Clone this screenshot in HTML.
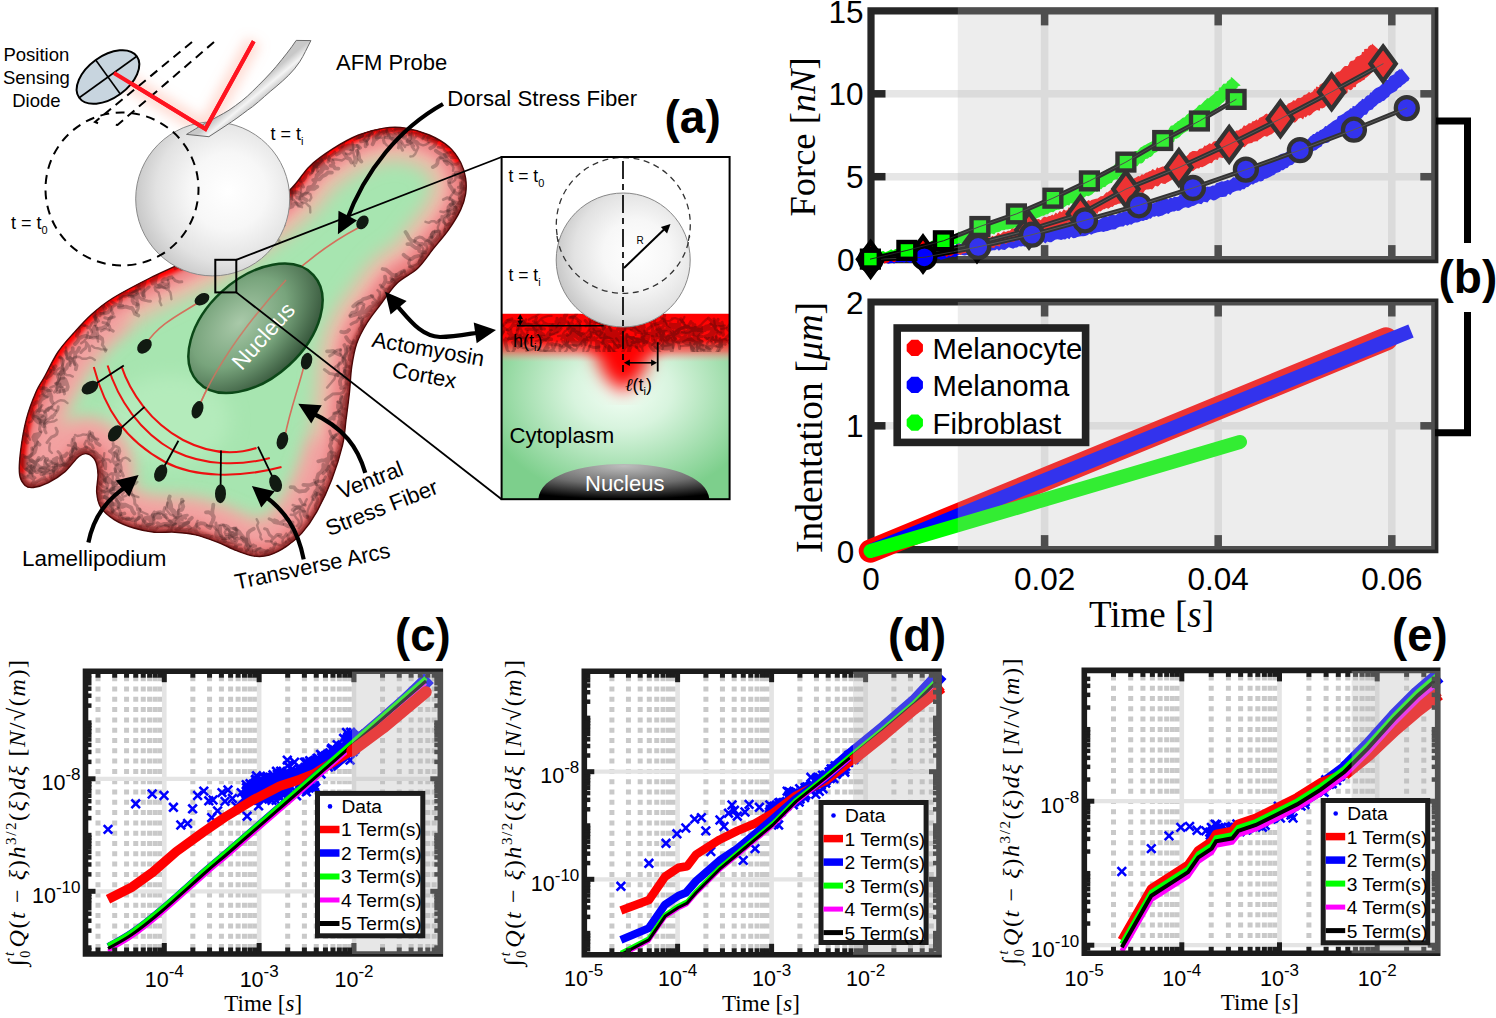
<!DOCTYPE html>
<html><head><meta charset="utf-8"><style>
html,body{margin:0;padding:0;background:#fff;overflow:hidden;}
svg{display:block;}
</style></head><body>
<svg width="1496" height="1018" viewBox="0 0 1496 1018" font-family='"Liberation Sans", sans-serif'>
<defs>
<radialGradient id="sph" cx="0.6" cy="0.45" r="0.62">
 <stop offset="0" stop-color="#ffffff"/><stop offset="0.4" stop-color="#f7f7f7"/><stop offset="0.75" stop-color="#e2e2e2"/><stop offset="1" stop-color="#c6c6c6"/>
</radialGradient>
<radialGradient id="nuc" cx="0.45" cy="0.35" r="0.7">
 <stop offset="0" stop-color="#a9c9a9"/><stop offset="0.5" stop-color="#78a47c"/><stop offset="1" stop-color="#2e4c33"/>
</radialGradient>
<linearGradient id="cant" gradientUnits="userSpaceOnUse" x1="262" y1="80" x2="272" y2="92">
 <stop offset="0" stop-color="#c8c8c8"/><stop offset="0.5" stop-color="#f4f4f4"/><stop offset="1" stop-color="#c4c4c4"/>
</linearGradient>
<radialGradient id="cyto" cx="0.53" cy="0.38" r="0.62">
 <stop offset="0" stop-color="#f4fff6"/><stop offset="0.35" stop-color="#d8f4de"/><stop offset="1" stop-color="#7dcf8c"/>
</radialGradient>
<radialGradient id="inuc" cx="0.5" cy="0.05" r="0.95">
 <stop offset="0" stop-color="#bdbdbd"/><stop offset="0.55" stop-color="#6e6e6e"/><stop offset="1" stop-color="#000"/>
</radialGradient>
<radialGradient id="redv" cx="0.5" cy="0" r="1">
 <stop offset="0" stop-color="#ff0000" stop-opacity="1"/><stop offset="0.6" stop-color="#ff2020" stop-opacity="0.7"/><stop offset="1" stop-color="#ff4040" stop-opacity="0"/>
</radialGradient>
<linearGradient id="redband" x1="0" y1="0" x2="0" y2="1">
 <stop offset="0" stop-color="#ff0000"/><stop offset="0.55" stop-color="#ff0a0a"/><stop offset="0.78" stop-color="#ff5050" stop-opacity="0.7"/><stop offset="1" stop-color="#ffa0a0" stop-opacity="0"/>
</linearGradient>
<filter id="b8" x="-20%" y="-20%" width="140%" height="140%"><feGaussianBlur stdDeviation="9"/></filter>
<filter id="b4" x="-20%" y="-20%" width="140%" height="140%"><feGaussianBlur stdDeviation="4"/></filter>
<filter id="b2" x="-20%" y="-20%" width="140%" height="140%"><feGaussianBlur stdDeviation="2"/></filter>
<filter id="b1"><feGaussianBlur stdDeviation="0.8"/></filter>
<filter id="glow" x="-30%" y="-30%" width="160%" height="160%"><feGaussianBlur stdDeviation="6"/></filter>
<marker id="ah" viewBox="0 0 10 10" refX="8" refY="5" markerWidth="4.2" markerHeight="4.2" orient="auto-start-reverse"><path d="M0,0 L10,5 L0,10 Z" fill="#000"/></marker>
<marker id="ahs" viewBox="0 0 10 10" refX="9" refY="5" markerWidth="5" markerHeight="5" orient="auto-start-reverse"><path d="M0,0.5 L10,5 L0,9.5 Z" fill="#000"/></marker>
</defs>
<rect width="1496" height="1018" fill="#fff"/>
<clipPath id="cellclip"><path d="M113,298 C122.67,292 135.5,285.33 150,278 C164.5,270.67 183.33,263.33 200,254 C216.67,244.67 235.03,232.67 250,222 C264.97,211.33 279.88,199.27 289.8,190 C299.72,180.73 302.3,173.28 309.5,166.4 C316.7,159.52 324.82,153.93 333,148.7 C341.18,143.47 350.08,138.43 358.6,135 C367.12,131.57 376.25,129.25 384.1,128.1 C391.95,126.95 398.17,126.95 405.7,128.1 C413.23,129.25 422.1,131.88 429.3,135 C436.5,138.12 443.67,142.22 448.9,146.8 C454.13,151.38 457.92,157.27 460.7,162.5 C463.48,167.73 464.78,172.97 465.6,178.2 C466.42,183.43 466.42,188.67 465.6,193.9 C464.78,199.13 463.48,203.7 460.7,209.6 C457.92,215.5 453.48,222.75 448.9,229.3 C444.32,235.85 438.43,242.37 433.2,248.9 C427.97,255.43 423.57,262.75 417.5,268.5 C411.43,274.25 403.03,277.3 396.8,283.4 C390.57,289.5 385.12,298.42 380.1,305.1 C375.08,311.78 370.6,317.1 366.7,323.5 C362.8,329.9 359.2,336.27 356.7,343.5 C354.2,350.73 352.9,358.82 351.7,366.9 C350.5,374.98 350.45,383.15 349.5,392 C348.55,400.85 347.15,411.2 346,420 C344.85,428.8 344.97,434.9 342.6,444.8 C340.23,454.7 336.12,468.23 331.8,479.4 C327.48,490.57 321.73,502.8 316.7,511.8 C311.67,520.8 306.65,527.63 301.6,533.4 C296.55,539.17 291.8,542.78 286.4,546.4 C281,550.02 274.6,553.48 269.2,555.1 C263.8,556.72 259.42,556.83 254,556.1 C248.58,555.37 242.82,553.03 236.7,550.7 C230.58,548.37 224.13,544.73 217.3,542.1 C210.47,539.47 202.75,536.55 195.7,534.9 C188.65,533.25 181.88,532.65 175,532.2 C168.12,531.75 161.27,532.9 154.4,532.2 C147.53,531.5 140.45,530.07 133.8,528 C127.15,525.93 120,523.23 114.5,519.8 C109,516.37 103.77,511.98 100.8,507.4 C97.83,502.82 97.17,497.8 96.7,492.3 C96.23,486.8 98.23,479.68 98,474.4 C97.77,469.12 97.13,464.03 95.3,460.6 C93.47,457.17 89.75,454.48 87,453.8 C84.25,453.12 82.47,453.53 78.8,456.5 C75.13,459.47 70.05,467.25 65,471.6 C59.95,475.95 53.77,479.95 48.5,482.6 C43.23,485.25 37.3,487.03 33.4,487.5 C29.5,487.97 27.4,487.58 25.1,485.4 C22.8,483.22 20.35,480.13 19.6,474.4 C18.85,468.67 19.45,460.3 20.6,451 C21.75,441.7 23.93,428.43 26.5,418.6 C29.07,408.77 33.05,398.88 36,392 C38.95,385.12 40.53,383.97 44.2,377.3 C47.87,370.63 53.08,359.38 58,352 C62.92,344.62 68.03,339.33 73.7,333 C79.37,326.67 85.45,319.83 92,314 C98.55,308.17 103.33,304 113,298Z"/></clipPath>
<path d="M114,73 L205.4,129 L253.7,41.2" fill="none" stroke="#ff9a80" stroke-opacity="0.35" stroke-width="16" filter="url(#glow)"/>
<path d="M192,42 L95,122 L101,124.5" fill="none" stroke="#000" stroke-width="2" stroke-dasharray="9 6"/>
<path d="M214,42 L117.5,125 L112,124" fill="none" stroke="#000" stroke-width="2" stroke-dasharray="9 6"/>
<g clip-path="url(#cellclip)">
<path d="M113,298 C122.67,292 135.5,285.33 150,278 C164.5,270.67 183.33,263.33 200,254 C216.67,244.67 235.03,232.67 250,222 C264.97,211.33 279.88,199.27 289.8,190 C299.72,180.73 302.3,173.28 309.5,166.4 C316.7,159.52 324.82,153.93 333,148.7 C341.18,143.47 350.08,138.43 358.6,135 C367.12,131.57 376.25,129.25 384.1,128.1 C391.95,126.95 398.17,126.95 405.7,128.1 C413.23,129.25 422.1,131.88 429.3,135 C436.5,138.12 443.67,142.22 448.9,146.8 C454.13,151.38 457.92,157.27 460.7,162.5 C463.48,167.73 464.78,172.97 465.6,178.2 C466.42,183.43 466.42,188.67 465.6,193.9 C464.78,199.13 463.48,203.7 460.7,209.6 C457.92,215.5 453.48,222.75 448.9,229.3 C444.32,235.85 438.43,242.37 433.2,248.9 C427.97,255.43 423.57,262.75 417.5,268.5 C411.43,274.25 403.03,277.3 396.8,283.4 C390.57,289.5 385.12,298.42 380.1,305.1 C375.08,311.78 370.6,317.1 366.7,323.5 C362.8,329.9 359.2,336.27 356.7,343.5 C354.2,350.73 352.9,358.82 351.7,366.9 C350.5,374.98 350.45,383.15 349.5,392 C348.55,400.85 347.15,411.2 346,420 C344.85,428.8 344.97,434.9 342.6,444.8 C340.23,454.7 336.12,468.23 331.8,479.4 C327.48,490.57 321.73,502.8 316.7,511.8 C311.67,520.8 306.65,527.63 301.6,533.4 C296.55,539.17 291.8,542.78 286.4,546.4 C281,550.02 274.6,553.48 269.2,555.1 C263.8,556.72 259.42,556.83 254,556.1 C248.58,555.37 242.82,553.03 236.7,550.7 C230.58,548.37 224.13,544.73 217.3,542.1 C210.47,539.47 202.75,536.55 195.7,534.9 C188.65,533.25 181.88,532.65 175,532.2 C168.12,531.75 161.27,532.9 154.4,532.2 C147.53,531.5 140.45,530.07 133.8,528 C127.15,525.93 120,523.23 114.5,519.8 C109,516.37 103.77,511.98 100.8,507.4 C97.83,502.82 97.17,497.8 96.7,492.3 C96.23,486.8 98.23,479.68 98,474.4 C97.77,469.12 97.13,464.03 95.3,460.6 C93.47,457.17 89.75,454.48 87,453.8 C84.25,453.12 82.47,453.53 78.8,456.5 C75.13,459.47 70.05,467.25 65,471.6 C59.95,475.95 53.77,479.95 48.5,482.6 C43.23,485.25 37.3,487.03 33.4,487.5 C29.5,487.97 27.4,487.58 25.1,485.4 C22.8,483.22 20.35,480.13 19.6,474.4 C18.85,468.67 19.45,460.3 20.6,451 C21.75,441.7 23.93,428.43 26.5,418.6 C29.07,408.77 33.05,398.88 36,392 C38.95,385.12 40.53,383.97 44.2,377.3 C47.87,370.63 53.08,359.38 58,352 C62.92,344.62 68.03,339.33 73.7,333 C79.37,326.67 85.45,319.83 92,314 C98.55,308.17 103.33,304 113,298Z" fill="#a7e5b0"/>
<ellipse cx="170" cy="420" rx="60" ry="45" fill="#b4ebbb" filter="url(#b8)"/>
<path d="M113,298 C122.67,292 135.5,285.33 150,278 C164.5,270.67 183.33,263.33 200,254 C216.67,244.67 235.03,232.67 250,222 C264.97,211.33 279.88,199.27 289.8,190 C299.72,180.73 302.3,173.28 309.5,166.4 C316.7,159.52 324.82,153.93 333,148.7 C341.18,143.47 350.08,138.43 358.6,135 C367.12,131.57 376.25,129.25 384.1,128.1 C391.95,126.95 398.17,126.95 405.7,128.1 C413.23,129.25 422.1,131.88 429.3,135 C436.5,138.12 443.67,142.22 448.9,146.8 C454.13,151.38 457.92,157.27 460.7,162.5 C463.48,167.73 464.78,172.97 465.6,178.2 C466.42,183.43 466.42,188.67 465.6,193.9 C464.78,199.13 463.48,203.7 460.7,209.6 C457.92,215.5 453.48,222.75 448.9,229.3 C444.32,235.85 438.43,242.37 433.2,248.9 C427.97,255.43 423.57,262.75 417.5,268.5 C411.43,274.25 403.03,277.3 396.8,283.4 C390.57,289.5 385.12,298.42 380.1,305.1 C375.08,311.78 370.6,317.1 366.7,323.5 C362.8,329.9 359.2,336.27 356.7,343.5 C354.2,350.73 352.9,358.82 351.7,366.9 C350.5,374.98 350.45,383.15 349.5,392 C348.55,400.85 347.15,411.2 346,420 C344.85,428.8 344.97,434.9 342.6,444.8 C340.23,454.7 336.12,468.23 331.8,479.4 C327.48,490.57 321.73,502.8 316.7,511.8 C311.67,520.8 306.65,527.63 301.6,533.4 C296.55,539.17 291.8,542.78 286.4,546.4 C281,550.02 274.6,553.48 269.2,555.1 C263.8,556.72 259.42,556.83 254,556.1 C248.58,555.37 242.82,553.03 236.7,550.7 C230.58,548.37 224.13,544.73 217.3,542.1 C210.47,539.47 202.75,536.55 195.7,534.9 C188.65,533.25 181.88,532.65 175,532.2 C168.12,531.75 161.27,532.9 154.4,532.2 C147.53,531.5 140.45,530.07 133.8,528 C127.15,525.93 120,523.23 114.5,519.8 C109,516.37 103.77,511.98 100.8,507.4 C97.83,502.82 97.17,497.8 96.7,492.3 C96.23,486.8 98.23,479.68 98,474.4 C97.77,469.12 97.13,464.03 95.3,460.6 C93.47,457.17 89.75,454.48 87,453.8 C84.25,453.12 82.47,453.53 78.8,456.5 C75.13,459.47 70.05,467.25 65,471.6 C59.95,475.95 53.77,479.95 48.5,482.6 C43.23,485.25 37.3,487.03 33.4,487.5 C29.5,487.97 27.4,487.58 25.1,485.4 C22.8,483.22 20.35,480.13 19.6,474.4 C18.85,468.67 19.45,460.3 20.6,451 C21.75,441.7 23.93,428.43 26.5,418.6 C29.07,408.77 33.05,398.88 36,392 C38.95,385.12 40.53,383.97 44.2,377.3 C47.87,370.63 53.08,359.38 58,352 C62.92,344.62 68.03,339.33 73.7,333 C79.37,326.67 85.45,319.83 92,314 C98.55,308.17 103.33,304 113,298Z" fill="none" stroke="#f0b8a8" stroke-width="66" filter="url(#b8)"/>
<path d="M113,298 C122.67,292 135.5,285.33 150,278 C164.5,270.67 183.33,263.33 200,254 C216.67,244.67 235.03,232.67 250,222 C264.97,211.33 279.88,199.27 289.8,190 C299.72,180.73 302.3,173.28 309.5,166.4 C316.7,159.52 324.82,153.93 333,148.7 C341.18,143.47 350.08,138.43 358.6,135 C367.12,131.57 376.25,129.25 384.1,128.1 C391.95,126.95 398.17,126.95 405.7,128.1 C413.23,129.25 422.1,131.88 429.3,135 C436.5,138.12 443.67,142.22 448.9,146.8 C454.13,151.38 457.92,157.27 460.7,162.5 C463.48,167.73 464.78,172.97 465.6,178.2 C466.42,183.43 466.42,188.67 465.6,193.9 C464.78,199.13 463.48,203.7 460.7,209.6 C457.92,215.5 453.48,222.75 448.9,229.3 C444.32,235.85 438.43,242.37 433.2,248.9 C427.97,255.43 423.57,262.75 417.5,268.5 C411.43,274.25 403.03,277.3 396.8,283.4 C390.57,289.5 385.12,298.42 380.1,305.1 C375.08,311.78 370.6,317.1 366.7,323.5 C362.8,329.9 359.2,336.27 356.7,343.5 C354.2,350.73 352.9,358.82 351.7,366.9 C350.5,374.98 350.45,383.15 349.5,392 C348.55,400.85 347.15,411.2 346,420 C344.85,428.8 344.97,434.9 342.6,444.8 C340.23,454.7 336.12,468.23 331.8,479.4 C327.48,490.57 321.73,502.8 316.7,511.8 C311.67,520.8 306.65,527.63 301.6,533.4 C296.55,539.17 291.8,542.78 286.4,546.4 C281,550.02 274.6,553.48 269.2,555.1 C263.8,556.72 259.42,556.83 254,556.1 C248.58,555.37 242.82,553.03 236.7,550.7 C230.58,548.37 224.13,544.73 217.3,542.1 C210.47,539.47 202.75,536.55 195.7,534.9 C188.65,533.25 181.88,532.65 175,532.2 C168.12,531.75 161.27,532.9 154.4,532.2 C147.53,531.5 140.45,530.07 133.8,528 C127.15,525.93 120,523.23 114.5,519.8 C109,516.37 103.77,511.98 100.8,507.4 C97.83,502.82 97.17,497.8 96.7,492.3 C96.23,486.8 98.23,479.68 98,474.4 C97.77,469.12 97.13,464.03 95.3,460.6 C93.47,457.17 89.75,454.48 87,453.8 C84.25,453.12 82.47,453.53 78.8,456.5 C75.13,459.47 70.05,467.25 65,471.6 C59.95,475.95 53.77,479.95 48.5,482.6 C43.23,485.25 37.3,487.03 33.4,487.5 C29.5,487.97 27.4,487.58 25.1,485.4 C22.8,483.22 20.35,480.13 19.6,474.4 C18.85,468.67 19.45,460.3 20.6,451 C21.75,441.7 23.93,428.43 26.5,418.6 C29.07,408.77 33.05,398.88 36,392 C38.95,385.12 40.53,383.97 44.2,377.3 C47.87,370.63 53.08,359.38 58,352 C62.92,344.62 68.03,339.33 73.7,333 C79.37,326.67 85.45,319.83 92,314 C98.55,308.17 103.33,304 113,298Z" fill="none" stroke="#f29c9c" stroke-width="40" filter="url(#b4)"/>
<path d="M342.6,444.8 L341.8,447.9 L341.0,451.1 L340.0,454.5 L339.0,458.0 L337.9,461.6 L336.8,465.2 L335.6,468.9 L334.4,472.5 L333.1,476.0 L331.8,479.4 L330.5,482.8 L329.1,486.2 L327.6,489.6 L326.1,493.0 L324.5,496.4 L322.9,499.7 L321.4,502.9 L319.8,506.0 L318.2,509.0 L316.7,511.8 L315.2,514.4 L313.7,516.9 L312.2,519.3 L310.7,521.6 L309.2,523.8 L307.6,525.9 L306.1,527.9 L304.6,529.8 L303.1,531.6 L301.6,533.4 L300.1,535.1 L298.6,536.6 L297.1,538.1 L295.6,539.4 L294.1,540.7 L292.6,541.9 L291.1,543.1 L289.6,544.2 L288.0,545.3 L286.4,546.4 L284.8,547.5 L283.1,548.5 L281.3,549.6 L279.6,550.6 L277.8,551.5 L276.0,552.4 L274.3,553.2 L272.5,553.9 L270.8,554.6 L269.2,555.1 L267.6,555.5 L266.1,555.9 L264.6,556.2 L263.1,556.4 L261.6,556.5 L260.1,556.5 L258.7,556.5 L257.1,556.4 L255.6,556.3 L254.0,556.1 L252.4,555.8 L250.7,555.5 L249.0,555.1 L247.3,554.6 L245.6,554.0 L243.9,553.4 L242.1,552.8 L240.3,552.1 L238.5,551.4 L236.7,550.7 L234.9,550.0 L233.0,549.2 L231.1,548.3 L229.2,547.4 L227.3,546.5 L225.3,545.6 L223.3,544.7 L221.4,543.8 L219.3,542.9 L217.3,542.1 L215.2,541.3 L213.1,540.5 L211.0,539.7 L208.8,538.9 L206.6,538.1 L204.4,537.4 L202.2,536.7 L200.0,536.0 L197.8,535.4 L195.7,534.9 L193.6,534.4 L191.5,534.0 L189.4,533.7 L187.4,533.4 L185.3,533.1 L183.2,532.9 L181.2,532.7 L179.1,532.5 L177.1,532.3 L175.0,532.2 L172.9,532.1 L170.9,532.1 L168.8,532.1 L166.8,532.2 L164.7,532.3 L162.6,532.4 L160.6,532.4 L158.5,532.4 L156.5,532.4 L154.4,532.2 L152.3,532.0 L150.3,531.7 L148.2,531.4 L146.1,531.0 L144.0,530.6 L141.9,530.2 L139.9,529.7 L137.8,529.2 L135.8,528.6 L133.8,528.0 L131.8,527.4 L129.8,526.7 L127.7,526.0 L125.7,525.2 L123.7,524.4 L121.8,523.6 L119.8,522.7 L118.0,521.8 L116.2,520.8 L114.5,519.8 L112.9,518.7 L111.2,517.6 L109.7,516.5 L108.2,515.3 L106.7,514.0 L105.3,512.8 L104.0,511.5 L102.8,510.1 L101.8,508.8 L100.8,507.4 L100.0,506.0 L99.3,504.6 L98.7,503.2 L98.2,501.7 L97.8,500.2 L97.5,498.7 L97.2,497.1 L97.0,495.5 L96.8,493.9 L96.7,492.3 L96.6,490.6 L96.7,488.8 L96.8,487.0 L97.0,485.1 L97.3,483.3 L97.5,481.4 L97.7,479.6 L97.9,477.8 L98.0,476.0 L98.0,474.4 L97.9,472.8 L97.8,471.3 L97.7,469.7 L97.5,468.2 L97.2,466.8 L97.0,465.4 L96.6,464.1 L96.3,462.8 L95.8,461.7 L95.3,460.6 L94.7,459.6 L94.0,458.6 L93.2,457.7 L92.4,456.9 L91.5,456.2 L90.6,455.5 L89.7,454.9 L88.7,454.4 L87.9,454.1 L87.0,453.8 L86.2,453.6 L85.4,453.5 L84.7,453.5 L84.0,453.6 L83.2,453.8 L82.5,454.1 L81.7,454.5 L80.8,455.0 L79.8,455.7 L78.8,456.5 L77.7,457.5 L76.4,458.8 L75.2,460.2 L73.8,461.8 L72.4,463.5 L71.0,465.3 L69.5,467.0 L68.0,468.6 L66.5,470.2 L65.0,471.6 L63.5,472.9 L61.9,474.2 L60.2,475.4 L58.5,476.6 L56.8,477.7 L55.1,478.8 L53.4,479.9 L51.8,480.9 L50.1,481.8 L48.5,482.6 L46.9,483.4 L45.3,484.1 L43.7,484.7 L42.0,485.3 L40.4,485.9 L38.9,486.3 L37.4,486.7 L36.0,487.1 L34.6,487.3 L33.4,487.5 L32.3,487.6 L31.3,487.7 L30.3,487.7 L29.5,487.6 L28.7,487.4 L27.9,487.2 L27.2,486.9 L26.5,486.5 L25.8,486.0 L25.1,485.4 L24.4,484.7 L23.7,484.0 L23.0,483.1 L22.4,482.2 L21.8,481.2 L21.2,480.1 L20.7,478.9 L20.2,477.5 L19.9,476.0 L19.6,474.4 L19.4,472.6 L19.3,470.7 L19.3,468.6 L19.3,466.4 L19.4,464.0 L19.5,461.6 L19.7,459.1 L20.0,456.5 L20.3,453.8 L20.6,451.0 L21.0,448.1 L21.4,445.0 L21.9,441.8 L22.4,438.4 L23.0,435.0 L23.6,431.6 L24.3,428.2 L25.0,424.9 L25.7,421.6 L26.5,418.6 L27.3,415.7 L28.2,412.7 L29.1,409.8 L30.1,407.0 L31.1,404.2 L32.1,401.5 L33.1,398.9 L34.1,396.5 L35.1,394.2 L36.0,392.0 L36.8,390.1 L37.6,388.5 L38.4,387.0 L39.1,385.8 L39.8,384.6 L40.6,383.4 L41.4,382.1 L42.2,380.7 L43.2,379.1 L44.2,377.3 L45.3,375.2 L46.6,372.8 L47.9,370.3 L49.2,367.6 L50.6,364.9 L52.1,362.2 L53.5,359.5 L55.0,356.8 L56.5,354.3 L58.0,352.0 L59.5,349.8 L61.0,347.8 L62.5,345.8 L64.0,343.9 L65.6,342.1 L67.1,340.3 L68.7,338.5 L70.4,336.7 L72.0,334.9 L73.7,333.0 L75.4,331.1 L77.2,329.2 L78.9,327.2 L80.7,325.3 L82.5,323.3 L84.4,321.4 L86.2,319.5 L88.1,317.6 L90.0,315.8 L92.0,314.0 L93.9,312.3 L95.8,310.7 L97.6,309.1 L99.4,307.6 L101.3,306.1 L103.3,304.5 L105.4,303.0 L107.7,301.4 L110.2,299.7 L113.0,298.0" fill="none" stroke="#f2a0a0" stroke-width="64" filter="url(#b8)"/>
<path d="M113,298 C122.67,292 135.5,285.33 150,278 C164.5,270.67 183.33,263.33 200,254 C216.67,244.67 235.03,232.67 250,222 C264.97,211.33 279.88,199.27 289.8,190 C299.72,180.73 302.3,173.28 309.5,166.4 C316.7,159.52 324.82,153.93 333,148.7 C341.18,143.47 350.08,138.43 358.6,135 C367.12,131.57 376.25,129.25 384.1,128.1 C391.95,126.95 398.17,126.95 405.7,128.1 C413.23,129.25 422.1,131.88 429.3,135 C436.5,138.12 443.67,142.22 448.9,146.8 C454.13,151.38 457.92,157.27 460.7,162.5 C463.48,167.73 464.78,172.97 465.6,178.2 C466.42,183.43 466.42,188.67 465.6,193.9 C464.78,199.13 463.48,203.7 460.7,209.6 C457.92,215.5 453.48,222.75 448.9,229.3 C444.32,235.85 438.43,242.37 433.2,248.9 C427.97,255.43 423.57,262.75 417.5,268.5 C411.43,274.25 403.03,277.3 396.8,283.4 C390.57,289.5 385.12,298.42 380.1,305.1 C375.08,311.78 370.6,317.1 366.7,323.5 C362.8,329.9 359.2,336.27 356.7,343.5 C354.2,350.73 352.9,358.82 351.7,366.9 C350.5,374.98 350.45,383.15 349.5,392 C348.55,400.85 347.15,411.2 346,420 C344.85,428.8 344.97,434.9 342.6,444.8 C340.23,454.7 336.12,468.23 331.8,479.4 C327.48,490.57 321.73,502.8 316.7,511.8 C311.67,520.8 306.65,527.63 301.6,533.4 C296.55,539.17 291.8,542.78 286.4,546.4 C281,550.02 274.6,553.48 269.2,555.1 C263.8,556.72 259.42,556.83 254,556.1 C248.58,555.37 242.82,553.03 236.7,550.7 C230.58,548.37 224.13,544.73 217.3,542.1 C210.47,539.47 202.75,536.55 195.7,534.9 C188.65,533.25 181.88,532.65 175,532.2 C168.12,531.75 161.27,532.9 154.4,532.2 C147.53,531.5 140.45,530.07 133.8,528 C127.15,525.93 120,523.23 114.5,519.8 C109,516.37 103.77,511.98 100.8,507.4 C97.83,502.82 97.17,497.8 96.7,492.3 C96.23,486.8 98.23,479.68 98,474.4 C97.77,469.12 97.13,464.03 95.3,460.6 C93.47,457.17 89.75,454.48 87,453.8 C84.25,453.12 82.47,453.53 78.8,456.5 C75.13,459.47 70.05,467.25 65,471.6 C59.95,475.95 53.77,479.95 48.5,482.6 C43.23,485.25 37.3,487.03 33.4,487.5 C29.5,487.97 27.4,487.58 25.1,485.4 C22.8,483.22 20.35,480.13 19.6,474.4 C18.85,468.67 19.45,460.3 20.6,451 C21.75,441.7 23.93,428.43 26.5,418.6 C29.07,408.77 33.05,398.88 36,392 C38.95,385.12 40.53,383.97 44.2,377.3 C47.87,370.63 53.08,359.38 58,352 C62.92,344.62 68.03,339.33 73.7,333 C79.37,326.67 85.45,319.83 92,314 C98.55,308.17 103.33,304 113,298Z" fill="none" stroke="#ec8080" stroke-width="26" filter="url(#b4)"/>
<path d="M19.6,474.4 L19.4,472.6 L19.3,470.7 L19.3,468.6 L19.3,466.4 L19.4,464.0 L19.5,461.6 L19.7,459.1 L20.0,456.5 L20.3,453.8 L20.6,451.0 L21.0,448.1 L21.4,445.0 L21.9,441.8 L22.4,438.4 L23.0,435.0 L23.6,431.6 L24.3,428.2 L25.0,424.9 L25.7,421.6 L26.5,418.6 L27.3,415.7 L28.2,412.7 L29.1,409.8 L30.1,407.0 L31.1,404.2 L32.1,401.5 L33.1,398.9 L34.1,396.5 L35.1,394.2 L36.0,392.0 L36.8,390.1 L37.6,388.5 L38.4,387.0 L39.1,385.8 L39.8,384.6 L40.6,383.4 L41.4,382.1 L42.2,380.7 L43.2,379.1 L44.2,377.3 L45.3,375.2 L46.6,372.8 L47.9,370.3 L49.2,367.6 L50.6,364.9 L52.1,362.2 L53.5,359.5 L55.0,356.8 L56.5,354.3 L58.0,352.0 L59.5,349.8 L61.0,347.8 L62.5,345.8 L64.0,343.9 L65.6,342.1 L67.1,340.3 L68.7,338.5 L70.4,336.7 L72.0,334.9 L73.7,333.0 L75.4,331.1 L77.2,329.2 L78.9,327.2 L80.7,325.3 L82.5,323.3 L84.4,321.4 L86.2,319.5 L88.1,317.6 L90.0,315.8 L92.0,314.0 L93.9,312.3 L95.8,310.7 L97.6,309.1 L99.4,307.6 L101.3,306.1 L103.3,304.5 L105.4,303.0 L107.7,301.4 L110.2,299.7 L113.0,298.0 L116.0,296.2 L119.2,294.3 L122.5,292.4 L126.0,290.5 L129.7,288.5 L133.5,286.5 L137.4,284.4 L141.5,282.3 L145.7,280.2 L150.0,278.0 L154.5,275.8 L159.2,273.6 L164.0,271.3 L169.1,269.1 L174.2,266.8 L179.4,264.4 L184.6,261.9 L189.8,259.4 L194.9,256.7 L200.0,254.0 L205.0,251.1 L210.2,248.1 L215.3,245.0 L220.5,241.8 L225.6,238.5 L230.7,235.2 L235.7,231.9 L240.7,228.5 L245.4,225.2 L250.0,222.0 L254.5,218.8 L258.9,215.5 L263.3,212.1 L267.6,208.8 L271.8,205.5 L275.8,202.2 L279.7,199.0 L283.3,195.9 L286.7,192.9 L289.8,190.0 L292.6,187.3 L295.0,184.6 L297.1,182.1 L298.9,179.7 L300.7,177.3 L302.3,175.0 L303.9,172.8 L305.6,170.6 L307.5,168.5 L309.5,166.4 L311.7,164.4 L313.9,162.4 L316.2,160.5 L318.5,158.7 L320.9,156.9 L323.3,155.2 L325.7,153.5 L328.1,151.9 L330.5,150.3 L333.0,148.7 L335.5,147.1 L338.0,145.6 L340.5,144.1 L343.1,142.6 L345.7,141.2 L348.3,139.8 L350.9,138.5 L353.5,137.2 L356.0,136.1 L358.6,135.0 L361.2,134.0 L363.8,133.1 L366.4,132.2 L369.0,131.4 L371.6,130.7 L374.2,130.0 L376.7,129.4 L379.3,128.9 L381.7,128.5 L384.1,128.1 L386.4,127.8 L388.6,127.5 L390.8,127.4 L392.9,127.3 L395.0,127.2 L397.1,127.3 L399.2,127.4 L401.3,127.5 L403.5,127.8 L405.7,128.1 L408.0,128.5 L410.4,129.0 L412.8,129.5 L415.2,130.1 L417.6,130.8 L420.1,131.6 L422.5,132.4 L424.8,133.2 L427.1,134.1 L429.3,135.0 L431.5,136.0 L433.6,137.0 L435.7,138.1 L437.8,139.2 L439.8,140.3 L441.8,141.6 L443.7,142.8 L445.5,144.1 L447.3,145.4 L448.9,146.8 L450.4,148.2 L451.9,149.7 L453.2,151.2 L454.5,152.8 L455.7,154.4 L456.9,156.0 L457.9,157.7 L458.9,159.3 L459.8,160.9 L460.7,162.5" fill="none" stroke="#ff0000" stroke-width="11" filter="url(#b2)"/>
<path d="M201.3,256.2l0.5,-2.8 1.7,-3.6 1.6,-2.6 2.6,-0.4 2.5,1.4 2.7,-0.4 3.3,-1.7M339.4,362.6l-1.2,3.3 0.4,3.4 0.2,3.8 -1,2.7M50.1,474.1l0.3,3.2 1.7,2 3.6,0.4 2.4,-1.6 2.8,-2.7M310.2,174.5l2.6,-2.8 1.1,-2.9 0.4,-3.8 2.1,-1.7M287.3,534.9l-2.5,2 -1.9,1.8 -0.5,3 1.1,3.5 2,1.6 0.3,3.3M178.3,514.4l-0.1,-3.8 1,-2.7 0.2,-2.8 1.8,-2.7 2.7,-1.4M285.6,541.8l-1.5,2.8 -3.5,1 -3.6,-1.5 -3.3,0.1 -2.7,-2.6 -2.7,-0.3 -2.6,-0.1M299.4,199.7l0.6,-2.5 1.6,-2.7 -0.8,-3.8 0.2,-3.7 -2.5,-2.9M35.3,477.8l-2.4,-1.8 -1.1,-3.4 -0.2,-3.1 -0.9,-2.5M91.9,332.3l-1,-2.6 -1.6,-2.1 -3,-1.7 -3.7,-0.2 -2.9,2.3M111.5,498.9l2.9,-1.8 3.5,0.6 2.4,1.4M167.9,279.8l1,3.2 0.2,3.4 -0.9,3.2 2.2,2.9 0.6,3.2 0.4,3.5M338.1,433.5l-2.7,2 -1.5,2.1 -1.5,2.5M444.1,160.6l2.9,0.6 2.8,2.4 2.2,1.4 1.5,2.7 -0.5,3.2M225.7,539.4l-3.4,0.4 -2.1,2.6 -3.1,1 -2.8,1.2 -3.1,-0.1 -2.9,-0.4M79.8,331.6l0,-3.8 -0.6,-3.4 -1,-2.9 1,-3.8M154.6,287.3l0.8,3.1 3.2,2.1 0.8,3.2 0.9,3.1 -0.6,2.7 1.6,3.7M70.2,365.9l0.5,-3.6 -1.8,-2 -1.5,-2.1 -1,-3.8 -0,-3.3 -0.5,-3.6M118.3,508.1l-3.4,1.5 -1.8,2.2 -2.7,1.2 -3,-1.2M38.2,418.9l2.4,1.3 2.6,0.9 1.1,2.5M455.8,176.8l2.9,0.7 3.7,-0 2,-2 2.7,-0.9M422.6,138.9l2,-3.2 2,-2.3 1.9,-3.5 1.5,-2.5M235.7,528.6l-2.8,-0.5 -3.1,-0.2 -2,-2 -3.4,0.2 -2.4,-1.5 -3.2,0.7M353.6,340.0l-1,3.2 -1.4,2.5 -0.8,2.6M241.1,544.6l-2.7,-0.1 -2.1,1.7 -2.6,1.6M269.0,210.6l-2.2,-2.6 -2.6,-2 -2.9,0 -3.9,-0.1 -2.6,2 -3.9,0.4M233.6,543.0l-3.1,-0.4 -2.6,-0 -3.1,-0.7 -3.6,0.9 -3.1,-0.8 -3,1M197.5,261.5l2.4,-2.5 -0.2,-2.7 1.9,-2.3 2.3,-1.2 3.9,-0.1 3.5,0.9M91.8,345.8l3,2.1 2.9,0.3 2.9,1 2.6,0.2 3.4,0.3M40.2,422.4l3.4,-1.2 2.7,-2.7 -0.1,-3.3 -0.5,-2.8 -3.1,-2 -3.2,1 -2.4,-1.3M87.5,328.1l2.8,-1.6 1.7,-3.5 2.5,-1.4 1.6,-3.5M30.0,439.7l-1.8,-3.3 -0.6,-3.7 -1,-3.5 -0.4,-2.9 -2.1,-2.7 -3.8,-0.6 -2.3,1.2M389.1,133.9l2.9,0.8 2.8,-0.2 2.9,1.9 1.5,2.3 2.3,2.9 1.4,2.3 2.1,3.1M341.6,422.1l-0.3,2.7 1.1,2.8 0.9,2.6 1.6,2.3 -0.8,3.5 1.8,3.5 2.9,1M72.2,439.1l-0.6,3.8 0.9,3.7 0.7,2.4 -1,3M338.5,410.6l1.4,3.3 2.7,0.8 2.2,2.9 1.6,3M395.3,282.0l-2.5,2.4 -2.2,1.6 -1.7,2.6 -3.9,0.6 -3,-2.6 -2.1,-1.7M419.5,260.4l-1.7,3.3 -2.6,1.5 -2.9,0.8 -3.3,1M221.9,536.6l-3.1,-2.2 -0.8,-3.5 -2.9,-2.4 -1.5,-2.1 -3.9,-0.2 -2.7,-0.9M299.6,508.1l1.2,2.4 -0.9,3.6 1.3,3.6 0.5,3.7 -0.6,3.7 -2.4,3M314.3,479.9l0.9,3.1 2,2.6 -0.6,3.4 -2,2.3 -1,2.7 -1.8,3M319.9,494.2l1.9,1.6 2.3,2.5 0.1,3.2 -0.2,3.8 -1.6,2.7 -2.3,2M147.5,514.3l-3.1,-1.3 -3.2,-1.3 -1.8,-3.4M298.8,507.6l-3,1.3 -1.6,2.3 0.3,3.7 1.6,2.9 2.5,2.8 0.3,2.8 -2,2.6M57.1,389.5l-1.1,-3.3 1.6,-3.1 0.9,-3 -1.2,-3.8 1.5,-2.3M140.9,525.7l0.2,3.4 1,3.5 -0.9,3.8 -2.5,1.7M260.2,548.1l-3.2,1.4 -1.3,2.4 1,3.5 0.5,2.6M55.9,383.6l2.1,-1.8 2.3,-3.3 3.9,-0.2M404.1,270.9l1.5,3.1 1.6,2.8 1.6,2.8 0,3.9 1.2,2.8M118.3,460.1l-1.1,-2.4 -0.1,-3.2 -2.8,-2.4M250.0,546.3l-2,3.3 -2,1.5 -0.8,3.1 -0.8,2.9 1.3,2.8 3,1.6M292.3,199.0l2,1.5 2.2,2.8 1.6,3 3.9,0.9M409.0,134.7l2.7,-0.4 2.5,-1.3 2.8,-0.5 3,-1 2.6,1.8M51.9,453.0l-2.4,-2.4 -0.2,-3.4 0.7,-3.7M110.7,473.7l3.5,0.6 3.2,0.1 2.5,-2.5 1.6,-2 -0.2,-2.8 -0.8,-3.2 0.1,-3.8M377.5,290.1l2,2.2 0.4,3.3 -0.5,2.8 -0.5,3.3 0.8,3.3 0.8,3.9 0.2,3.2M291.8,198.4l0.4,-2.7 0.6,-3.7 1.4,-3.5M237.4,530.2l-2.9,-1.1 -2.9,-0.8 -2.9,-0.5 -2.8,2.3 -1.2,2.4M175.6,518.1l-2.3,-2.6 -3.3,-1.2 -2.2,-2.9 -1.7,-2.3 0.7,-3.6 0.7,-2.7M393.0,131.2l2.8,-2.1 2.6,-0.7 3.3,0.3 3.2,-1.3 1.6,-2.7 3.4,-1M459.4,198.6l1.8,3.5 0.5,2.8 1.7,2.2 3.6,0.2 2.3,1.8M81.2,343.2l2.9,-2 2,-2.8 1.4,-3.2 0.4,-2.8M304.9,511.4l-3.3,-0.4 -2.7,0.2 -3,2.4 -2.3,1.4 -2.9,-0.2M333.1,159.5l2.8,0 2.7,0.4 3.3,0.6 2.6,-1.7M73.6,456.3l-3.3,1.6 -1.6,3.6 -1.9,1.8 -3.1,0.5 -2.9,2.7 -2.9,2.1 -1.1,3.6M398.8,132.5l1.4,3.1 2.2,1.1 3.6,-0.9M299.5,199.9l2.5,2.2 3.9,1.1 2.1,2 2,1.5 0.2,3.2 0.1,2.6M438.0,147.3l3.3,0.5 3.1,-1.7 3.8,0.9 2.5,-1.3 2.7,-2 0.8,-3.6 2,-2M46.0,424.0l1.8,-1.7 3.2,-0.4 3.3,-0.6 2.3,-1.5M461.9,196.3l-0.9,2.6 0.4,3.5 1.8,2.6 3.1,1.4 1.6,3 3.1,1.9 0.7,3.3M205.9,264.4l1,-2.7 1.4,-2.1 0.7,-2.5 -0.1,-3.8M236.1,542.3l-3.7,-1 -1.8,-1.9 -2,-3.1 1,-2.9 3.4,-1.7M38.7,470.3l1.5,-2.4 3.2,-0.5 3,0.2 2.6,1.9 3.6,1.2M350.5,150.3l2.8,1.7 0.6,3.6 0.8,3.8 -1.1,3.8 1.1,2.7M453.0,210.1l-3.1,1.5 -2.6,-1 -3.3,1.6 -3.6,-0.7M435.0,230.6l0.4,3 -2.1,2.9 -3.8,1 -1.3,2.6 -2.9,1.9 -0.5,3.2M117.9,299.5l2.4,-1.1 2.5,-2.1 3,0.2 3.6,-1.8 3.5,0.9 2.7,-0.5 2.2,-1.5M376.1,138.2l3,-0.4 3.3,0 1.6,2.1 0.6,3 1.8,2 2.9,2M94.3,316.6l1.5,-2.6 0.2,-3.8 0.6,-3.2 0,-2.6 -1.2,-3.6 0.8,-3.7 -0.6,-2.7M357.1,145.3l1.5,2.3 -0.6,2.9 -0.4,3.6 -1.5,3.3 1.2,2.3 -1.2,3.5M46.2,378.4l1.7,-3.5 1.7,-1.9 1.4,-2.9M32.7,449.7l0.9,-2.4 2.8,-2.2 1.3,-3.4M103.7,504.2l-3.2,-1.4 -3.2,1 -1.9,2.9M389.3,135.6l1,2.4 1.7,2.1 3.4,1.3M57.1,467.8l-2.7,-0.7 -3.9,0.2 -2.3,-1.1 -1.5,-2.3 -1.5,-2.3 -0.1,-3.6M48.3,410.7l1.6,-2.6 2.8,-2.7 2.7,-2.5 2.9,-1.8 2.5,-0.9 3.6,0.6 3.1,2.3M23.4,475.5l-3.4,-1.7 -2.5,-1.6 -0.6,-2.9M98.1,341.5l-0.7,-3.5 0.6,-3.4 -0.6,-2.5 -0.2,-3.7 -1.3,-2.5M107.2,488.1l0.9,-3.3 -1.7,-2.8 -1.9,-2.6 -3.3,-2.1 -0.5,-3.3 -2,-2.7M121.8,494.8l1.8,-1.8 0.7,-2.5 2.8,-2.1 2.7,-1.2 2.1,-1.7 3.6,-1.7 1.8,-1.9M273.1,207.1l0.6,-2.5 2.9,-2.7 0.3,-3.6 -1.5,-3 1.1,-3.7 -0,-3.3 -0.3,-3.6M175.4,523.4l-2.1,1.5 -1.8,3.6 0.1,3.1 -1.7,3.3 -2.5,2.7 0.3,2.6M58.1,463.4l-1.1,3.8 -1.2,2.4 -1.7,3 0.6,2.8M50.3,387.6l2.9,-1.3 3.1,-0.2 2.5,0.9 1.3,2.7 -0.3,2.5M242.8,231.6l0.5,-2.5 -1.3,-3.6 -2.9,-2 -2.5,-2.4 -2.7,-0.5M425.4,242.8l1.2,2.5 0.5,3.8 -1.5,2.2 -3.4,1.9 -0.8,3.4M253.5,236.7l2.8,-1.6 1.8,-2 2,-2.5 3.7,-0.3M123.1,499.5l-1.9,-1.6 -2.9,-2.2 -3.2,-1.9 -3.9,-0.7M347.9,346.0l-1.1,3.2 0.2,3.1 -2.4,3.1 -0,3M454.9,189.5l-1,2.5 -1.7,2.4 -1.8,2.1 -0.9,3.3M324.1,492.1l-1.1,2.6 0.5,2.8 -1.9,3.1 -0.1,2.6M72.8,376.6l-2.7,-1.3 -3.6,-0.2 -2.3,-2.1 -0.1,-2.9 -1.2,-2.3M168.6,527.0l-3,-1.2 -3.8,0.7 -2.6,0.2 -2.7,2.3 -2.2,2.8M463.8,186.0l-0.3,2.8 -1.7,3.3 -2.4,1.5M337.6,373.2l-2.2,2.2 -0.9,3.5 -2.6,3 -2.4,2.9 -2.4,2.8M415.7,137.0l-2.4,2.5 -1.4,3.3 -3.1,1.7 -2.5,0.6M200.1,266.2l1.7,-2.4 1.6,-2.6 2.8,-2.7 2.4,-1.7 2.3,-3 2.7,-1.3M363.3,318.7l-1.5,2.6 -0.8,3.5 1.1,3.1 1.2,3.3 3.3,2.2 0.3,3.3M366.5,141.2l2.6,-2.9 0.4,-3.6 0.6,-2.8M287.8,200.9l2.8,-2.3 1.2,-2.6 -0.6,-3 0.1,-3 -1.6,-2.3 -2.7,-0.7 -3.2,0.3M332.7,463.9l2.3,2.7 2.8,0.1 2.6,-2.6 0.4,-2.9 -1.7,-2.3 -0.8,-3.5M232.7,249.3l2.4,-1.8 0.5,-2.7 -1.8,-2.3 -0.9,-2.7 -0.9,-2.5 -2.4,-1.8 -0.3,-2.8M110.3,491.0l3,-1.9 0.5,-3.3 -1.6,-2.7 0.5,-3.3 0.1,-3.9 1.4,-2.1 1.5,-2.7M439.6,220.0l-0.4,3.6 -1.4,3.5 0.2,2.8 -1.8,2.2M199.6,528.5l-3,-2.3 -0.1,-2.6 1.1,-2.7M280.4,216.1l-0.2,-2.7 -2.2,-2.6 -0.4,-2.7 -0.5,-3.3 -0.2,-3.2 0.1,-2.5 -2.2,-2.2M403.1,130.8l2.4,1.2 3.5,1.7 2.6,1.9 0.2,3.6 -1.4,3.5M380.5,285.0l0.7,2.4 3.1,1.9 1.2,3.2 3.2,2.1 1.5,2.2 2.6,2.4M302.1,196.0l1.8,-2.4 3.6,-0.7 3,1.5 0.9,3.3 -1.7,2.9M41.5,471.7l-2.5,-1.1 -2.8,-2.2 -2.4,-1 -2.2,-1.9 -2.7,0.4 -1.9,2.5M120.4,475.9l-3.3,-1.2 -2.8,-1.6 -2.8,0.4 -2.7,1.5 -2.9,2.6 -0.5,3.9 1.2,3.6M454.4,213.3l-3.6,0.7 -3,2.1 -3.2,2.5 -0.4,3 1.3,3.2 -0.5,3.7 -0.6,3.1M101.1,331.2l3.3,-1.8 2.6,-0.5 2.3,1.5M286.3,533.6l-2,3 -2.8,1.1 -3.1,-1.7M60.3,472.1l-2.9,2 -2.6,1.9 -1.1,2.5 -2.2,2.8 -0.8,3.3M454.6,174.3l1.1,3 -0.6,2.8 -3,2.2 -2.8,0.6M73.7,357.6l2.6,-0.8 3.2,0.2 2.7,1.7 3.9,0.1 3.4,-1.3 2.8,0.7 2.6,1.7M412.1,141.1l3.4,1.9 1.7,2.1 1,2.4 -1.4,2.9 -1.5,3.4 -2.2,2.3 -2.7,0.4M342.4,424.7l1.9,1.9 3.3,0.8 3,-1.1 3.1,-0.8 3.6,-0.9 1.7,-3.6M315.0,168.2l1.9,-2 1.2,-2.6 3.1,-2M31.4,465.6l0.1,2.9 -1.6,2.4 0,2.5 -1.9,2.1M411.8,133.3l1.5,3.7 1.1,3.3 1.6,2M94.4,454.6l-0.6,-2.5 -2.9,-2 -2.4,-2.2 -2.8,-0.9 -1.3,-2.8 1.7,-3.4M110.8,488.5l2.9,-2 3.3,-1.8 1.4,-3 0.1,-3.1 -1.8,-3 -1.5,-3.4 -0.6,-3.4M315.6,164.5l2.3,-1.7 2.6,-0.9 2.9,-2.1 2,-1.6M61.8,470.9l-1.6,2 -1.9,2.4 -3.1,0.3M110.6,462.1l-1.9,-2.5 -3.7,-0.5 -1.9,1.7 -3.1,0.7 -3,2.7M52.5,365.9l-2.1,-1.7 -0.6,-2.4 1.2,-3.4 2.1,-2.1 0,-3 2.4,-2.4M76.7,449.2l-2.8,-1.4 -3.2,-2.2 -2.8,-0.4M452.2,200.4l0.7,3.9 2.8,2.6 2.1,3.2 2.7,3 3.7,-0 2.6,1.6 1.2,2.6M439.9,231.5l0.4,4 1.2,2.8 -1.7,3.2 1.1,3 1.1,3.3 -0.7,2.6 0.3,2.6M391.3,138.1l2.5,-0.9 2.7,0.2 2.4,-1.2 1.5,-2.9 2.4,-1.8 0.9,-2.9 0.4,-2.7M112.1,488.7l0.8,-2.7 1.1,-3.2 1.9,-2 1.2,-2.8 -0.9,-2.9 0.3,-3.3 -1.7,-3.2M128.4,294.9l2.7,-1.1 2.8,-2.2 2.7,-1.2 3.6,-1.5M295.2,195.5l0.1,-2.7 -0.5,-2.9 -0.1,-3M56.2,371.2l-1.9,-2.6 -1.7,-2.2 -2.4,-3.2 -1,-3 1.5,-2.5M318.4,163.3l1.5,-3.7 3.7,-1.4 1.5,-3.2 2.6,-2.2 -0,-3.9 -0.5,-3.4 1.3,-2.6M380.0,291.9l-0.1,4 -1.3,2.5 0.7,3.8 -0.4,3.4 1.6,2.6M166.2,518.3l-1.8,-3 -3.2,-1.3 -3.1,-1 -2.9,1.6 -1.6,2.6M221.6,243.5l2.8,-0.1 1.9,-1.7 2.2,-1.6 0.6,-3.5 2.5,-2.4 3.9,-0M335.1,460.7l-2.9,1.8 -2.1,3 0,2.9 0.5,3.8 1.8,2.1M104.0,480.2l-0.2,-3.9 -1.9,-1.9 -2.9,-1.3 -3.3,-2.3 -1.4,-3.4 -0.3,-3.5M346.0,153.7l2.8,0.7 3.5,-2 0.8,-3.3 -0.1,-2.8 -0.5,-3.8M261.7,539.5l-1.4,-2.4 0.4,-2.6 -1.2,-2.6 -1.3,-3 -1.1,-3.4 1.2,-2.9 -1.6,-3.4M47.6,397.2l-2.5,-1 -2.6,-2.3 -1.1,-3.4 1.1,-2.3M436.6,223.1l-1.9,-1.8 -3,-0.2 -2.6,1.7 -3.6,-1M372.5,134.3l-0.5,-2.5 -1.4,-3.6 0.5,-3.1 2,-3 2.3,-2.6M371.0,295.3l1.8,1.9 2,2.5 2.4,2.5 2.8,1.7 2.6,0.2M120.8,500.4l1.9,-3.5 3.1,-1 2.5,-2.1 3.6,0.6 3.4,1.7 3.1,1M354.4,139.4l2.4,-1.1 2.6,-0.8 3.6,-1.6M346.1,366.1l-0.5,2.5 -0.9,3.3 1.1,3.7 1.7,3.5 2.2,2.6 1.7,2.4 0.3,2.5M306.8,499.2l-1.4,2.7 -0.6,2.5 -3.4,1.8 -2.5,-0.2 -2.7,0.2 -3.5,-1.2M340.5,349.7l-0.1,3.8 1.3,2.5 2.9,2.6 1.8,2.8 0,3.4 -0.8,3.5 -1.2,3.4M29.2,422.5l2.3,-1.1 1.7,-2.8 0,-3.4 1.7,-2.8 2.1,-1.9 3.1,-2.1 2.2,-3.1M337.4,401.8l0.9,3.8 1.9,2.2 3.3,0.6 3.1,1.1M349.1,366.5l1.4,3.1 -0.9,3.8 -1,2.4 -2.4,1.3M242.7,540.6l-1.9,-1.6 -3.6,-0.7 -3,0.3 -2,-1.6 -3,-1.1 -2.8,0.4M416.8,141.2l2.7,2.9 3.6,1.3 2.8,-0.8 2.6,-1.7M85.8,434.7l-2.7,-0.3 -2.5,1 -3.3,0.6 -2.3,-1.1M392.1,278.8l2.9,1.4 3.3,-1.3 2.8,-1.2 3,-0.7M342.2,396.7l-1.7,2.8 -0.5,3.2 -2.6,1.9 -0.1,3 1.6,3 1.5,2.9M463.1,178.5l3,2 2.2,2.3 1.5,2.9 3.1,1.8 2.9,-0.4M312.9,498.6l-1.2,3.7 -1.9,3 -1.1,2.7 -1,2.4 -0.5,3.2 1,3M185.5,263.8l2.8,-1.7 0.9,-2.9 -1.5,-2.9 1.3,-3.5 0.3,-2.9M238.1,537.9l-1.4,3.3 -1.6,3.6 1.5,3.1M91.8,441.4l-2.4,-2.9 -0.6,-2.9 1.6,-2M230.8,533.7l-1.8,-2.7 -0.1,-3.2 -2.9,-2.6 -3.8,-0.4M323.8,480.0l-0.3,3.9 -1.9,2.9 -3.3,2 -0.8,3.4 -0.8,2.6M104.0,313.3l0.5,-3.9 -1.8,-2.8 -1.7,-2.2 -2.8,-2.4M387.3,135.9l-1.2,-3.2 0.7,-3.1 1.1,-3.7 -1.1,-3.5 -0.7,-3 -3,-2 -3.3,0.1M419.5,245.0l2.2,1.3 1.4,2.4 0.2,2.5 2.1,2.2M227.2,252.3l3.8,0.8 3.7,1.5 2.8,-0.1 3.3,1.8M442.3,144.8l0.8,2.4 1.6,3.6 2.6,1.8 2.9,-0.4M155.2,288.5l3.8,-0.7 2.9,-1.3 3.1,1.3 2,1.8M133.0,517.6l-2.9,1.9 -3.6,0.1 -3.6,-1.2 -1.8,-3.1M106.1,308.4l-2.3,-3.3 -1.5,-3.4 -1.2,-3.5 0.9,-3.1M378.7,297.6l-0.1,3.1 2.1,1.8 2.5,1.2 2.5,1 2.4,2M382.1,130.9l2.1,2.8 0.4,2.8 -1.4,3.7 0.7,2.8M68.6,463.2l-3.3,2 -2.5,0.3 -2.7,0 -3.6,-1.5 -3.5,-0.7 -2.6,-2.4 -2.7,-0.1M375.8,136.9l2.6,-2.6 1.5,-2.3 3.4,-0.5 3,0.4M116.3,465.3l2.5,-1.6 2.8,-2.8 1.1,-2.3 2.8,-0.9 2.7,1.2 1.8,1.9M41.6,417.1l2.4,-1.5 1,-2.6 0.8,-3.5 2.8,-1.8 3,0.8 2.2,1.3 2.3,0.9M53.4,369.8l3.3,0.4 2,-1.7 2.8,-1.2 1.4,-2.9 0.9,-3.9 -1.6,-2.3 -3.3,-0.7M100.8,467.7l1.9,-2.2 -0.4,-3.1 0.6,-2.9 0.9,-2.5 0.5,-3.7M262.2,229.2l1,3.8 0.2,3.8 -2.2,2.3" fill="none" stroke="#2a1818" stroke-opacity="0.29" stroke-width="2.4" stroke-linecap="round" stroke-linejoin="round"/>
<path d="M460.5,202.0l-2.5,0.7 -3.9,0.6 -2.1,1.6M240.4,238.7l0.8,-2.5 -1.3,-2.5 -0.5,-3.1M258.2,223.7l2.3,2.2 -0.1,2.6 -0.4,3.6 -2,2.3M175.0,268.6l3.1,-1.5 0.9,-2.7 0.4,-3.4M272.4,537.1l-2.9,-2.3 -1.2,-2.6 -1.3,-2.8 -2.4,-0.7M31.9,476.7l-0.8,-2.6 -1.8,-3.1 -3.3,-1.9M93.3,448.1l-1.5,-3.3 -2.5,-1 -0.8,-2.5 -0.4,-3.1 0.5,-3.4 1.1,-3.1M303.4,187.0l-1.7,-3.5 -2,-3.2 0,-2.9M368.7,314.1l-2.1,1.8 -3.3,1 -2.2,3.2M135.9,291.0l2.1,1.6 0.5,2.8 -1.3,2.3 -0.3,3.8 1.7,3.3 -0.4,3.7 -1.6,3.6M133.9,296.5l2.6,-0.5 3.4,1.6 2.2,2 2.8,0.8 2.7,0.5 2.9,0.3M395.2,281.9l0.4,2.6 -2.4,2.9 -0.2,3.9 -1.9,2.8 -3.1,1.8M43.3,456.7l-2.4,3 -2.6,0.4 -2.4,2.7 -0.8,2.9 -1.6,3.1M41.1,431.7l-1.6,-2.2 0.6,-3.5 0.1,-3.6 -0.5,-3 -2.1,-2 -2.8,-1.3M136.5,526.3l-1.3,-2.4 0.4,-3.1 2.6,-2.1 1,-3 -0.3,-2.9 1.1,-3.3M203.8,260.6l2.7,-2.5 -0.3,-3.3 2.2,-2 1.7,-3.3 0.1,-3.3 0.3,-2.5M156.9,526.5l-3.2,1.3 -1.2,2.6 -0.9,2.9 -1.1,3.4 -1.9,2.3 -1.2,2.2M150.9,527.7l-3.6,-1.7 -1,-2.9 -3.1,-2.4 -1.1,-2.2 -0.6,-3M100.0,315.6l-1.4,-2.7 0.9,-2.5 2.6,-1.1M104.7,482.3l0.1,-3.2 -0.7,-3.8 -2.1,-2.3M234.9,540.2l-0.6,-3.8 1.9,-2.2 -0.1,-2.6 -0.1,-3.6M111.4,301.6l3.2,2 2.8,1.2 2.1,1.5 3.2,-0.8M191.0,261.7l0.7,-3.2 1.5,-2.7 0.4,-4 1.2,-2.9 -1.5,-3.3 0.8,-3 -2,-3M453.1,174.7l3.4,-0.3 2.6,0.4 3,1.7 1.2,3.3 -1,3.3 -1.4,2.4M325.4,158.2l0.3,-3 -2,-3.4 0.1,-2.8 2.5,-2.8 3.1,-1.8 2,-2.3 2.3,-3M50.3,371.5l-1.8,-3.4 -3,-2.3 -3.2,-0.1 -2,-1.9 -3.1,-1.2M138.4,286.2l2.3,-2.3 1.8,-2.4 -0.1,-3.1M101.6,490.7l2.5,0.6 2.4,3.1 -0.4,2.6 1,2.5 3.6,1.3 2.1,2.7 0.2,3.5M367.5,144.4l-0.8,-2.4 -2.8,-2.4 0,-2.5 -0,-3.2 1.4,-2.4M288.7,519.3l-2.9,0.1 -3.1,1.8 -2.3,1.4 -2.5,0.7 -3.4,-0.7 -2.6,-2.4 -2.7,-1.4M118.8,454.2l1,-3 -0.8,-3.2 -3.2,-1.7M337.6,440.7l-2.3,-1.6 -3.1,-2.3 -1.7,-2.9 -0.8,-2.8M54.7,373.8l3.6,0.1 2.3,-1.6 2,-1.9 0.3,-3.4 -0.8,-3.6 -0.4,-3.9 -1.4,-2.6M216.5,246.9l1.6,-2.3 -0.8,-3.5 1.8,-3 1.1,-3.6M36.4,472.5l-2.9,-2.1 -2.6,-2.8 -0.6,-2.8 -2.6,-1.3M187.3,515.2l-3.2,0.6 -3.4,1.4 -3.9,0M280.8,534.7l-3.4,-0.3 -2.1,2.2 -2.5,2.2 -1.4,2.2M420.6,255.1l0.5,3 0.4,2.5 3.3,2.2 1.1,3 0.5,2.9M363.9,304.6l-2.4,-1.5 -2.7,0.7 -1.8,2 0.3,3.3 -1.7,2.7 -3.8,0.7 -1.9,2.8M243.5,232.6l0.5,-3 0.2,-3.7 2.7,-2.7M40.0,396.2l3,-1.2 1.8,-2.1 2.9,-2.4 3.6,0.1M315.8,164.7l2.8,-0.4 2.2,-2.8 1.7,-3.2 -1.2,-3.5M444.2,154.3l2.1,3.2 2.2,3.1 2.4,1.5M158.8,285.0l3.4,-1.9 2.5,0.8 2.8,0.2M105.5,468.8l-1.3,-3.5 -1,-3.9 -1.6,-2.6 -1.3,-2.7 -3.2,-1.6M267.9,550.3l-2,1.6 -0.5,3 1.1,2.4 -1.6,3.5 -2.4,1.2 -3.7,1M265.1,214.4l1.5,-2.5 3,-2 1.8,-2.6 2.3,-1.7 2.3,-2.4 1.8,-3.4M275.5,542.9l-0.9,2.6 -1.6,3.7 -0.8,3.8 1.4,3.6M319.2,485.9l1.6,3.3 2.3,1.2 1.3,2.9 2.9,1.1M64.5,393.9l-0.5,-2.6 -1.1,-3.1 -2.6,-1.7 -0.4,-2.6M47.0,442.6l2.2,-3.1 2.5,-2.6 2.5,-0.9 2.5,-1.7 0.6,-2.9 -1.3,-3.2M236.6,536.5l-1.6,-2.6 -2.7,-1.1 -3.6,1.1 -3,0.5M409.7,141.4l1.8,2.5 0.7,2.7 2.1,3.2M143.3,295.8l-0.4,-2.7 1.9,-2.3 1.9,-1.8 2.4,-2M138.8,525.8l-3.1,1.9 -1.5,2.4 -2.4,0.8M58.0,451.6l2.1,2.1 0.6,3 1.8,3.3 1.7,3 1.2,3.6M252.1,234.7l1.7,-2 2.7,-1.5 3.7,-0.2 2.4,-1.2 3,1M90.2,337.6l2.7,0.3 2.6,-0.4 2.7,0.2 3,1.3M291.3,531.7l-2.1,2.1 -1.4,2.4 0.8,2.8 2.6,2.5M325.4,476.9l-1,2.5 -3.1,2.3 -3,-0.7 -2.4,1.5M209.6,258.9l3,-1.2 2,-3.1 1.5,-3.6 1.4,-2.2 0.8,-2.7 2.8,-1.8 0.5,-2.7M128.6,518.0l-3,0.1 -2.8,0.2 -3.4,1.8 -3.2,1.1 -2.7,-0.2M190.3,527.9l-2.4,-2.5 -2.9,-1.6 -2.4,-0.9 -3,-0.2 -1.9,-2.6M290.2,203.7l1.3,-3.7 0.2,-3.9 0.6,-2.5 -1.3,-3.2 1.5,-2.6 2.7,-1.7 2.5,0.2M123.3,475.9l-1.2,-3.1 -2,-2 -1.6,-2.1 -0.5,-4 -2.3,-2.5M218.0,540.2l-0.5,-3 -1.8,-2.4 0.3,-3.1 1.3,-3.5 -1.1,-2.3 -0.3,-2.8M305.2,505.2l-2.8,-1.1 -1.3,-2.3 -1.3,-2.4M339.1,147.5l2.9,-0.8 1.5,-2.8 0.2,-3 -0.2,-4 1,-2.7M48.0,470.6l-2.7,1.5 -3.1,-0.5 -3.5,0.1M423.2,254.0l-1.1,2.3 -0.1,3.3 1.1,3.2M416.4,134.8l3.5,1.5 3.1,-0.5 3.2,1.3 2.5,0.4 3.1,0.1 2.6,1.3 3.4,0.9M265.2,214.5l2.4,0.6 2.9,2.2 2.9,0.1 3.2,1.5 1.9,2.8 3.4,1.3 2.4,2.2M237.1,244.7l3.8,-0 2.9,1.1 3.7,0.9 1.5,2.3 2.9,1.2 2.5,2.8M456.0,207.3l-0.3,3.6 0.1,3.6 1.7,2.1 2,1.6 3.4,-0.5M236.2,546.9l-3.5,0.6 -3,-0.7 -2.2,-1.4 -3.3,1.2 -2.9,-0.8M250.2,551.0l-1.2,-2.4 -0.2,-3 -2.5,-3 -1.4,-3.4 -3.2,-1.9M33.5,479.5l-2.1,-1.4 -2.1,-1.4 -3.6,0.4 -3.3,0.8 -2.9,1 -2,2.3M270.6,548.6l1.3,3.6 1.6,2.9 2.3,1.6 2.1,2.2 0.1,3.1M63.7,464.5l-3.5,1 -3.4,-0.6 -3.2,1.7M445.1,229.5l-0.3,3.6 1.5,2.6 2.8,0.7M105.7,467.0l-0.1,-3.9 -1.7,-2.5 -1.7,-2.1 -2.7,-1.3 -3.9,-1M258.1,233.2l3.3,0.9 2.1,2.1 3.6,0.6 3.4,0.3 3.3,1.4 3,0 2.4,2.3M46.0,432.8l-1.3,-2.8 0.3,-2.7 -0.8,-3.3 1.9,-2.9 3,-2.1 2.7,-2.8 2.8,-1.1M440.7,157.7l2.4,1.3 1.5,2.5 2.7,2.9M350.5,346.7l3.2,1.7 3.7,-1.1 1.5,-3.4 2.9,-2.1 2.8,-0.4 3.6,1.2M316.0,492.4l-0.1,3.9 1.5,2.5 -0.2,3.3 -1.8,3.1 0.3,3.8M153.4,523.9l-2.7,0.7 -3.8,-0.1 -2.2,-2.8M72.0,460.4l-1.5,3.6 -2,1.6 -2.9,1.9 -1.9,1.7M138.6,296.3l-1.5,-3.4 -2.8,-1.7 -3.7,0.7M222.9,245.5l-0.3,-3.4 2.6,-2.6 -0.3,-2.6 -2.6,-2.4 -1.9,-2.7M103.0,322.6l3.5,0.7 2.9,2.7 0.8,3.4 3,1.7M73.2,458.6l-2.7,2.3 -1.3,2.6 -0.5,3 1.7,2.7 -1,3.3M117.7,490.4l2.2,-1.9 1.6,-1.9 0.8,-3.8 2.5,-1.6 3.6,-0.5M182.3,519.6l-2.8,-0.6 -2.9,2 -1.2,2.7 -3.2,1.1 -3.5,0.5 -3.5,-0.1M215.7,257.2l2.1,-1.8 0.5,-3.2 3,-1.8M34.3,484.8l-2.3,1.6 -0.5,2.5 -1.9,1.9M118.1,490.5l-2.1,-1.4 -3,0.4 -2.8,1 -2.9,1.3 -1.5,2.9 -1.4,2.8M346.9,384.0l2.7,0.6 3.1,-0.7 2.4,-1.9 0.2,-3.2 0.2,-2.9 1.1,-3.8M44.7,412.2l2.2,-1.9 2.5,-2.2 2.5,-1.1M37.8,472.5l1.4,-2.4 2.6,-1.2 2.8,1.4 4,-0.2M311.9,172.8l0.8,-2.8 1.2,-2.6 -0.8,-3.5 2.1,-2.9 -0.3,-3.1 1.8,-3.5M187.9,529.0l-2.8,1.1 -3.9,-0.3 -2.3,-2.3M97.2,453.7l-2.4,-2 -3.6,-0.1 -3.5,0.8 -3,1.3M270.0,211.8l-1.5,-2.9 0.7,-3.3 1.5,-2.9 1.1,-2.8 1.4,-2.7M45.0,472.0l-1.3,3.1 1.1,3.3 2.1,2M338.5,440.9l1.2,2.6 2.5,2.3 1.6,3.1 -0.7,2.7M113.0,313.9l-1.5,-3.3 0.7,-3.6 3.1,-2M396.3,274.4l-0.3,2.9 0.6,2.8 2.4,2.4 2.4,0.8 3.7,0 3.5,1.5 2.4,2.1M101.1,471.0l-2.5,-0.8 -2,-2.6 -2.7,-2.6 -0,-3.2 1.2,-3 2.8,-2.3M271.5,551.2l-1.6,3.4 -3.2,1.1 -1.5,3.2 1.3,3.2 -0.9,3.4M201.6,256.8l1.4,-2.4 2.7,-1.6 1.7,-2.1 1,-3.8 -1.2,-2.6 0,-3.9M33.2,462.7l-3,-2.4 -0.3,-3 1.9,-3.2 0.4,-3 -0.4,-3M443.1,159.5l3.6,0.7 3.7,1.1 2.2,2.6 3.9,0.3 2.3,-1.4 2.1,-2.5M409.9,259.8l-1.2,3.3 1.6,3.5 2.6,1.5 1.9,3.2 -1,3.7 -1.4,3.6 -2.9,2.4M282.6,524.3l-3.1,-0.7 -2.1,-2.7 -2.9,-1.1M52.4,417.8l1.2,-2.4 2.4,-2.9 1.8,-2.8 0.4,-2.9M386.8,131.0l1,2.5 1.5,3 3.1,2.2 2.9,1.4 2.2,1.1 1.7,3.4 -0.8,3.3M70.0,357.5l2.3,1.5 1,2.3 1.4,3.3M95.1,324.9l1.4,-2.9 -1.4,-3.2 0.9,-2.6 3.1,-2 3.3,-1.1M331.1,451.9l2.6,2.8 3.2,-0.2 2.1,-2.7 2.6,-1.9 0.8,-2.5 2.4,-2.2M179.6,526.4l-1,-2.8 -0.7,-3.3 2.2,-3.1 3.2,-0.3 2.3,1.3M338.4,401.9l2.5,1.8 0.8,3.8 -2,2.4 -2.7,2.5 -3.1,0.9M112.0,513.6l0.2,-2.9 0.3,-3.1 -1.9,-1.9 -0.9,-3.7 -2.3,-2.5 -0.3,-2.6M89.6,350.7l0,-3.1 -1.4,-2.3 -2,-2.6M321.9,495.2l-0.4,3 1.7,2.5 3.9,1.1 2.8,0.8 3.3,-0.1 3,-2.2 1.9,-2.5M84.5,325.2l-3,-1.2 -2.9,-2.3 -2.6,-0.5 -2.6,0.4 -2.5,2.3 -2.6,1.2 -2.4,-1.1M458.4,187.3l3.5,0.6 2.7,0.6 3.7,1.4 1.4,2.5 2.2,1.5 2.7,2.4M395.0,129.4l2.5,0.7 2.7,-0.1 3,0.7 3.3,-0.4M173.4,278.6l1.9,2.1 3.7,1.3 2.8,-0.2M328.6,466.5l-1.3,3 -2,1.9 -2.1,2.2M352.3,349.7l-1.8,3.5 -1.3,3.4 0.2,3 2.8,2M433.1,245.6l-2.3,-3 -3.1,-2 -3.1,-0.9 -2.8,-2.3 -2.6,-0.3 -3.5,1.6 -0.9,2.6M106.7,473.9l-2.7,-1.5 -2.3,-1.8 -3,0.6 -2.3,1.1 -2.9,2.1M362.0,317.9l-0.3,4 1.6,2.8 1.5,2.7 -0.4,2.7 -2.2,2.1M450.2,204.5l2.7,2.7 2.4,0.7 1.1,2.6 1,2.8 2,2 1,2.5M351.6,347.0l-0.6,2.9 1.8,2.4 2.6,0.4 2.5,1 2.8,-0.7M106.7,488.1l-3.6,-1.5 -2.3,-1.8 -2.6,-2.8 -2.8,-1.1 -2.8,0.8 -3.7,0.6 -3.4,1.6M97.9,439.2l-2.6,-0.6 -2.5,-1.9 -2,-1.5 -3,-0.5M106.7,495.9l1.2,-2.9 2.2,-3 3.1,-1.7 3.1,-1.1 2.8,0.3 3,2.5M356.9,138.1l3.7,-1.4 2.6,-0.9 3.8,-0 2.5,-0.3 2.7,-1.8 1.1,-2.5 3.1,-2.2M43.9,391.8l-0.1,-3.7 -0.6,-3.2 1.3,-3.5M267.6,217.6l-0.8,-3.4 1,-3.1 1.3,-2.3 0.5,-3.9M237.1,233.8l3.4,1.7 2,2.1 1.5,2.1 2,2.2 2,2.8 1.5,2.2 1.7,2.5M72.3,457.8l-3.3,0.7 -2.2,3.1 -0,2.8 -0.7,2.8M317.5,171.0l-0.7,-3.4 -0.4,-3.1 2.1,-3.3M333.7,452.7l-1.8,3.1 -0.2,3.7 1,3.7 1.7,2.3 1.8,1.8 2.5,1.8 3.7,-0.9M226.9,240.4l3.6,-1.6 3.3,0.7 2.4,0.9 2.9,0.4 2.4,0.9 2.8,1.2M236.0,243.1l3.4,-0.2 2.5,-2.3 4,-0.3 2.3,1 1.7,3.1 3.1,2.4M253.4,544.9l-2.2,3.1 0.5,2.9 -0.2,2.7 -1.7,3.2 -2.3,1.6 -2.7,-0.3M394.9,132.7l3.6,0.8 2.4,1.1 2.1,3.1 3.1,0.8 2.2,3.3 3,1 2.3,3.2M328.1,162.1l0.7,-3.5 1.3,-2.3 3,-2 1.7,-2.1M54.5,392.1l1.7,-2.1 1.5,-3.5 -0.5,-2.5 0.7,-2.6 1.4,-2.2 0.3,-3.5 2.2,-2.2M385.4,137.6l4,0.3 3,0.2 3.1,2.3 2.4,1.2 2.8,2.3 0.4,3.4 1.5,2.9M228.4,538.9l-3,-0.7 -2.8,0.5 -3.1,-1.2 -3.4,-0.6M129.1,296.2l2.8,0.1 2.8,1.1 2.1,2.2 1,3.2 -1.1,3.9M115.6,471.6l0.3,-3.3 0.1,-3 -2.3,-3.1 -1.1,-2.4 1.3,-3.7 -1.7,-3.1 -2.8,-1.8M439.1,230.9l-2.8,0.6 -3.2,0.5 -1.6,2.5 0.5,3M452.9,217.6l-0.6,2.9 -1.6,2.7 -2.2,1.4 -3,-0.6 -2.3,-2.2 -0.8,-2.9 -0.5,-2.5M358.6,318.6l-1.8,2.9 -3.5,1.4 -2.3,1.4M33.8,481.6l-1.8,2 -0.6,3.6 -2,2.4 -1.5,3.4 -2.6,2.6 -4,0.1M121.1,520.2l-1.6,-3.5 1.3,-3.2 -1.2,-3.2 -1.4,-2.5 1,-3.5 -1.2,-2.6 -2.1,-2.6M225.2,249.3l3.9,-0.2 2.2,2.1 1.5,2.2 2.4,2.5 1.5,2.6 2.6,0.5 2.6,0.9M166.0,514.9l-2.3,-1.1 -3.2,-2.1 -3.3,0.6M173.0,524.6l-1.7,-2.5 -3.2,-2.1 -1.4,-2.6 -2.6,-1 -0.9,-2.4 0.6,-3.2 0.9,-3.2M137.7,509.7l-0.6,-3.6 -2.3,-2.3 -0.2,-3.7 -0.8,-3.1 -2.4,-3.1 -0.5,-3.5M451.1,209.0l-3,1.5 -0.7,3.1 -2.2,2.2 -2,1.5 -3.1,2.4 -2,1.7M53.6,466.1l0.2,3.4 -0.4,3 -1,3.7 -0.2,3.6 -3,2.5M243.8,233.1l3,0.5 2.5,0.5 3.4,1 2.3,1.3 2.8,2.1 3.1,1.4 1.5,3.4M27.4,435.8l-2.2,-2.1 -3.2,0.4 -2.8,1.9M74.4,446.0l-1.7,2.2 0.2,3.4 0.5,3.9 2.7,2.4 1.5,2.6 3.2,1.2M344.4,373.7l-3,1.2 -2.7,-1.1 -3.2,1.2 -2.6,-1 -3.3,-0.5 -2.2,-1.8 -3.1,-2.2M80.9,352.5l1.9,-2.2 3,-2.3 0.8,-3.6M99.4,336.1l3,2.4 0.5,3.6 -0.6,2.7 2.2,3 1,3.3M461.0,203.9l-3.8,-1.2 -2.5,-1.2 -3,-1.6 -1.9,-1.7 -2.8,-0.4 -3.6,1.7M100.9,309.4l2.5,-2.8 0.6,-2.9 -1.8,-2.1 0.5,-2.8M400.8,132.3l2.5,-1.1 2.7,-1.1 3.4,-0.8 2.7,0.1 3.4,-0M104.8,317.8l3.5,0.9 3.3,-0.9 2.6,-1M344.1,368.5l0.9,2.4 -0.9,3 -3,1.3M334.7,453.0l1,2.5 1.5,2.2 0.3,2.9M110.3,451.6l1.6,-2.1 1.7,-2.3 -0.5,-3.8M419.1,134.4l2.2,2.8 3,1.2 2.4,1.5M307.1,516.0l1.1,3.1 2.1,2.6 0.4,3.2 -0.4,2.9M34.1,462.0l-2.9,-2.7 -2.9,-2 -3.3,-0.1M234.1,537.1l-3,-2.3 -1.1,-3.5 -1.9,-1.8 -2.9,-1.6 -1.8,-2.8M343.0,358.0l-0.3,3.1 -2.2,2.4 -2.6,1.8 -3.1,2.4M45.0,479.1l-3.3,-0.4 -3.2,2 -2.9,1.9 -1.8,2.2 -2.3,2 -3.4,2M188.7,522.6l-3.1,0.5 -3.5,-0.2 -2.6,0.2M337.7,375.8l3.7,-0.1 2.4,1.8 3,1.3M344.5,388.8l-1.6,3.5 -2.5,1.2 -3.7,0.2 -3.8,0.2 -2.4,1.8 -2.9,2 -2.3,1.9M401.8,272.2l-0.7,3.1 -2.7,2.4 -2.8,0.6 -3.2,1.8 -1.8,2.1 -2.6,0.3M212.2,536.3l-1.9,2.1 -2.4,1.7 -3.3,0.5M255.6,546.0l-3.2,0.7 -3.6,0.4 -2,-2 -0.1,-3.5 -0.2,-2.7M186.2,524.9l-3.3,0.5 -1.5,2.5 -2,1.5 -3.3,0M74.1,437.5l-0.4,3.2 1.4,3.5 0.6,3.5 -0.2,2.6 -2.5,2.7 -2.4,2.3M150.6,529.2l0.8,-3.2 2.4,-2.6 0.2,-2.8 -0.8,-3 -0.9,-2.8 2.1,-2.9M340.6,349.7l-3.1,0.5 -2.7,1.4 -1.7,2.4 -3.4,1.9" fill="none" stroke="#2a1818" stroke-opacity="0.29" stroke-width="3.0" stroke-linecap="round" stroke-linejoin="round"/>
<path d="M293.5,526.1l-3.2,0.5 -2.5,-0.4 -3.1,-1.8M299.6,193.7l-2.5,-1.6 -3.3,0.3 -2.9,-0.4 -3.2,1.9 -3.4,-0.9 -2.5,-2 -0.8,-3.9M72.7,449.7l-1.7,2.6 0,4 0.3,2.7M347.7,371.4l-1,3.8 -3.5,1.7 -2.2,1.8 -1.1,2.5 0.5,3.4M361.1,141.4l3.1,-0.5 2.6,-2.9 1.4,-2.8 2.3,-3.2 1.8,-3.4M269.6,211.2l3.4,-0.5 2.5,0.9 3.3,-1 1.5,-2.1 2.6,-2 2.8,-2.4M180.9,267.5l0.2,-3.3 1.9,-3.4 1.3,-3.1M372.6,144.2l1.5,-3.2 -0.2,-3.5 2.4,-2.1 1.9,-2.3 -0.1,-3.1 -1,-3M428.2,137.5l2.4,-3 2,-1.6 3.7,-1.2 2.5,1.5 3.9,-0.2 3.2,0.7 3,-1M319.3,164.5l-2.2,-1.2 -3.5,-1.9 -2.5,-1.4 -3.2,-1.4 -2.7,-2.3M297.2,197.5l3.5,0.5 3.1,0.6 2.8,1.6M112.3,504.1l-1.6,-3.2 -2.9,-2.1 -3.2,-1.9 -3.8,0.8 -2.1,1.4M241.3,549.6l-3.5,0.7 -2.7,0 -3.2,0.1 -1.8,-2 -3.1,-1M267.3,226.4l2.2,-1.4 2.7,-2.7 0.1,-3.9 1.8,-3.3 0.2,-2.6M449.5,223.9l-1.4,2.4 1.3,3.6 1.9,3.1 2.5,1.4 1.9,2.6M152.7,283.5l2.2,-1.3 0.9,-3.8 -0.6,-3.5 1.5,-2.6 0.4,-3.9 1,-2.8M178.3,514.1l-3.3,-1.1 -1,-2.3 -2.6,-2 -0.4,-3.9 -0.8,-2.7 -1.4,-3 0.9,-2.6M313.6,166.5l3.5,-1.3 2.7,-0.2 2.5,1.5 2.4,1.9M45.1,468.9l0.1,-4 -0,-3.9 1.9,-2M422.9,256.9l-2.6,2.8 -0.5,3.7 1.7,2.8 0.9,2.9 -1.2,3.1M180.4,514.9l-3,0.9 -2.8,-0.7 -1.4,-3.1 -2.3,-2.8 -2,-1.9 -0.9,-2.5 0.6,-2.8M300.6,180.9l2.5,-0.8 2,-2.8 0.8,-3.7 2.2,-1.2M335.5,435.3l-2.4,1.3 -2,2.2 0.3,3.8 -1.5,3.3 1.6,3.3 0.1,3.2M224.9,541.1l-1.1,-2.3 -2.4,-2.7 -1.4,-3.5 -0,-2.9 0.3,-3.1M268.2,551.5l-2.7,-0.1 -2.5,-0.7 -2.2,1.2M347.6,379.0l-1.2,2.8 0.1,3 -1.7,1.9 -3.6,1.4M334.7,415.8l-2,1.5 -2.2,1.5 -2.1,1.6M43.6,426.1l-0.5,-2.9 -1,-3.2 -3.1,-2.5M210.5,526.4l1,-3.4 1.7,-2.7 0.7,-3.3 -1.5,-2.8 -0,-3.5 0.6,-2.8 0.3,-3.2M31.5,466.8l2.7,-1.3 1,-3.6 2.2,-1.4 1.4,-2.5M57.0,458.0l-3.3,1.7 -1.5,3.2 -3.3,1.8 -3.1,2.5 -3.4,0.7 -3,-0.9 -2,-2.1M344.6,402.7l1.5,2.2 2.9,1 2,2.5 1.8,2.7 -0.6,3.5 0.8,2.6M21.6,461.8l3.1,-1 2.5,-2.1 2.7,-2.9 2.4,-1.3 2.5,-2.4 -0.1,-2.6M391.4,278.1l0.8,2.8 2.5,1.2 1.3,3.1 0.5,3.7 -2,2.7 -2.6,2.4 -3.1,1.2M132.4,293.6l3,-1 1.8,-2.9 0,-2.7 -1.8,-1.7M212.9,519.5l0.7,-2.6 -1.9,-3 -3.2,-1.8 -2.5,0.2M140.4,527.7l0.3,3 -0.8,2.6 -2.7,1.8 -0.5,3 -1,3 -1.5,2.2 -2.8,1.3M313.2,180.0l3.6,-0.6 3,-0.1 2.6,-3 3.4,-1.6 2.4,-2.4 3.7,0.3M307.9,190.4l2.1,-1.7 4,0.2 3.3,-2.2M75.8,369.2l0.8,-3.7 -2.1,-3 -0.8,-3.4 1.5,-2 0,-3.7 2.5,-2.4 1.5,-3.1M429.0,141.2l2.9,-0.7 2.7,0.8 2.9,-1.3 2.5,-1.1 3.2,-1.4M144.1,297.3l-0.5,-2.9 -0.3,-4 -3.1,-2.3 -1.4,-2.5M433.3,232.4l-2,2.9 0.2,2.8 -0.4,2.9 -1.8,1.9M35.4,450.1l0.6,-2.9 -0.2,-3 -0.1,-3.4 0.6,-2.4 2.5,-3.1 1.4,-2.6M462.1,175.6l1.7,3.3 2.9,2.8 1.6,2.3 3.1,2.5 0.8,3.8 2.5,1.4 1.1,2.8M178.1,516.5l-0.3,-3.3 1.3,-2.5 2.9,-1.1 1.3,-3.1 -1.1,-3.2 -0.2,-3.6M265.7,553.8l-3,2.5 -2.4,2.5 -0.8,2.5 -3.3,1.7 -2.6,2.9 -2.9,0.7M430.3,148.2l3.3,-1.6 1.8,-2.5 0.5,-3.1 1.2,-3.1 -0,-3.2 -1.9,-3.3M274.0,216.8l1.4,-2.7 0.1,-3.4 -1.8,-3.4 -3,-1.2 -2.6,-1.4 -1.7,-2.5M319.5,164.7l1.8,1.8 1.4,2.9 -1.4,2.7 -2.5,1 -2.1,2M125.1,505.8l-2.9,1.1 -2.8,-0.2 -2.8,-1.7M246.9,550.3l-1.4,-3 1.2,-3.3 1.8,-3.5 -0.8,-3.5 0.2,-3.9 2.3,-2.5 3.5,-1.8M76.9,335.8l0.9,-2.6 -1,-2.3 1.7,-3.2 -1,-3.5 1.8,-2.7 -0.4,-3.3 -0.7,-2.7M344.0,411.3l0.3,2.7 1.6,2.2 1.1,2.9 -1.8,3.3 -1.2,2.6 -0.6,2.4 -1.6,3.5M370.9,310.0l-3.8,0.6 -1.5,2 -2.7,0.3 -3,-0.8 -3,2.1 -3.2,1 -3.1,1.1M339.9,354.9l-3.6,-1.7 -2.9,-2.2 -3.5,0.4 -2.9,-0.1M374.4,303.9l-1.9,2.4 -2.5,0.5 -2.5,2.4 -1.7,2M389.6,288.2l-1.2,3 0.8,2.5 -1,2.4 -2.8,0.8 -2,2.9 -1.1,2.9 -3,2.1M191.8,517.8l-2.4,2.2 -1.8,2.7 -2.8,1.2 -2.3,1.9 -2.2,1.2M56.0,383.6l3.6,-0.2 2.3,1.4 2.7,-0.9M100.3,483.7l2,-2.9 2.6,-0.8 2.9,1.8 3.4,0.2 2.6,1.9 3.4,-0.7M100.3,496.7l-3.1,1.2 -2.2,2.9 -0.8,3.3 -2.4,3.1M118.2,460.2l-0.3,-2.9 -2.2,-1.5 -0.3,-2.5 1.6,-2.2M459.6,194.3l-3.7,-0.9 -2.8,-2.6 -1.5,-2.5 -2.1,-3.4 -0.7,-3.5 2.3,-2.9M261.9,228.7l3.3,-0.4 3.1,0.6 2.8,1.6M118.7,307.3l3.3,0.1 3.7,-0.8 3.6,1.2 2.6,0.2 1.7,2.3 1.3,3.5 3.4,1.6M238.8,236.3l3.4,-0.8 2.4,-1.7 2,-1.8 3.2,-1.6 1.5,-2.9 -1,-2.5 -1.4,-3.2M438.7,233.7l-1.2,3.8 -2,2.3 -2.5,1.6 -0.9,3.5 0,3.3 -0,3.9 -1.2,2.3M307.8,488.5l-2.2,2.3 -3.2,0.3 -3.2,0.4 -3.2,-1.6 -1.9,-2.5 -3.5,-0.3M454.9,208.9l0.3,2.6 -1.1,2.4 1,3.5M344.4,345.1l1.2,2.3 0.5,3.1 0,4 -2,3.2 0.2,3M435.8,150.7l2.7,2 3.4,2 3.4,1.7 3,-1.1M154.1,518.4l-3,2.3 -1.1,3.5 -2.9,1.2 -0.9,2.9 -1.6,2.4M170.8,527.9l-1.9,2.9 0.4,3.8 2.7,2.7 -0.4,3.9M203.5,260.2l2.2,-3.2 0.1,-2.9 -0.9,-3.2 0.4,-2.8 0.4,-3.6 2.1,-3.2M232.7,249.4l-1.1,-3.1 -1.7,-2.3 -1.3,-2.2 -3.3,-2.2 -3.2,-0.7 -1.8,-3.4M342.4,147.3l3.7,-0.1 3.2,-0.2 3.5,1.6M343.7,149.6l2,-3.3 2.5,-0.8 3.1,-0.1 3.6,0.7 3,-0.2 2.1,1.9M75.0,344.1l2.7,-2.9 1.2,-2.7 3.3,-1.7 3.6,-1.1 2.6,1.7 3.6,-1.2 1.5,-2.5M209.6,536.4l-2.9,-0.6 -3.5,0.5 -3.8,-0.8 -1.9,-1.8 -1.7,-2.8 -0.5,-2.5M257.9,223.3l3.3,-1.4 2.6,0.2 2.6,-0.7 3.2,2.1 3.4,-0.3 2.6,0.2 3.6,-0.5M98.0,320.8l-2,-2.7 -1.8,-1.8 0,-3.5 0,-3.9 -0.9,-3.8 -2,-3.1 -1.4,-2.2M342.2,411.1l-2.9,1.6 -3.7,0.8 -2,2.3 0.2,3.1M120.2,303.4l0.8,-3.3 -0.7,-3.7 1.3,-3.5 -1,-3.4 0.6,-3.2 3,-2.4M460.9,183.2l0.5,3.5 2.9,2.3 2.4,0.9M134.4,513.5l-1.9,-2.5 -1.3,-3.6 -2.8,-1.2 -3.1,-1.6 -3.5,-0.1 -3.1,-0.5 -2,-3.2M175.3,524.4l-2.5,1.7 -3,-0.2 -2.4,-2.1 -3,-0 -3.7,1.3 -3.2,-1.9M121.0,297.5l-0.1,-3.8 2.3,-2.3 3,-2.3M40.1,388.0l2.6,0.1 3.4,0.6 2.5,2.1 1.7,3.1 1,3 -0,3.4 1.3,2.4M75.1,443.8l0.2,3 2,1.8 2.2,1.7 3.5,-0.6 3.2,-2.2M178.4,513.1l-0.5,3.6 -2.7,2.4 -1.8,2 -3.4,0.2M208.4,256.8l0.8,-3.6 -2,-3 -1.6,-2.4 -2,-2.8M460.7,177.4l3.1,1.7 3.6,-1.4 2.2,-2.4M151.5,281.0l3.1,-1.9 2,-3.2 -0.2,-3.7M205.4,263.6l0.4,-3.3 2.6,-2.7 2.8,-1.6 0.9,-2.7M331.1,451.9l-2,1.9 -0.2,3.9 -0.4,2.7 -1.4,2.5 -0.1,3.1 -0.3,3.5 2.3,2.8M419.2,248.0l-3.4,0 -3.1,-2.2 -2,-2 -3.3,0.3M362.2,326.1l-2.2,2.9 0.7,3.8 -0.4,3.2M67.1,358.2l2.4,-1.8 0.4,-2.7 2.9,-2.6 -0.1,-3M59.5,382.5l1.7,-2.9 1.3,-3.4 0.7,-2.5 1.2,-3.6 2.2,-2 1.2,-3.4 2.1,-1.8M330.5,165.6l3,0.5 1.6,2.3 3.3,0.3M372.3,296.2l-3.7,1.2 -2.6,1 -2.7,0.6 -1.8,1.8 -3.6,1.7 -2.5,1.8 -2.2,2M32.3,472.3l-2.5,-0.5 -2.5,-2 -2.7,-2.4 -2,-3.3 -0.9,-2.6 -0.1,-3.6 -2.9,-2.1M422.3,243.8l-2.8,0.3 -2.5,-1.2 -3,-1.8 -2.7,-0.4 -2.5,-3 -1.7,-3.3 -1.6,-2.4M35.1,418.0l1.9,-2.6 0.9,-2.9 1.8,-3.2 0.3,-3.1 -0.4,-3M317.4,166.6l3.8,-0.9 3.9,0.5 2.2,2.1M210.0,528.0l-2.7,-1.7 -3,-2.7 -3.8,-0.4 -3.6,1.7 -2,2.9 -1.8,1.8M385.0,276.6l0.6,3.7 -1.1,2.7 -2.1,3.2M407.5,141.3l2.8,-2.9 -0.1,-3 0.8,-3.9 -0.9,-3 -1.1,-2.8 -2.8,-1.2 -2.5,-2M349.6,349.0l-3,2.5 -1.2,3.8 -1.6,2.2 -0.1,2.8 1.1,3.4M363.3,307.2l-1.5,3.7 -2,2.9 0.1,3.6M46.0,378.3l2.2,-1.5 2.5,-1.8 2.1,-2.9 0.5,-3.5 2.2,-2.3M451.5,152.6l3.5,0.8 2.6,0.7 2.7,1.7 1.7,2 0,2.5 1.5,2.8 2.2,1.3M451.4,157.4l3.1,-0.4 3.1,0.6 2.3,-1.1 3.8,-1.3 2.4,1M192.3,529.1l-2.5,2 -0.3,3.4 -2,1.8 -0.1,3.2 -0.8,2.4 1,3.8M462.7,186.0l-1.1,3.1 -1.3,2.5 -0.3,3.2 -0.3,3.1M295.6,536.4l-2.6,2.4 -3.2,0.8 -3,2.5M264.7,213.8l1.9,-3 2,-2.1 0.9,-3.7 2.3,-1.6M160.6,517.6l-3.3,-0 -3.3,-1.4 -2.8,0.9 -2.2,1.7 -3.6,-0.7M34.7,470.6l-3.3,-1.6 -3.1,-0.6 -1.9,-3.2 -0.6,-2.6 -0.2,-2.5M95.5,335.7l-1.4,-3.5 -0.8,-2.4 1.1,-2.9M234.3,240.6l3.2,0.4 2.7,-2.4 3.7,-1 2.4,-1.5 2.5,-2.6 2.7,-1.6M349.0,329.9l-2.1,1.8 -2.9,0.7 -2.8,-0.6M148.7,517.3l-3.4,0.8 -1.4,2.8 -0.6,3.4 0.4,2.6 -0.5,2.9 -1.9,2.3M179.4,528.8l-2.9,0 -3.5,-1.8 -2.2,-2.6M340.9,413.8l2.4,2.2 2.2,1.5 0.5,3 2.1,2.5 1,2.9 1,3.2 -1,3.2M346.1,337.2l1.8,2.9 2.5,2.3 2.7,0.5 3.6,-0.9 1.5,-2 -0.3,-3.4M254.3,228.0l2.1,-2.3 2.9,-0.4 2.8,2.5 -0.1,3.9 1.4,3.5M404.1,270.8l-3.2,1.4 -2.7,1.9 -2.4,1.5 -3.8,-0.9 -3,-2.7 -2.9,-2.3 -3.5,-0.7M324.1,488.1l-2.3,2.3 -1.5,3 -3.8,0.8 -2.3,2.3 -0.6,2.6M56.4,461.3l-0.6,2.6 0.3,3.5 -2.3,2.7 -3.2,2.1 -3.2,0.3 -3.6,0.5 -2.4,1.2M33.0,417.3l-0.8,-3.3 -0.1,-2.6 -1.2,-2.7 0.6,-3 2.9,-2.3 2.9,-1.3M309.5,517.6l-3.2,-0.6 -1.9,-1.9 -0.2,-2.7 -1.6,-3.5 -3.6,-1.3 -3.8,0.3 -2.5,2M33.1,461.4l-3,-0.2 -3.2,-1.3 -1.8,-2.8 -2.4,-1.6M258.0,223.5l2.4,-2.6 3.1,-1.1 2.7,0.1 2.9,-0.5 3.1,-1.9 1.4,-2.7 0.4,-3.7M346.0,366.1l3.9,0.9 2.9,-0.8 3.1,-1.3M70.6,360.6l-0.6,-2.9 -2.9,-2.2 -1.6,-3.6M347.1,394.4l-1.7,3.6 -0.1,3.2 2,3 -0.9,3.8 -1.7,2.1M222.1,255.8l3.5,-0.8 3.4,0.1 3.2,0.1M318.3,474.1l-1.1,3.7 0,3.6 -0.9,2.8M417.9,256.0l-3.2,0.8 -3,2.3 -2.9,-0.4 -3,-2 -2.2,-1.9M359.6,137.6l2.5,-2 0.5,-3.8 0.5,-3M320.7,170.6l2.4,-3.1 0.6,-2.5 -1.6,-3.6 -1.7,-2M335.8,457.1l1.5,2.6 2.1,1.7 2.1,1.4 0.9,3.1M124.4,513.5l-3.6,0.7 -3.3,0.5 -2.9,-1.9 -2.1,-2.6 -2.4,-2.8M181.5,269.0l3.2,-0.8 2.7,-1.5 2.5,-1.8M39.5,444.6l-2.3,-2.2 -3,-2.1 -0.9,-3 1.4,-2.5 3.2,-0.7M356.8,150.8l1.6,2.6 0.6,3.1 0.3,2.8 2,2.3M336.6,154.4l3.2,-1.9 2.5,-3.1 2.9,-1.3 3.6,0.4 3.5,0.7M238.0,533.6l-2.6,0.5 -3.2,2 -2.6,0.6M309.6,187.4l2.8,-0.9 1.6,-2.2 1.2,-2.5 0.7,-3.2 1,-2.9 2,-1.7 2.1,-3.3M57.5,392.0l3.2,-0.9 2.7,-0.2 3.6,-1.4 0.8,-2.5 -1,-3.8 -1.5,-3.6 -1.9,-1.8M113.5,491.1l-0,-3.9 -0.3,-3.5 -2.4,-1.8 -1.3,-2.3 -2,-1.6M313.8,483.5l-3.5,1.4 -3.2,0.2 -3.7,-0.3M460.4,198.9l-0.2,3.3 -2.4,3 -2.4,2.3M344.7,371.2l3.6,1.6 3.4,0.4 2.5,0.3M40.2,401.8l1.1,-2.3 3.3,-1.8 3.3,-2.2 1.8,-2.2M223.1,257.4l1.2,-3.5 2.3,-1.9 2.6,-2.7 1,-2.6 2.4,-2.9 1.9,-1.9 2.2,-2.6M339.6,416.4l0.9,2.9 -1.4,2.2 -0.6,3.1 -2.1,2.8M85.5,450.0l-2.9,1.5 -3.9,0.9 -2.5,1.2M159.1,515.0l-3.4,-0 -3.3,0.5 -1.6,2.2 -0.8,2.5 1.8,3.1M170.8,529.9l-2.9,1.8 -1.7,2.9 -1,2.7 1,3.6M252.2,225.1l2.6,1 3.2,-0.8 3.3,-1.7 3.2,-1.8M312.9,170.1l-0.8,-2.7 -1.2,-2.4 -1.7,-2.3 -2.2,-2.3 -1.8,-2 -0.2,-2.7M250.3,545.2l-1.6,-3.6 -2.3,-1.6 -2.9,-1.3 -2.1,-2.1M222.5,245.0l1.2,-3.3 1.9,-3.5 2.1,-1.5 2.6,-3 2.1,-3.3 1.3,-3.4 1.4,-2.9M374.0,140.1l2.6,-1.2 2.8,-2.8 2.3,-2.8 3.3,-1.9 2.5,-0.5 3.2,-0.5M244.3,541.7l-0.3,-3.6 -2.6,-3 -2.2,-3.2 -2.5,-1.8 -2.5,-1.7M425.2,252.4l-2.8,0.1 -3,-1.4 -1.1,-3 1.2,-3.8M328.1,157.1l1.6,2.8 2.5,0.7 1.1,2.6M27.3,442.6l-2.2,-2.9 0.6,-3.2 -1.8,-3.1M267.9,218.0l2.6,-0.3 2.4,-1.1 2.5,-1.7 1.6,-3 1.4,-2.2 0.8,-2.9M206.7,254.0l2.5,0.8 2.6,2.8 2,2.8 3.4,0.2M373.1,302.8l2.8,2 2.7,-0.4 3,-2M268.9,210.5l2.5,2.1 2.6,1.1 2,3.4 -0.7,2.7 1.7,3 3.7,0.8M455.8,172.6l3,0.4 2.9,2.1 1.8,1.8 2.8,0.8 2.9,-1.8M99.7,489.1l-2.7,-2.2 -1.9,-1.7 -3.1,-2.1 -1.8,-1.8 -3.8,-0.5 -2.7,-0.5M120.3,296.4l3.5,-1.8 2.8,-0.9 3.8,0.6 2.3,2.8 -0.1,3.8 1.3,2.4 3.4,1.3M323.3,464.6l0,3.9 -1.8,3.2 -2.2,1.7M453.9,202.7l-3.3,2 -2.1,2.6 -0.2,3 0.6,3 -0.9,3.1 1.8,3.3M341.5,396.6l-0.6,2.5 1,2.4 0.4,3.8M139.0,517.8l-2.7,1.6 -3.1,1 -3.7,-1.2 -2.5,-0.1M193.5,266.6l3.2,-2 2.7,-2.8 0.4,-3 -1.4,-2.9M95.4,328.8l3.6,-0.2 3.1,-0.6 3.1,-1.2 2.8,-2.7 0.7,-2.6 1,-2.8 1.8,-1.9M216.8,247.3l1.4,-3.6 2.1,-1.9 3.7,-0.5 2.8,1.5M143.3,295.7l-1.3,-2.8 1.3,-2.9 -0.5,-3.1 1.2,-2.5 0.7,-2.8 -0.5,-3 -2.5,-2.2M329.1,474.5l1.5,3.5 2.4,2.4 3.5,1.4 3.4,-0.5 3,-0.1 2.3,-2.3M112.7,493.9l-2.5,-2.7 -3.3,-1.1 -2.3,1.2 -3.2,0.5 -2.2,2.3 -3.1,0.1 -3.1,-0.2M365.6,146.4l0.1,-2.6 0.6,-2.8 1.5,-2.3M347.5,386.6l1.6,3.2 2.3,3 0.2,3.7 -0.4,2.8 -2.9,2.6 -3,-0.2 -2.8,-2.2M67.0,453.4l-2.2,2.5 -2.5,0.4 -1.6,2.8 0.7,3.7 3.1,2.2 2.7,0.4M61.5,386.6l0.5,-3.2 0.8,-3.1 0.2,-3.5 -2,-2.9 0.5,-3.6M301.8,195.7l3.4,-1.8 2.4,-2.6 0.8,-3.9M447.0,154.0l-2,1.6 -2,1.6 -2.9,0.2 -2.4,2.7 -0.3,3.2 -1.5,2 -3.1,1.8M343.2,419.7l0.1,3.9 -1.5,2.3 -3.8,0.9M35.4,418.1l2.6,-2.6 3.6,0.2 2.7,2.2 0.3,3.2 -1.3,3.1M267.0,553.0l-3.5,-0.7 -2.6,-2.8 -3.7,-0.2 -3.4,1.4M340.8,150.4l2.8,2.2 1.8,2.6 1.8,2.7 2.6,1.2 1.8,3.4M99.7,445.0l-3.1,-2.1 -1.3,-2.9 -2.2,-1.4 -0.7,-2.6 -0.4,-2.6M280.1,215.7l1.5,-3 -1.2,-3.1 -1.1,-3.2 -2.6,-3.1 -1.6,-3.4M44.0,426.2l-2.3,-3 -3.3,-0.7 -2.8,-2.4 -1.3,-2.2 -1.6,-2.5 -1.1,-2.8 -1.5,-3M282.3,210.0l3,-2.2 3.5,-0 3.5,-1.4 1.1,-2.3 2.7,-0.8 3.2,1.5 2.5,-0.9M115.6,504.4l-2.8,-0.6 -2.5,2.1 -3.6,0 -2.8,1.7M332.4,456.0l-1.9,2.4 -3.7,0.8 -2.3,1.3 -3.1,-0 -3.1,0.8M463.4,195.1l-0.4,3.8 0.7,2.8 -0.2,2.7 -2.8,2.1M162.5,280.9l1.8,-1.8 2.6,0.2 2.2,-1.4 2.6,-0.6M292.5,522.5l-1,3.4 0.7,2.5 0,3.5 2.9,2.4 0.6,3 0.5,3.4 -2.1,2.8M151.5,281.1l2.9,2.2 2.5,2.6 4,0.6 3.2,0.9 2.6,-0.7M101.4,313.7l3.6,-0.4 3.4,-1.2 2.2,-2.6 -0.5,-2.7 -2.1,-2.3" fill="none" stroke="#2a1818" stroke-opacity="0.29" stroke-width="3.8" stroke-linecap="round" stroke-linejoin="round"/>
<path d="M460.7,162.5 L461.5,164.1 L462.2,165.6 L462.8,167.2 L463.4,168.8 L463.9,170.3 L464.3,171.9 L464.7,173.5 L465.0,175.1 L465.3,176.6 L465.6,178.2 L465.8,179.8 L466.0,181.3 L466.1,182.9 L466.2,184.5 L466.2,186.1 L466.2,187.6 L466.1,189.2 L466.0,190.8 L465.8,192.3 L465.6,193.9 L465.3,195.5 L465.0,197.0 L464.7,198.5 L464.3,200.0 L463.9,201.5 L463.4,203.0 L462.8,204.6 L462.2,206.2 L461.5,207.9 L460.7,209.6 L459.8,211.4 L458.8,213.3 L457.8,215.2 L456.7,217.2 L455.5,219.2 L454.2,221.2 L452.9,223.3 L451.6,225.3 L450.3,227.3 L448.9,229.3 L447.5,231.3 L446.0,233.2 L444.5,235.2 L442.9,237.1 L441.3,239.1 L439.7,241.1 L438.0,243.0 L436.4,245.0 L434.8,246.9 L433.2,248.9 L431.7,250.9 L430.1,252.9 L428.6,254.9 L427.2,257.0 L425.7,259.0 L424.1,261.0 L422.6,263.0 L421.0,264.9 L419.3,266.7 L417.5,268.5 L415.6,270.1 L413.6,271.7 L411.5,273.1 L409.4,274.5 L407.2,275.8 L405.0,277.2 L402.9,278.6 L400.8,280.1 L398.7,281.7 L396.8,283.4 L395.0,285.3 L393.2,287.4 L391.4,289.5 L389.7,291.7 L388.0,294.0 L386.4,296.3 L384.7,298.6 L383.2,300.9 L381.6,303.0 L380.1,305.1 L378.6,307.1 L377.2,309.0 L375.7,310.8 L374.3,312.6 L373.0,314.4 L371.7,316.2 L370.4,318.0 L369.1,319.8 L367.9,321.6 L366.7,323.5 L365.5,325.4 L364.4,327.3 L363.3,329.3 L362.2,331.2 L361.2,333.2 L360.2,335.2 L359.2,337.2 L358.3,339.3 L357.5,341.4 L356.7,343.5 L356.0,345.7 L355.3,347.9 L354.7,350.2 L354.2,352.5 L353.7,354.9 L353.3,357.3 L352.8,359.6 L352.4,362.1 L352.1,364.5 L351.7,366.9 L351.4,369.3 L351.1,371.8 L350.9,374.2 L350.7,376.7 L350.5,379.2 L350.3,381.7 L350.2,384.2 L350.0,386.8 L349.8,389.4 L349.5,392.0 L349.2,394.7 L348.9,397.5 L348.5,400.3 L348.2,403.1 L347.8,406.0 L347.5,408.9 L347.1,411.7 L346.7,414.6 L346.4,417.3 L346.0,420.0 L345.7,422.6 L345.4,425.0 L345.2,427.4 L345.0,429.7 L344.8,432.0 L344.5,434.3 L344.2,436.7 L343.8,439.3 L343.2,441.9 L342.6,444.8 L341.8,447.9 L341.0,451.1 L340.0,454.5 L339.0,458.0 L337.9,461.6 L336.8,465.2 L335.6,468.9 L334.4,472.5 L333.1,476.0 L331.8,479.4 L330.5,482.8 L329.1,486.2 L327.6,489.6 L326.1,493.0 L324.5,496.4 L322.9,499.7 L321.4,502.9 L319.8,506.0 L318.2,509.0 L316.7,511.8 L315.2,514.4 L313.7,516.9 L312.2,519.3 L310.7,521.6 L309.2,523.8 L307.6,525.9 L306.1,527.9 L304.6,529.8 L303.1,531.6 L301.6,533.4 L300.1,535.1 L298.6,536.6 L297.1,538.1 L295.6,539.4 L294.1,540.7 L292.6,541.9 L291.1,543.1 L289.6,544.2 L288.0,545.3 L286.4,546.4 L284.8,547.5 L283.1,548.5 L281.3,549.6 L279.6,550.6 L277.8,551.5 L276.0,552.4 L274.3,553.2 L272.5,553.9 L270.8,554.6 L269.2,555.1 L267.6,555.5 L266.1,555.9 L264.6,556.2 L263.1,556.4 L261.6,556.5 L260.1,556.5 L258.7,556.5 L257.1,556.4 L255.6,556.3 L254.0,556.1 L252.4,555.8 L250.7,555.5 L249.0,555.1 L247.3,554.6 L245.6,554.0 L243.9,553.4 L242.1,552.8 L240.3,552.1 L238.5,551.4 L236.7,550.7 L234.9,550.0 L233.0,549.2 L231.1,548.3 L229.2,547.4 L227.3,546.5 L225.3,545.6 L223.3,544.7 L221.4,543.8 L219.3,542.9 L217.3,542.1 L215.2,541.3 L213.1,540.5 L211.0,539.7 L208.8,538.9 L206.6,538.1 L204.4,537.4 L202.2,536.7 L200.0,536.0 L197.8,535.4 L195.7,534.9 L193.6,534.4 L191.5,534.0 L189.4,533.7 L187.4,533.4 L185.3,533.1 L183.2,532.9 L181.2,532.7 L179.1,532.5 L177.1,532.3 L175.0,532.2 L172.9,532.1 L170.9,532.1 L168.8,532.1 L166.8,532.2 L164.7,532.3 L162.6,532.4 L160.6,532.4 L158.5,532.4 L156.5,532.4 L154.4,532.2 L152.3,532.0 L150.3,531.7 L148.2,531.4 L146.1,531.0 L144.0,530.6 L141.9,530.2 L139.9,529.7 L137.8,529.2 L135.8,528.6 L133.8,528.0 L131.8,527.4 L129.8,526.7 L127.7,526.0 L125.7,525.2 L123.7,524.4 L121.8,523.6 L119.8,522.7 L118.0,521.8 L116.2,520.8 L114.5,519.8 L112.9,518.7 L111.2,517.6 L109.7,516.5 L108.2,515.3 L106.7,514.0 L105.3,512.8 L104.0,511.5 L102.8,510.1 L101.8,508.8 L100.8,507.4 L100.0,506.0 L99.3,504.6 L98.7,503.2 L98.2,501.7 L97.8,500.2 L97.5,498.7 L97.2,497.1 L97.0,495.5 L96.8,493.9 L96.7,492.3 L96.6,490.6 L96.7,488.8 L96.8,487.0 L97.0,485.1 L97.3,483.3 L97.5,481.4 L97.7,479.6 L97.9,477.8 L98.0,476.0 L98.0,474.4 L97.9,472.8 L97.8,471.3 L97.7,469.7 L97.5,468.2 L97.2,466.8 L97.0,465.4 L96.6,464.1 L96.3,462.8 L95.8,461.7 L95.3,460.6 L94.7,459.6 L94.0,458.6 L93.2,457.7 L92.4,456.9 L91.5,456.2 L90.6,455.5 L89.7,454.9 L88.7,454.4 L87.9,454.1 L87.0,453.8 L86.2,453.6 L85.4,453.5 L84.7,453.5 L84.0,453.6 L83.2,453.8 L82.5,454.1 L81.7,454.5 L80.8,455.0 L79.8,455.7 L78.8,456.5 L77.7,457.5 L76.4,458.8 L75.2,460.2 L73.8,461.8 L72.4,463.5 L71.0,465.3 L69.5,467.0 L68.0,468.6 L66.5,470.2 L65.0,471.6 L63.5,472.9 L61.9,474.2 L60.2,475.4 L58.5,476.6 L56.8,477.7 L55.1,478.8 L53.4,479.9 L51.8,480.9 L50.1,481.8 L48.5,482.6 L46.9,483.4 L45.3,484.1 L43.7,484.7 L42.0,485.3 L40.4,485.9 L38.9,486.3 L37.4,486.7 L36.0,487.1 L34.6,487.3 L33.4,487.5 L32.3,487.6 L31.3,487.7 L30.3,487.7 L29.5,487.6 L28.7,487.4 L27.9,487.2 L27.2,486.9 L26.5,486.5 L25.8,486.0 L25.1,485.4 L24.4,484.7 L23.7,484.0 L23.0,483.1 L22.4,482.2 L21.8,481.2 L21.2,480.1 L20.7,478.9 L20.2,477.5 L19.9,476.0 L19.6,474.4" fill="none" stroke="#7a1010" stroke-width="8" stroke-opacity="0.8" filter="url(#b2)"/>
<path d="M33.4,487.5 L32.3,487.6 L31.3,487.7 L30.3,487.7 L29.5,487.6 L28.7,487.4 L27.9,487.2 L27.2,486.9 L26.5,486.5 L25.8,486.0 L25.1,485.4 L24.4,484.7 L23.7,484.0 L23.0,483.1 L22.4,482.2 L21.8,481.2 L21.2,480.1 L20.7,478.9 L20.2,477.5 L19.9,476.0 L19.6,474.4 L19.4,472.6 L19.3,470.7 L19.3,468.6 L19.3,466.4 L19.4,464.0 L19.5,461.6 L19.7,459.1 L20.0,456.5 L20.3,453.8 L20.6,451.0 L21.0,448.1 L21.4,445.0 L21.9,441.8 L22.4,438.4 L23.0,435.0 L23.6,431.6 L24.3,428.2 L25.0,424.9 L25.7,421.6 L26.5,418.6 L27.3,415.7 L28.2,412.7 L29.1,409.8 L30.1,407.0 L31.1,404.2 L32.1,401.5 L33.1,398.9 L34.1,396.5 L35.1,394.2 L36.0,392.0" fill="none" stroke="#7a1010" stroke-width="6" stroke-opacity="0.5" filter="url(#b2)"/>
</g>
<path d="M113,298 C122.67,292 135.5,285.33 150,278 C164.5,270.67 183.33,263.33 200,254 C216.67,244.67 235.03,232.67 250,222 C264.97,211.33 279.88,199.27 289.8,190 C299.72,180.73 302.3,173.28 309.5,166.4 C316.7,159.52 324.82,153.93 333,148.7 C341.18,143.47 350.08,138.43 358.6,135 C367.12,131.57 376.25,129.25 384.1,128.1 C391.95,126.95 398.17,126.95 405.7,128.1 C413.23,129.25 422.1,131.88 429.3,135 C436.5,138.12 443.67,142.22 448.9,146.8 C454.13,151.38 457.92,157.27 460.7,162.5 C463.48,167.73 464.78,172.97 465.6,178.2 C466.42,183.43 466.42,188.67 465.6,193.9 C464.78,199.13 463.48,203.7 460.7,209.6 C457.92,215.5 453.48,222.75 448.9,229.3 C444.32,235.85 438.43,242.37 433.2,248.9 C427.97,255.43 423.57,262.75 417.5,268.5 C411.43,274.25 403.03,277.3 396.8,283.4 C390.57,289.5 385.12,298.42 380.1,305.1 C375.08,311.78 370.6,317.1 366.7,323.5 C362.8,329.9 359.2,336.27 356.7,343.5 C354.2,350.73 352.9,358.82 351.7,366.9 C350.5,374.98 350.45,383.15 349.5,392 C348.55,400.85 347.15,411.2 346,420 C344.85,428.8 344.97,434.9 342.6,444.8 C340.23,454.7 336.12,468.23 331.8,479.4 C327.48,490.57 321.73,502.8 316.7,511.8 C311.67,520.8 306.65,527.63 301.6,533.4 C296.55,539.17 291.8,542.78 286.4,546.4 C281,550.02 274.6,553.48 269.2,555.1 C263.8,556.72 259.42,556.83 254,556.1 C248.58,555.37 242.82,553.03 236.7,550.7 C230.58,548.37 224.13,544.73 217.3,542.1 C210.47,539.47 202.75,536.55 195.7,534.9 C188.65,533.25 181.88,532.65 175,532.2 C168.12,531.75 161.27,532.9 154.4,532.2 C147.53,531.5 140.45,530.07 133.8,528 C127.15,525.93 120,523.23 114.5,519.8 C109,516.37 103.77,511.98 100.8,507.4 C97.83,502.82 97.17,497.8 96.7,492.3 C96.23,486.8 98.23,479.68 98,474.4 C97.77,469.12 97.13,464.03 95.3,460.6 C93.47,457.17 89.75,454.48 87,453.8 C84.25,453.12 82.47,453.53 78.8,456.5 C75.13,459.47 70.05,467.25 65,471.6 C59.95,475.95 53.77,479.95 48.5,482.6 C43.23,485.25 37.3,487.03 33.4,487.5 C29.5,487.97 27.4,487.58 25.1,485.4 C22.8,483.22 20.35,480.13 19.6,474.4 C18.85,468.67 19.45,460.3 20.6,451 C21.75,441.7 23.93,428.43 26.5,418.6 C29.07,408.77 33.05,398.88 36,392 C38.95,385.12 40.53,383.97 44.2,377.3 C47.87,370.63 53.08,359.38 58,352 C62.92,344.62 68.03,339.33 73.7,333 C79.37,326.67 85.45,319.83 92,314 C98.55,308.17 103.33,304 113,298Z" fill="none" stroke="#4a0808" stroke-width="1.4"/>
<path d="M202,300 C185,312 160,322 146,344" fill="none" stroke="#d4705c" stroke-width="1.6"/>
<path d="M200,404 C215,370 240,330 286,280 C310,258 335,240 358,228" fill="none" stroke="#d4705c" stroke-width="1.6"/>
<path d="M304,366 C298,390 290,410 285,436" fill="none" stroke="#d4705c" stroke-width="1.6"/>
<ellipse cx="255.5" cy="328.3" rx="78.7" ry="49.8" transform="rotate(-42.6 255.5 328.3)" fill="url(#nuc)" stroke="#0c4818" stroke-width="2.5"/>
<path d="M200,404 C215,370 240,330 286,280" fill="none" stroke="#d4705c" stroke-width="1.6" stroke-opacity="0.8"/>
<text transform="translate(269,341) rotate(-48)" font-size="22.5" font-family='"Liberation Sans", sans-serif' fill="#fff" text-anchor="middle">Nucleus</text>
<path d="M93.8,367 C105,410 125,440 165,462 C195,478 240,478 281.5,467" fill="none" stroke="#ee1111" stroke-width="2"/>
<path d="M107.6,365.5 C118,400 140,432 174,451 C205,466 240,466 269.8,458" fill="none" stroke="#ee1111" stroke-width="2"/>
<path d="M121.5,366.4 C130,392 150,422 183,440 C210,454 235,455 256.5,448" fill="none" stroke="#ee1111" stroke-width="2"/>
<line x1="90" y1="387.6" x2="123.8" y2="365.5" stroke="#000" stroke-width="1.8" />
<line x1="115" y1="433.3" x2="144.5" y2="406.8" stroke="#000" stroke-width="1.8" />
<line x1="160.7" y1="473" x2="178.4" y2="440.7" stroke="#000" stroke-width="1.8" />
<line x1="220.5" y1="493.7" x2="221" y2="450.4" stroke="#000" stroke-width="1.8" />
<line x1="275.6" y1="483.4" x2="258" y2="446.6" stroke="#000" stroke-width="1.8" />
<ellipse cx="202" cy="299.2" rx="8" ry="5.5" transform="rotate(-30 202 299.2)" fill="#111a12"/>
<ellipse cx="144.5" cy="346.3" rx="8.5" ry="6" transform="rotate(-45 144.5 346.3)" fill="#111a12"/>
<ellipse cx="90" cy="387.6" rx="9" ry="6" transform="rotate(-30 90 387.6)" fill="#111a12"/>
<ellipse cx="115" cy="433.3" rx="9" ry="6" transform="rotate(-55 115 433.3)" fill="#111a12"/>
<ellipse cx="160.7" cy="473.1" rx="9" ry="6" transform="rotate(-65 160.7 473.1)" fill="#111a12"/>
<ellipse cx="220.5" cy="493.7" rx="9.5" ry="5.5" transform="rotate(-88 220.5 493.7)" fill="#111a12"/>
<ellipse cx="275.6" cy="483.4" rx="9" ry="6" transform="rotate(70 275.6 483.4)" fill="#111a12"/>
<ellipse cx="282.4" cy="440.7" rx="9" ry="5.5" transform="rotate(-75 282.4 440.7)" fill="#111a12"/>
<ellipse cx="197.5" cy="409.7" rx="9" ry="5.5" transform="rotate(-70 197.5 409.7)" fill="#111a12"/>
<ellipse cx="306.6" cy="361.1" rx="8.5" ry="5.5" transform="rotate(-75 306.6 361.1)" fill="#111a12"/>
<ellipse cx="362.5" cy="222.4" rx="7.5" ry="5.5" transform="rotate(-55 362.5 222.4)" fill="#111a12"/>
<circle cx="212.7" cy="198.9" r="77" fill="url(#sph)" stroke="#8a8a8a" stroke-width="1"/>
<circle cx="122" cy="189" r="76.5" fill="none" stroke="#000" stroke-width="2" stroke-dasharray="9 6.5" stroke-dashoffset="3"/>
<path d="M186.5,134.4 C195,129 203,124.5 205.4,123.2 C215,118 222,114.5 229,110.2 C238,104 246,98 252.5,91.3 C261,83 269,75 276.1,66.6 C284,57 290.5,49 296.2,40.4 L310.9,40.6 C307,48 304,55 299.7,61.8 C293,72 285,79 276.1,86.6 C268,93 261,100 252.5,106.7 C246,111 239,117 231.3,122 C224,127 216,132 208.9,136.7 Z" fill="url(#cant)" stroke="#6a6a6a" stroke-width="1" stroke-linejoin="round"/>
<path d="M114,73 L205.4,129 L253.7,41.2" fill="none" stroke="#ff1420" stroke-width="4"/>
<g transform="translate(108,77) rotate(-35.8)"><ellipse rx="35.5" ry="21" fill="#c8d5df" stroke="#000" stroke-width="2"/><line x1="-35.5" y1="0" x2="35.5" y2="0" stroke="#000" stroke-width="1.6"/><line x1="0" y1="-21" x2="0" y2="21" stroke="#000" stroke-width="1.6"/></g>
<path d="M114,73 L205.4,129 L253.7,41.2" fill="none" stroke="#ff1420" stroke-width="4"/>
<rect x="215.3" y="259.8" width="21" height="32.6" fill="none" stroke="#000" stroke-width="2" />
<line x1="236.3" y1="259.8" x2="501.6" y2="157" stroke="#000" stroke-width="1.8" />
<line x1="236.3" y1="292.4" x2="501.6" y2="499.2" stroke="#000" stroke-width="1.8" />
<text x="36.4" y="60.7" font-size="18.5" font-family='"Liberation Sans", sans-serif' fill="#000" text-anchor="middle" >Position</text>
<text x="36.4" y="83.5" font-size="18.5" font-family='"Liberation Sans", sans-serif' fill="#000" text-anchor="middle" >Sensing</text>
<text x="36.4" y="106.5" font-size="18.5" font-family='"Liberation Sans", sans-serif' fill="#000" text-anchor="middle" >Diode</text>
<text x="336" y="70.2" font-size="22" font-family='"Liberation Sans", sans-serif' fill="#000" >AFM Probe</text>
<text x="270.5" y="140.4" font-size="18" font-family='"Liberation Sans", sans-serif'>t = t<tspan font-size="11" dy="5">i</tspan></text>
<text x="11" y="229" font-size="18" font-family='"Liberation Sans", sans-serif'>t = t<tspan font-size="11" dy="5">0</tspan></text>
<text x="447.2" y="105.5" font-size="22.2" font-family='"Liberation Sans", sans-serif' fill="#000" >Dorsal Stress Fiber</text>
<text x="664.5" y="133.4" font-size="46" font-family='"Liberation Sans", sans-serif' fill="#000" font-weight="bold" >(a)</text>
<text transform="translate(426.9,356.4) rotate(10)" font-size="22" font-family='"Liberation Sans", sans-serif' text-anchor="middle">Actomyosin</text>
<text transform="translate(423,382.7) rotate(10)" font-size="22" font-family='"Liberation Sans", sans-serif' text-anchor="middle">Cortex</text>
<text transform="translate(373,487) rotate(-21.5)" font-size="22" font-family='"Liberation Sans", sans-serif' text-anchor="middle">Ventral</text>
<text transform="translate(384.5,514.5) rotate(-21.5)" font-size="22" font-family='"Liberation Sans", sans-serif' text-anchor="middle">Stress Fiber</text>
<text transform="translate(314,573.5) rotate(-11.8)" font-size="22" font-family='"Liberation Sans", sans-serif' text-anchor="middle">Transverse Arcs</text>
<text x="22" y="565.9" font-size="22.4" font-family='"Liberation Sans", sans-serif' fill="#000" >Lamellipodium</text>
<path d="M443,104 C400,128 365,170 346,222" fill="none" stroke="#000" stroke-width="4.2"/>
<path d="M337.9,234.2 L338.49,210.73 L357.03,220.59 Z" fill="#000"/>
<path d="M392,300 C410,320 420,336 440,337 C455,337 468,334 482,332" fill="none" stroke="#000" stroke-width="4.2"/>
<path d="M385.1,291.7 L406.64,301.04 L390.56,314.54 Z" fill="#000"/>
<path d="M496,330 L476.67,343.32 L473.74,322.52 Z" fill="#000"/>
<path d="M365.3,472.9 C358,448 345,428 310,412" fill="none" stroke="#000" stroke-width="4.2"/>
<path d="M298.3,403.8 L321.74,405.21 L311.24,423.39 Z" fill="#000"/>
<path d="M303.7,559.4 C298,530 285,510 262,494" fill="none" stroke="#000" stroke-width="4.2"/>
<path d="M251.9,485.9 L274.74,491.36 L261.24,507.44 Z" fill="#000"/>
<path d="M88.4,542.5 C94,515 108,498 130,484" fill="none" stroke="#000" stroke-width="4.2"/>
<path d="M138.6,475.1 L129.26,496.64 L115.76,480.56 Z" fill="#000"/>
<clipPath id="insclip"><rect x="501.6" y="157" width="228" height="342.2"/></clipPath>
<g clip-path="url(#insclip)">
<rect x="501.6" y="157" width="228" height="342.2" fill="#fff" />
<rect x="501.6" y="322" width="228" height="178" fill="url(#cyto)" />
<path d="M500,313.7 L580,313.7 Q582,313.7 583.5,314 A67,67 0 0 0 662.9,314 Q664.5,313.7 667,313.7 L731,313.7 L731,362 L500,362 Z" fill="url(#redband)"/>
<path d="M585,330 L661,330 L640,378 L623,392 L606,378 Z" fill="#ff0000" filter="url(#b8)"/>
<clipPath id="bandclip"><path d="M500,313.7 L580,313.7 Q582,313.7 583.5,314 A67,67 0 0 0 662.9,314 Q664.5,313.7 667,313.7 L731,313.7 L731,352 L500,352 Z"/></clipPath>
<g clip-path="url(#bandclip)">
<path d="M604.7,334.4l-0.5,3.2 -1.1,3.6 0.6,2.9 2.3,2.9M674.1,332.9l2.2,-2.2 3.7,-0.8 1.9,-2.1M608.7,347.4l0.3,2.9 2,2.4 0.5,2.7 -0.1,2.5 -0.1,3.2M603.6,322.9l-1.5,3.7 0.8,3.7 -1.1,3.2M549.8,329.2l2.4,-1.5 3,-0.7 2.3,-1.2 1.9,-2.8M505.5,328.4l-1.8,2.1 -1.2,3.7 -1.9,2.2 -1.1,3.4M568.6,322.4l1.6,3.5 1.8,1.8 2.8,1.5M521.3,331.7l2.7,2 2.2,2.2 2.1,2.6M551.8,345.5l1.3,3.7 1.5,2.3 1.8,2.3M561.4,339.3l1.1,-3.5 0.7,-2.4 1.7,-2.1 2.3,-1.4 2.7,-2.5M654.4,346.6l2.5,2.1 2,2 2.2,2.4 1.5,2M706.5,346.0l3.9,0.1 3.3,-1.5 1.5,-2.4 0.9,-3.4 0.1,-3 0.5,-2.7M695.4,336.3l2.3,2.1 2,1.8 3.2,1.4M616.1,338.3l2.2,2.6 0.6,3.2 1.5,2.2M684.7,325.0l2.6,1.4 2.6,1.6 2.5,1.3 2.8,0.3 2.6,1.3 3.9,-0.1M554.7,346.3l-1.5,2.7 -3,1.6 -3.6,0.9 -2.4,-0.9M669.7,325.0l2.7,1.1 3,0.3 3.1,0.5 3.7,0.7 3,-1 3.3,-0.4M671.9,318.6l3.2,-0.6 2.6,1.1 3.6,1.6 2.5,2M584.6,340.1l0.7,2.6 -0.7,3.6 -1.1,2.8 -0.2,3.5M645.7,340.4l-1.9,1.7 -0.9,2.7 -0.8,3.4 0.8,3.2M516.5,334.0l-0.4,2.6 -0.9,2.6 -1.9,2.8M695.7,342.0l1.4,3.3 0.2,3.1 0.3,2.7M506.3,322.8l3.2,-0.9 2.7,-0.6 2.9,0.5 2.6,-0.2 3.1,-1 3,-0.1M677.1,327.6l3.7,0.5 3,-0 2.5,-0.3 3.5,-0.8M651.9,335.9l3,0.8 3.5,1 2.7,2.1 3.5,1 2.4,2.2 2.8,1.8M632.3,323.1l1.5,2 1.6,3.3 2.5,2.1 2.5,1.6M638.5,320.8l-3,0.7 -2.7,2 -3.1,0.9 -3.4,1.3M637.6,340.3l2.5,-1.4 4,-0.2 2.6,-0.3M502.1,324.6l1.7,2.6 2.2,2.5 2.5,0.8 2.1,2 2.8,2.7 0.7,3.2M543.1,324.3l2.8,0.3 3.9,-0.5 2.9,0.1M607.0,319.4l-2.8,0.9 -3.1,2 -1.3,2.6M557.8,325.7l-2.9,2.6 -2,1.5 -2.6,0.4M688.1,339.9l2.8,0.5 3.5,0.7 3,0.9 3.2,0.3M609.1,346.0l2.1,1.7 1.4,2.7 2.4,1.6 3.6,1.4M511.0,329.5l0.4,3.1 -0.9,2.9 -1.7,2.3 -1.2,2.5M630.8,337.1l2.9,0.3 2.3,1.2 1.7,3.4 2,3.2 1.8,2.3M535.4,323.3l2.8,-1.2 2,-2.3 2,-1.8 3.4,-1.2 2.4,-0.8 3.6,-0.1M710.6,323.7l2.8,2.1 3.1,0.4 2.6,0 2.9,-0.3 2.9,-0.4M660.9,317.7l2.7,1.4 1.9,2.3 1.6,3.5 2,1.5 2.8,1.2 3.7,0.7M721.4,328.9l3.9,-0.7 2.3,-1.5 2.2,-2.8 0.8,-2.3 1.2,-2.9 0.3,-3.2M527.6,331.0l-0.6,2.5 0.2,3.3 -0.9,2.9 -1.5,2.5 -2.1,2 -2.1,3M630.8,330.0l2.9,1 2.5,1.4 2.4,0.4 3.8,1M707.4,342.8l-0.4,3.7 0.5,3.1 0.1,3.6 -1.6,2.7 -2.3,2.3 -2.5,1.1M627.2,334.3l1.7,2.5 3.1,1.9 1.4,2.8M596.1,342.0l1.2,3.7 -0.5,4 -0.2,3.7 -0.9,2.6 0.6,2.7M655.2,325.4l-0.8,-2.7 0.7,-2.4 1,-3.6 2.2,-2.9 1.9,-3.2 2.9,-2.2M644.3,330.9l0.7,2.7 1.6,2.1 2.6,1.3M542.2,320.3l1.6,2 3.6,1.7 2.4,2.7M701.9,326.9l-3.4,1.9 -3.2,1.9 -3.7,0.2 -2.6,1.6 -3.8,0.3 -3.2,-0.9M516.7,344.0l-1,2.3 -0.9,3.1 -2.2,1.9 -1.2,2.9 -2.5,2.9 -0.6,3.2M706.7,319.2l-3,2.6 -2.5,2.8 -3.1,2.2 -3.4,0.2M652.2,317.4l0.6,2.9 2.4,2.9 0.9,2.5 0.5,3.2 1.9,3.2M587.0,339.4l-2.4,1.4 -1.3,2.4 -1.7,2.7M722.3,347.3l-2.6,-0.4 -3.1,-0.3 -2.7,-0.8M678.2,320.7l-0.2,3.1 -0.6,3.9 -1.2,2.4M517.4,324.4l2.8,0.6 2.6,0.3 3.1,-0.7 3.1,-0.4 2.6,0.7M534.7,334.5l2.4,0.6 3.7,-0.6 3.6,0.4M589.3,337.1l2.4,1.9 3.4,1.6 2.8,2.2M647.0,317.7l1.6,2.8 2.3,2.5 0.9,3.7M679.4,330.7l-1.7,2.7 -3.2,1.7 -3.9,0.5 -3.6,1 -3.5,0.1 -3.5,0.6M632.4,343.1l3.3,-1.4 2.1,-1.9 3,-1.5 2,-1.7 2.8,-1.1 3.2,-0.3M577.6,321.7l2,1.8 1,3.7 -0.1,3M571.6,330.2l2.9,1 3.2,2.3 2.7,2 2.5,1.2 1.5,2.3 0.2,3.4M570.6,317.1l3.7,-0.7 2.7,-2.4 0.8,-2.4 1.6,-3.6 2.2,-3M601.1,338.1l2.6,0.4 2.7,-0.8 2.5,-0.2 3.5,1.7M532.6,326.3l2.3,3.1 3,1.2 3.2,1.6 2.8,1.9M521.6,333.1l-1.2,2.3 0.3,3.7 -0.4,3.2 -0.9,3.6 -1.4,2M669.8,323.3l2.5,0.7 2.5,1 2.2,1.4 3.7,0.2M597.1,337.8l3,-2.6 1.3,-3.7 1.9,-1.7 1,-3.8 0.5,-2.7M675.0,333.3l-2.2,3.3 -3.2,1.5 -2.7,2.9M568.8,341.6l-1.8,2.1 -3.7,1.4 -2.2,2.9 -1.3,2.2 -0.4,2.8 -1.1,2.5M658.1,324.8l1.2,3.2 2.4,3.1 2.2,2.7 1.9,3.4 1,3 1,3.7M593.0,332.4l3.1,-0.9 3.9,-0.5 2.9,-1.2 2.4,-2.9 1.3,-3.5M559.8,345.0l-0.3,3.2 0.7,3.7 0.5,3M648.8,338.4l-1.5,3.4 -2.4,2.9 -2.4,1.3 -2.9,0.5M512.0,342.1l1.8,3 3.1,1.6 4,0.1 2.6,1.4 3.5,0.3 3.7,1.6M672.0,337.7l0.6,3.9 0,3.2 0.4,3M702.6,332.5l-2.8,1.8 -2,2 -1.3,3.2M577.0,345.7l-3.6,-0.7 -2.9,-0 -3.2,-0.1 -3.3,1.9 -2.8,1.5M567.4,345.9l2.3,2 2.9,2.6 1.9,2.5 2,2 2.9,2.7M593.4,328.9l2,3.2 1.8,2.9 2.8,2.8 2.7,1M691.6,339.4l3.4,1.4 2.5,1.9 2.8,1.5 2.8,1.2M515.6,335.1l2.9,1.6 3.5,0.8 3.2,0.9 1.8,2.1 1,2.8M564.3,334.6l0.9,2.8 -0.2,3.1 1.2,3.2 1.3,3 -0.6,3.3 -2,2.3M519.1,326.3l1.5,2.3 1.5,2.9 1.2,2.8 1.9,3.2 1.5,3.4 0.7,2.8M528.7,319.7l2.9,-1.8 2.7,-1 2.9,-1.8 2.3,-2 3.6,-1.3 3.5,0.2M602.3,342.2l2.1,2.7 2.6,2.3 1.3,3.4 -0.3,2.8M709.8,338.0l-0.8,2.9 -2,2.5 -0.5,3.2 -1.3,3.5M676.0,338.1l-1.7,2.7 -1.8,2.6 -2.5,1.8 -3.4,0.4 -2.6,0.2M659.9,327.0l0.6,2.4 -0.8,2.9 1,2.9 1.1,2.5 2,1.9M590.9,337.1l0.3,3.7 -0.5,3.5 -1.4,2.9 -1,3.2 -2.8,2.8M629.7,346.1l3.3,-1.6 2.3,-2.2 3.4,-0.8 3.9,0.6M504.8,339.4l3.9,-0.4 2.7,-0.1 2.8,0.4 3.2,1.8 1.7,1.8M714.3,326.9l1,2.4 3.3,2.2 2.7,1.2M642.7,340.1l1.9,-2 0.4,-2.5 1.9,-2.5M663.9,321.3l2.8,-0.1 3.1,-0.3 2.7,-1.8M540.3,333.6l0.6,3.2 2.2,2.5 2.7,1.4M598.0,341.5l1.2,3.5 -0.5,3.9 1.2,3.2 1.7,2.4M728.8,343.0l2.4,-1 3.5,-0.2 3.4,-0.4 3.4,-1.9 2.4,-1.6 3.5,-1.6M561.6,328.3l-2.1,2.7 -2.1,1.6 -3.1,1.4 -3.1,0.8M516.8,339.2l-1.7,2.7 -1,2.9 -0.4,3.6 -0.2,3.5 1.2,3.4 -0.6,2.8M657.6,330.1l2.3,1.2 2.5,0 3.8,-0.1 3.2,0.5 2.6,1.8M654.4,339.6l2.7,2.9 3.2,1.9 2.4,2.1M720.1,338.2l-0.3,2.6 0,2.6 -0.5,2.6M631.1,320.0l0.9,3.7 1.4,2.1 0.4,3.2 1.5,2.3 0.3,3.6M630.6,321.8l-2.7,1.4 -2.2,2.9 -0.5,2.5 -1.2,3 -2.8,2.4M690.1,345.2l3,1.7 3.9,0.1 2.9,1.8 3.4,1.2 2.5,2.7 3.1,0.9M693.6,333.0l0.1,3.4 0.8,2.7 0.4,3.8 -1.2,2.6 0.3,3.2M594.3,337.1l1.6,2.6 0.4,3.7 -0.3,3.7 0.2,3.5 1,2.8M684.4,317.0l-1.6,3.1 -2.3,2.8 -1,2.8M522.6,325.8l3.4,-1.4 3.2,-0.1 3.4,1.8 1.7,3.1 2.6,2 2.9,2.6M705.2,337.7l2.7,1.2 3.4,-0.1 2.8,1.2 2.7,-0M505.8,337.9l0.6,2.4 -0.2,2.8 1,3.6 0.4,3.5 1.7,1.9M507.5,320.1l2.8,0.6 4,0.2 3.5,1.1 2.9,-0.4 3.5,1.6M714.2,320.8l0.5,3 0.5,3.3 1.7,2.4M713.4,345.1l-1.5,2.9 -2.3,2.6 -1.6,3.1 -0.1,3.8 -2.3,3.2 -3.2,1.4M557.0,341.4l-1.4,3.3 -1.3,3.4 -2.1,2.5 -1.4,3 -1.7,2.4M535.3,347.1l-2.9,2.3 -3.7,1 -2.5,0.4M656.5,334.0l0.6,2.6 -1.2,3.6 -1.1,2.4 -2.6,2.4M662.8,334.2l-1.2,3.3 0.4,3 0.7,2.6 0.5,3.1 -0.6,2.9M632.9,326.3l3.2,-1.9 3.3,-1.4 2.6,-1.7 3.9,-0.4 3.6,0.8M589.3,319.2l0.9,3 -0.4,3.9 -0.5,2.8 -1.7,3.2 -2.5,1.7M698.0,338.3l1.8,1.8 0.8,3.5 -1.2,3.2 0.5,2.7M702.0,329.1l-2.9,0.1 -3,0.2 -3.5,-1.3 -3.8,-0.9M533.1,321.1l2.4,2 2.8,1.8 2,1.9 1.3,3.2M606.8,319.5l3.1,0.7 3.5,-1.1 3,-0.6 2.6,-1.9 1,-2.5 -0.3,-3.1M526.0,319.4l-0.9,3.3 -2.5,2.3 -1.9,1.7 -1.7,2 -2.2,1.5M557.9,336.1l2.8,-0.4 3.6,0.6 3.3,-0.7 2.8,-1.9 1.4,-3.4M572.5,320.5l0.8,-3.4 2.1,-2.4 1.3,-3.7M690.1,342.9l0.6,2.9 1.1,3.2 2.1,2.7 0.8,3.5M506.8,329.3l-3.5,0.3 -2.4,-0.7 -2.5,-1.3M634.8,338.2l3.2,0.2 2.7,0.8 2.8,1.8 1.5,3.1M722.0,341.5l-0.8,3.4 -0.4,3.2 -1.6,3 -2,2.1M708.7,337.9l1.4,2.8 1.9,2 1.5,2.9M576.4,331.3l3.6,0.9 2.4,1.6 1.6,2.2 2.9,1.5M673.5,330.3l0.9,3.7 -0.2,2.7 -0.3,2.9M606.5,336.7l3.7,1.5 2.6,2.6 1.7,2.8 2,1.8 1.8,2.2M626.7,335.8l-0.2,3 0.5,3.1 0.8,3.3M676.3,342.1l2.9,0.6 2.8,-0.4 3.3,-1.7 2.5,-1.5 3.5,-0.6 3.6,-0.5M706.9,347.2l2.4,1.7 1.4,3.3 0.1,3.7 1.3,3M673.5,324.0l3.7,0 2.8,1.9 2.4,2.4 2.3,2M504.2,339.5l0.5,3.4 1.1,3.8 0.9,2.7 2.1,3.4 1.9,2.1M507.9,333.3l2,1.8 2.3,1.9 1.6,2.9 1.4,2.7 3.2,1.8 3.5,1.4M631.4,341.7l1.5,2.5 1.5,2 2.3,1 2.3,3.1 2.1,3.3M588.4,340.4l3.2,-0.5 2.6,0.2 3.8,1 3,1.3M595.5,322.5l3.6,0.3 3.9,-0.3 2.6,-0.2M606.4,322.1l0.8,2.5 2.3,2.8 1.7,3.4M712.5,337.1l1.8,2.3 3.3,1.3 2.7,-0.3 2.4,-1 2.7,-0.4M726.3,339.6l3.3,1.1 2.6,-0.1 3.5,1.5M590.6,331.9l0.4,3 1.3,2.9 2.5,2.1M722.3,345.2l-1.8,3.5 -1.3,2.9 -2,3.1 -2.5,3 -1.6,3.5 -2.3,2M585.3,335.1l-0.9,3.9 -2.2,2.3 -2,2.9 -2.5,2.6 -1.4,2.7M562.5,336.4l2.3,2.3 1.2,3.1 1.9,3.4 2.3,2.1 2.9,1.7 2.7,1.3M681.0,346.2l3.6,-0.5 3.4,0 2.5,-1M535.7,341.4l2.5,-0.8 2.7,-1.3 3.5,0.4 3,-0.9 2.2,-2.4 0.6,-2.7" fill="none" stroke="#200808" stroke-opacity="0.28" stroke-width="2.2" stroke-linecap="round" stroke-linejoin="round"/>
<path d="M637.2,329.3l2.2,1.4 3.8,0.1 3.6,0.5M602.0,343.1l2.9,-0.1 3.4,2.2 2,2.9M657.9,329.0l3.8,1.1 3.6,-0.2 3.5,-1.2M512.6,325.7l3.9,-0.6 3.6,0.2 2.6,0.4 2.4,-1.1M661.1,346.8l2.7,-2.9 0.8,-3.2 2,-3.4 2.5,-2.4 3.6,-1.6M522.6,320.6l2.2,3 3.3,1.6 3.4,-0.5 2.8,-0.4 3.2,0.3 3.8,0.9M705.5,328.4l3.1,-0.6 2.9,0.7 2.5,1.3 3.4,1.4 2.5,2.9M690.6,328.9l3.7,0.6 3.4,-0.4 2.9,0.3 3.5,-0.3 3.4,0.1 2.8,-0.4M555.9,321.4l3.5,-0.3 2.9,-1.3 1.7,-1.9 2.4,-2.7 0.9,-2.8M624.5,346.4l2,-3.4 1.9,-1.8 2.3,-2.6 2.9,-1M607.3,337.2l3.8,-0.7 3.7,1.5 3.3,1.5M608.8,348.0l0.9,3.1 -0.7,2.6 0.2,3.2 1.1,3.5 0.5,3.2 -0.9,3.2M619.1,329.4l3.3,-0.6 3.7,-1.1 2.9,0.7 2.6,0.5M622.2,343.4l2.9,0.6 3.9,-0.2 3.7,-1.4 2.7,0.2 3.5,-0.7M590.1,330.5l2.6,2.4 2.8,0.4 3.6,1.5 1.5,2.1M692.7,347.7l1.7,2 2.3,2.2 2.4,1.5 3.1,1.4 2.8,-0.4 3,-0.7M594.0,323.0l2.4,-2.6 3.2,-1.3 3,-1.6M589.7,346.1l3,1.1 3.1,0.3 3.3,-0.5M650.7,334.4l3.3,-0.9 3.1,-0.3 2.5,0.3M639.0,320.6l1.3,2.4 1.7,2.1 2.3,2.5M673.6,345.3l-0.9,2.7 -0.6,3.5 -1.4,2.3 -0.3,3.6 -0.9,3.6 0.3,3.1M590.6,321.7l3.5,-0.7 3,0.9 2.7,0.4 2.1,1.5 3.4,0.3M687.1,331.4l-1,3.1 -1.8,2.4 -2.5,1.3M585.2,320.6l2.5,2.8 2.4,1.7 3.4,1.8 1.7,2.4 2.1,2.2M655.7,335.1l3.7,0.7 2.7,0.8 3.1,2 2.5,0.8 3.1,1.1 3.6,1.6M663.7,332.2l-0.9,3.8 -1.4,3 -1.6,3.2 -2.6,2.8 -2.2,3.1M727.0,328.6l2.7,2.7 2.7,2.4 2.3,1.4 2.1,3.3 0.6,2.4M708.4,318.1l2.3,2.2 2.3,2.3 0.9,2.9 -0.7,3.8M695.7,332.0l2.8,0.3 3.6,-1.6 3.1,-0.2M680.8,318.8l1.4,2.5 2.2,3.1 2.4,2.7 3.6,1.6 1.8,2M619.1,318.6l0,2.6 1,3.5 2.2,2.3 2.8,2.7M526.0,329.2l3,-0.3 2.9,0.4 3.1,0.7 3.7,-1.4 2.8,-0 2.9,0.4M714.8,340.2l2.6,0.9 2.5,1.8 1.3,3M603.4,328.9l0.4,-3.1 1.7,-2.9 0.1,-2.9 -1,-2.4M712.9,328.2l-1.3,3.1 -1.1,2.3 -2.3,1.6 -3.6,1.2M571.8,337.8l-0.1,3.1 1.7,2.8 2.6,1.7M620.0,325.2l-2,3.1 -1.4,2.9 0,3M672.6,332.1l0.1,2.7 1.8,3.4 2,2.6 1.8,1.8 0.9,2.8 0.4,3.1M625.7,337.4l-0.6,3.1 -1.5,2.4 -2.6,2.2 -2.5,0.6 -2.7,-0.4M548.0,343.6l-1,2.3 -2,3 -2,2.6 -1.2,3.7 -2.8,2.2M666.8,326.7l3.2,2.3 1.8,2.6 3.2,2 3.5,0.3M628.2,337.0l3.6,1.1 2.9,1.6 1.3,2.4 0.5,2.7 0.2,2.8M626.4,324.9l3.3,1 2.8,0 2.1,1.4 3.3,1.9M536.5,317.6l-0.8,2.4 0.3,2.8 -0.1,3.3 -1,3.3 0.7,3.1M661.8,346.7l2.4,-2.1 2.4,-1 2.8,-2.6 1.2,-2.8M611.0,329.4l2.8,2.2 1.3,2.5 1.5,2.1 1.1,2.8 1.6,2 2.4,1.5M570.6,335.8l1.6,2.5 2,2.7 3.1,1.6 3.5,0.8M712.1,323.3l-3.1,2.2 -3.2,0.8 -3.2,2M647.8,328.9l2.8,-2 2.8,-1.4 2.4,-1.6 3.8,-0.6M643.7,334.4l2.4,-0.9 2.8,0.1 2.7,-0.3 2.5,-1.2 2.7,-2.2M585.9,325.9l3.4,-1 3.5,0.8 3.2,2.4 1.9,3.3M562.8,325.4l1.9,-3 0.2,-2.6 -0.6,-3.5 1.1,-2.5M691.3,334.2l2.5,0.4 2.6,0.6 2.7,1.1 3.3,0.2M714.5,331.9l-1.2,2.4 -0.9,3.5 -0.7,2.8M535.6,336.7l3.7,-0.5 3.3,0 2.7,0.3 3.1,1.7 3.1,1.5M691.9,332.5l2.1,-2.4 1.2,-2.3 -0.3,-3M576.5,324.9l1.7,3.6 0.5,3.8 1.6,2.3 0.3,3.6 1.4,2.4 2.4,1.5M677.0,334.0l2.7,-1.3 3.9,0.2 2.8,-0.8 3.2,-1.3 2.1,-2.8M659.7,322.6l2.1,-2 2,-2.8 0.9,-2.3 -0.4,-2.8M699.6,340.9l1.1,2.9 1.2,3 -0.3,3 -1.1,2.7 -1.3,2.6M718.1,319.4l-1.4,3.1 -1,2.4 -0.8,2.8 -0.8,3.9M614.9,342.7l-0.3,3.5 -0.9,3.5 0.3,3.7M568.8,336.2l-1.2,2.7 -0.2,3.3 -0.8,3M548.2,347.8l-1.9,2.2 -2.5,1.6 -2.3,2.1M573.4,332.0l3,-1.6 2,-2.9 1.2,-2.6M692.7,323.5l0.6,3.6 1.7,2 2.5,1.5M648.9,328.6l3.2,-2 2.1,-2 3.5,-1.4 2.5,-0.5 2.5,0.3 3.3,0.8M711.4,323.5l2.9,0.1 3.8,-0.3 2.6,1.1M614.1,338.4l2.7,-1.3 2,-3.2 2,-2.2 3.1,-1.6M629.0,347.2l-0.3,3.4 -1,3.1 0.4,4 0.8,2.6M675.6,335.1l3.5,1.1 2.7,2.2 1.8,3.5 2.5,1.7 3.8,0.8M567.0,334.4l1.3,2.4 2.2,3 1.5,2.2 3.3,1.8 3.6,0.3M719.5,323.7l1.3,2.2 0.7,2.8 0.4,3.2 1.1,3.4M649.9,345.9l2,3.1 2.1,2 1.6,2.3 1.6,2.5 0.3,2.7 1.3,2.7M548.7,344.2l3.5,-0.5 2.6,1.1 3.5,-0.1 3.3,1.5M585.4,339.5l-3.4,0.7 -2.4,1.8 -2.5,1.5 -3.2,1.9M507.5,330.1l2.2,-1.3 1.8,-1.7 1.7,-3M714.0,326.7l-0.3,2.6 -1.1,2.9 -1.3,2.9 -2.7,2 -1.7,1.7M599.5,331.8l2.8,1.5 2.6,-0.2 3.5,-1.8 2.6,-1 3.6,0.9M562.9,341.7l1.8,2.1 3.3,2.1 2,1.4M659.6,330.6l1.5,3.1 0.8,3.4 2.5,2.5 2.4,0.9M595.3,326.4l-1.6,3.1 -1.7,3.3 -3.2,2.1 -1.4,2.5 -0.5,3.4 -1.1,3.8M600.8,337.3l3,-0.6 3,0.7 2.6,0.3 3.8,-0 3.8,-1M608.5,332.9l3,1.3 2.9,0.9 3.1,1 3.1,1.1 2.9,2.5 2.4,0.9M518.9,324.7l2.9,0.1 3.9,-0.5 2.7,-0.3 3.5,1.2 3,2.1M666.8,339.2l2.4,3.1 1.2,3.7 -0,3 1.1,2.2 1,3.7 1.7,3.4M590.0,337.1l1.2,-2.5 -0.1,-2.9 0.5,-3 2.3,-2.7 0.9,-3.3M716.0,336.9l2.1,2.4 3.2,1 1.7,2.1 2.2,1.9M672.3,341.3l3,0.5 3.3,-0.4 2.6,-1.7 3.2,-1.2 3.3,-0.5 3.6,1.2M515.0,337.1l0.9,2.9 2.5,2.5 1.3,3.6M602.2,343.4l1.2,-2.4 2,-2.9 3.4,-1.4 2.6,-1.9 3,-2.2M540.5,342.6l2.1,-1.9 2.4,-1.6 1.5,-2.9 1.9,-3.5 2.9,-2.3M722.1,322.4l0.9,3.2 0.4,3.2 -0.6,3.2 0.7,2.5M715.9,341.8l3.2,-1.2 3,0 2.5,-0.9 2.4,-2.9 1.9,-1.7 2.3,-2.4M574.3,333.0l3.3,1.7 3.4,-0.2 2.3,-1.2M642.0,326.3l0.8,3.4 1,3.5 0.2,2.7M684.9,340.1l2.4,1.3 2.7,-0.1 2.6,1.4 2.9,1.4 2.6,1.4 1.9,2.2M599.2,318.3l1.2,3.1 1.5,3.6 2.3,2.6 1.7,2.7M542.4,340.4l3,-0.8 2.6,0.7 3.5,-1.3M602.8,340.7l3,-0.1 3.4,1 3.2,0.1 3.2,-0.4M714.0,319.0l2.2,3.3 3,2.2 2.9,0.5M519.1,335.2l2.3,1.8 2.8,1.3 2,2.8M518.2,324.6l-0.5,2.9 0.3,2.9 -1.3,3.1M691.1,342.6l2.4,0.6 3.7,1.2 3.8,0.2 2.5,0.9 3.3,1.8 2.7,1.3M701.5,341.1l-0.6,3.5 1,3 1.7,2.2M511.9,318.9l-2.7,0.7 -2.8,1.4 -2.2,3.3 -2.4,1.9 -2.9,1.2 -2.7,-0.3M668.1,336.0l1.4,3 2.7,1.8 2.2,1.4M606.3,317.5l2.1,1.3 2,2.8 0.2,3.4 -1.4,3.4 -2.7,1.8M698.7,340.0l-0.7,2.6 -0.5,3.1 -0.2,3 -1.4,2.1M611.5,332.9l-2.2,1.5 -3.6,0.7 -3.8,-0.4M508.3,338.7l2.8,-0.2 3.5,-0.7 2.6,0.6M662.2,327.4l1.8,-2 0.6,-3.2 0.2,-3M571.6,322.8l1.6,2.2 2.8,2.5 1.2,2.5M537.4,347.0l2.2,3.1 2.3,1.5 1.7,1.9M699.0,343.9l0.4,-3.3 -1.2,-2.9 -0.2,-2.9 1,-2.7M689.0,325.2l-0.6,3.5 0.4,2.8 0.5,2.8 0.3,2.6 -0.4,3.1 1.1,2.5M691.5,342.7l-0.2,3.2 0.1,2.7 1,3.5M673.8,344.4l-3.7,1.1 -3.3,0.7 -3.3,0.5M560.9,318.4l-1.9,2.1 -1.5,2.2 -2.6,1.6 -2.8,1.1M653.0,324.5l-0.2,3.4 -0.4,3.5 -0.6,3.3 0.4,2.6 0.8,3.8M567.5,328.5l2.7,0.3 3.3,0.3 2.7,-0.3 2.6,-0.4M636.2,339.3l3.4,0.6 3.4,0.7 2.5,0.8 3.2,1.7 3.6,1.6 2.5,1M569.7,317.8l2.5,-0.8 2.5,0.2 3,2.4 2.8,2M722.6,343.5l-1.6,1.9 -2.1,2.3 -1.5,3.7 -1.7,2.5 -2,2.7 -2.6,1.3M567.4,321.9l1.6,3.1 1.3,3.7 2.2,2.5 1.7,3.2 1.9,2.5M614.8,347.8l3.1,-0.6 3.1,-2.2 2.2,-1.8 1.3,-2.5 0.8,-2.6 1.2,-3.6M635.4,319.8l2.1,2.9 1.8,3.1 -0.2,3M605.3,332.8l-0.7,2.6 0.7,2.4 -0.7,3.6M643.7,324.8l0.5,2.5 -1,2.7 -1,3.5 -0.1,3.1 1.7,3.4 0.1,2.8M503.5,331.9l-1.9,1.7 -1.9,2.6 -2.6,2.1 -2.4,1.9 -3,1.3M675.6,332.4l2.6,-2.5 2.6,-1.3 3.4,-1.5 3.1,-1 2,-1.7 1.6,-2.9M631.0,344.1l0.2,2.6 -1.4,2.8 -0.3,3.7 -0.9,3.6 -0.9,2.8M557.0,318.3l-0,2.5 -0.1,3.6 0.3,3.9 -0.1,3.5M656.5,347.7l2.8,0.1 2.6,0.8 3,0.5 3,-0.1 2.8,-1.3 2.3,-3M561.9,322.5l-1.1,3.7 -2.2,2.2 -2.1,1.6 -2,2.2 -2,1.5 -2.4,1M689.0,336.6l2.3,2.5 2.3,1.8 2.9,2M650.6,333.4l1.9,2.7 1,3.3 0.9,2.6 0.6,3.1 -0.1,2.6M633.2,341.7l-2.3,1.6 -2.6,1.7 -2.2,1.4 -2.3,2.8 -0.9,3 -2.7,2.2M569.5,331.3l2.4,2.6 2,1.9 2.7,1.4 2.4,2.3M717.0,345.7l3.9,-0.8 2.3,-2.2 3.2,-1.1M604.4,318.6l2.9,-1.3 1.7,-2.1 2.2,-2.5M604.9,347.0l-1.1,3.8 0.7,3.4 0.3,3.6M591.1,329.4l2.5,-0.9 2.8,0.4 3.2,0.9M614.2,341.1l2.6,-1.7 2.5,-0.1 3.2,0.4 3.6,1.5 2.4,1.4 2.5,2M647.3,321.4l2.1,-1.7 2,-2.9 3.5,-1.4" fill="none" stroke="#200808" stroke-opacity="0.28" stroke-width="3.0" stroke-linecap="round" stroke-linejoin="round"/>
</g>
</g>
<path d="M538.3,499.3 C540,476 580,464.1 623.8,464.1 C667,464.1 707,476 709.4,499.3 Z" fill="url(#inuc)"/>
<text x="585" y="490.9" font-size="22" font-family='"Liberation Sans", sans-serif' fill="#fff" >Nucleus</text>
<text x="509.5" y="443.3" font-size="22.2" font-family='"Liberation Sans", sans-serif' fill="#000" >Cytoplasm</text>
<circle cx="623.3" cy="224.5" r="67" fill="none" stroke="#333" stroke-width="1.3" stroke-dasharray="6 4.5"/>
<circle cx="623.2" cy="260" r="67" fill="url(#sph)" stroke="#888" stroke-width="1"/>
<path d="M566,225.5 C566,225 560,270 623,291.2 C686,270 680,226 680,225" fill="none" stroke="#333" stroke-width="1.3" stroke-dasharray="6 4.5" opacity="0"/>
<path d="M557,236 A67,67 0 0 0 689.6,236" fill="none" stroke="#333" stroke-width="1.3" stroke-dasharray="6 4.5"/>
<line x1="623" y1="161" x2="623" y2="372" stroke="#000" stroke-width="1.7" stroke-dasharray="18 5 6 5"/>
<line x1="624" y1="268" x2="664" y2="229.5" stroke="#000" stroke-width="2"/>
<path d="M670.5,224 L667.07,233.46 L660.87,226.93 Z" fill="#000"/>
<text x="636.5" y="244" font-size="10" font-family='"Liberation Sans", sans-serif' fill="#000" >R</text>
<line x1="517" y1="325.8" x2="603.7" y2="325.8" stroke="#000" stroke-width="1.6" />
<line x1="520.2" y1="318" x2="520.2" y2="323.5" stroke="#000" stroke-width="1.6" />
<path d="M520.2,314.1 L523,319.1 L517.4,319.1 Z" fill="#000"/>
<path d="M520.2,325.8 L517.4,320.8 L523,320.8 Z" fill="#000"/>
<text x="513" y="347.3" font-size="18" font-family='"Liberation Sans", sans-serif'>h(t<tspan font-size="11" dy="4">i</tspan><tspan dy="-4">)</tspan></text>
<line x1="628" y1="362.8" x2="652" y2="362.8" stroke="#000" stroke-width="1.6" />
<path d="M623.9,362.8 L629.9,359.6 L629.9,366 Z" fill="#000"/>
<path d="M657.1,362.8 L651.1,366 L651.1,359.6 Z" fill="#000"/>
<line x1="657.7" y1="342.3" x2="657.7" y2="371.5" stroke="#000" stroke-width="1.8" />
<text x="625" y="390.6" font-size="18" font-family='"Liberation Serif", serif' font-style="italic">ℓ<tspan font-family='"Liberation Sans", sans-serif' font-style="normal">(t<tspan font-size="11" dy="4">i</tspan><tspan dy="-4">)</tspan></tspan></text>
<text x="508.5" y="182.3" font-size="17.5" font-family='"Liberation Sans", sans-serif'>t = t<tspan font-size="11" dy="5">0</tspan></text>
<text x="508.5" y="281" font-size="17.5" font-family='"Liberation Sans", sans-serif'>t = t<tspan font-size="11" dy="5">i</tspan></text>
<rect x="501.6" y="157" width="228" height="342.2" fill="none" stroke="#000" stroke-width="2" />
<line x1="1044.6" y1="10.9" x2="1044.6" y2="259.6" stroke="#e6e6e6" stroke-width="7.5" />
<line x1="1218.2" y1="10.9" x2="1218.2" y2="259.6" stroke="#e6e6e6" stroke-width="7.5" />
<line x1="1391.8" y1="10.9" x2="1391.8" y2="259.6" stroke="#e6e6e6" stroke-width="7.5" />
<line x1="871" y1="176.7" x2="1434.8" y2="176.7" stroke="#e6e6e6" stroke-width="7.5" />
<line x1="871" y1="93.8" x2="1434.8" y2="93.8" stroke="#e6e6e6" stroke-width="7.5" />
<path d="M871.0,10.9 H1434.8 V259.6 H871.0 Z" fill="none" stroke="#262626" stroke-width="7.2" stroke-linejoin="miter"/>
<line x1="1044.6" y1="259.6" x2="1044.6" y2="245.1" stroke="#262626" stroke-width="7.5" />
<line x1="1044.6" y1="10.9" x2="1044.6" y2="25.4" stroke="#262626" stroke-width="7.5" />
<line x1="1218.2" y1="259.6" x2="1218.2" y2="245.1" stroke="#262626" stroke-width="7.5" />
<line x1="1218.2" y1="10.9" x2="1218.2" y2="25.4" stroke="#262626" stroke-width="7.5" />
<line x1="1391.8" y1="259.6" x2="1391.8" y2="245.1" stroke="#262626" stroke-width="7.5" />
<line x1="1391.8" y1="10.9" x2="1391.8" y2="25.4" stroke="#262626" stroke-width="7.5" />
<line x1="871" y1="176.7" x2="885.5" y2="176.7" stroke="#262626" stroke-width="7.5" />
<line x1="1434.8" y1="176.7" x2="1420.3" y2="176.7" stroke="#262626" stroke-width="7.5" />
<line x1="871" y1="93.8" x2="885.5" y2="93.8" stroke="#262626" stroke-width="7.5" />
<line x1="1434.8" y1="93.8" x2="1420.3" y2="93.8" stroke="#262626" stroke-width="7.5" />
<path d="M872.16,264.08 L873.22,263.11 L874.16,262.1 L875.27,262.02 L876.19,264.27 L878.16,263.23 L880.2,262.88 L882.23,262.98 L884.2,262.82 L886.3,262.98 L888.33,263.64 L890.29,263.21 L892.31,263.04 L894.32,263.39 L896.2,261.88 L898.22,262.54 L900.25,262.2 L902.28,262.02 L904.21,262.69 L906.27,261.34 L908.33,262.16 L910.29,263.07 L912.26,262.03 L914.34,262.62 L916.38,261.82 L918.31,262.55 L920.47,261.5 L922.56,261.67 L924.48,260.54 L926.81,261.67 L928.68,261.52 L930.66,259.28 L932.76,260.41 L934.82,259.85 L937.07,259.35 L938.78,258.87 L940.82,259.75 L943.05,259.23 L944.86,258.67 L947.1,257.94 L949.16,257.54 L950.99,257.36 L952.86,256.38 L954.97,257.37 L957.17,256 L959.21,254.8 L961.07,254.8 L963.11,255.3 L964.9,255.39 L966.84,255.05 L968.92,255.22 L970.85,253.62 L972.89,253.04 L975.1,253.06 L976.94,254.28 L978.79,252.04 L981.05,252.76 L982.89,251.73 L985.12,252.84 L986.81,250.53 L989.07,252.1 L991.07,250.74 L992.81,250.17 L995.12,250.32 L997.09,248.97 L998.83,250.74 L1001.15,249.34 L1002.88,249.8 L1004.93,250.04 L1006.89,248.57 L1008.81,247.16 L1011.02,247.9 L1013.14,248.84 L1014.88,247.7 L1017.06,247.51 L1018.92,246.22 L1021.17,246.4 L1023.16,245.96 L1024.93,246.75 L1026.95,245.73 L1028.93,244.17 L1031.07,243.98 L1032.99,245.37 L1034.96,244.35 L1037.3,243.23 L1039.27,243.23 L1041.34,242.82 L1043.36,241.84 L1045.32,243.54 L1047.27,241.46 L1049.28,242.25 L1051.39,242.22 L1053.35,241.02 L1055.09,239.65 L1057.23,239.37 L1059.03,239.48 L1061.16,239.95 L1063.21,239.32 L1065.28,239.5 L1067.19,237.95 L1069.38,239.22 L1071.01,236.86 L1073.06,238.14 L1075.29,237.97 L1077.31,237.01 L1079.41,236.59 L1081.09,236.22 L1083.29,236.21 L1085.07,235.88 L1087.35,235.28 L1089.42,233.76 L1091.29,234.72 L1093.47,233.6 L1095.17,233.07 L1097.64,232.16 L1099.27,232.12 L1101.25,231.4 L1103.66,231.88 L1105.5,231.21 L1107.52,230.99 L1110.04,230.1 L1111.9,229.58 L1113.4,229.55 L1115.66,229.34 L1117.34,227.7 L1119.55,226.8 L1121.46,226.44 L1123.66,226.41 L1125.34,224.74 L1127.44,225.73 L1129.67,224.19 L1131.46,224.83 L1133.33,223.21 L1135.13,222.39 L1137.22,222.53 L1139.1,222 L1141.14,220.66 L1143.29,220.97 L1145.15,220.01 L1147.02,220.07 L1149.04,218.62 L1150.77,218.67 L1152.81,216.45 L1154.78,216.79 L1156.42,215.79 L1158.29,216.69 L1160.53,215.93 L1162.61,215.56 L1164.25,214.43 L1166.62,213.35 L1168.47,213.99 L1170.37,212.23 L1172.43,211.39 L1174.5,211.43 L1176.22,210.46 L1177.88,210.97 L1179.91,210.42 L1181.79,209.12 L1183.82,207.77 L1185.8,207.15 L1188.27,207.9 L1189.65,207.49 L1191.86,206.17 L1194.05,205.76 L1195.92,204.85 L1198.05,203.59 L1199.47,203.75 L1201.44,204.28 L1203.73,201.69 L1205.02,201.92 L1207.5,202.51 L1209.41,199.93 L1210.78,199.29 L1213.13,200.55 L1215,200.22 L1216.5,199.54 L1218.81,198.07 L1220.54,197.12 L1222.5,197.09 L1224.68,196.67 L1226.24,196.38 L1228.14,193.81 L1230.38,195.11 L1232.42,192.43 L1234.78,191.43 L1236.69,190.77 L1238.59,190.45 L1240.63,190.78 L1241.99,189.26 L1244.39,189.29 L1246.13,187.33 L1248.18,187.03 L1250.05,185.29 L1251.61,184.02 L1253,184.74 L1255.13,182.88 L1257.2,182.41 L1258.89,181.13 L1260.91,181.56 L1263.12,180.74 L1264.31,179.01 L1266.82,178.56 L1268.9,177.56 L1270.88,176.41 L1272.5,175.55 L1274.11,174.95 L1276.14,172.99 L1278.1,172.55 L1280.21,171.78 L1281.06,170.16 L1283.19,170.18 L1285.7,168.16 L1287.48,167.89 L1289.27,165.74 L1290.71,165.24 L1292.57,164.78 L1294.25,163.05 L1295.77,161.08 L1297.73,161.57 L1299.06,160.13 L1301.09,159.92 L1302.17,157.55 L1304.19,157.9 L1306.46,156.37 L1307.45,155.75 L1309.79,154.69 L1310.97,153.38 L1312.73,151.39 L1314.33,150.47 L1315.96,150.28 L1318.66,147.95 L1320,147.19 L1321.77,146.16 L1322.65,144.29 L1324.27,143.37 L1326.49,143.12 L1328.46,142.47 L1329.74,141.2 L1331.68,139.01 L1332.94,137.56 L1335.41,137.4 L1336.42,136 L1338.78,133.75 L1339.72,134.13 L1341.42,132.93 L1343.18,131.78 L1345.2,129.52 L1347.17,128.98 L1347.83,127.59 L1350.27,125.81 L1351.33,124.45 L1353.25,124.92 L1354.28,122.68 L1356.11,121.11 L1357.89,120.67 L1360.07,119.32 L1361.73,118.3 L1362.85,116.77 L1364.23,115.07 L1366.69,114.4 L1367.56,113.14 L1368.88,110.83 L1370.58,109.94 L1372.53,109.38 L1374.07,107.26 L1376.17,105.82 L1376.86,105.07 L1378.31,103.48 L1380.79,102.41 L1382.17,101.3 L1384.16,100.64 L1385.83,98.94 L1386.87,97.98 L1388.99,96.85 L1389.97,94.73 L1391.59,93.61 L1393.04,92.64 L1394.88,91.65 L1396.54,90.65 L1398.04,88.4 L1399.9,87.25 L1400.64,87.25 L1402.28,85.15 L1403.67,84.32 L1404.84,83.59 L1406.96,81.6 L1408.34,81.04 L1408.57,80.43 L1408.79,79.98 L1409.68,78.3 L1401.47,68.34 L1401.45,69.55 L1400.59,69.38 L1399.26,69.15 L1397.78,70.66 L1396.16,71.58 L1394.78,72.91 L1394.25,74.18 L1392.62,74.97 L1390.03,76.23 L1388.36,78.81 L1388.13,79.76 L1385.79,80.02 L1384.89,82.16 L1383.08,83.12 L1381.6,84.56 L1379.53,86.53 L1377.99,87.16 L1376.21,87.99 L1374.4,89.28 L1372.68,91.01 L1371.52,92.42 L1370.38,92.45 L1369.02,95.36 L1367.74,95.35 L1365.92,96.53 L1363.95,99.18 L1362.15,98.65 L1361.17,100.58 L1358.77,102.16 L1357.53,103.74 L1356.85,104.34 L1354.93,106.32 L1352.67,106.03 L1352.15,108.29 L1350.38,108.37 L1348.52,110.31 L1347,111.02 L1345,112.36 L1343.81,113.62 L1342.05,114.5 L1340.17,115.56 L1337.84,116.31 L1336.8,119.36 L1335.06,120.12 L1332.79,121.14 L1332.23,121.85 L1329.67,123.83 L1328.79,124.21 L1326.61,126.2 L1325.23,125.98 L1323.31,128.47 L1321.24,129.66 L1320.17,129.98 L1318.15,132.01 L1317.02,131.43 L1314.74,133.96 L1313.11,134.08 L1311.74,135.62 L1310.44,136.17 L1308.69,138.14 L1307.76,139.41 L1305.54,140.55 L1303.95,140.27 L1301.64,142.06 L1299.86,142.51 L1298.55,144.16 L1297.33,144.65 L1295.18,145.79 L1293.58,146.73 L1291.72,147.95 L1289.45,148.98 L1288.78,150.51 L1286.97,151.56 L1284.76,153.13 L1283.16,153.41 L1281.8,153.74 L1279.43,154.64 L1277.77,156.23 L1276.19,156.58 L1274.23,157.87 L1273.36,158.5 L1271.77,161.08 L1270.02,161.6 L1268.35,162.84 L1265.69,163.53 L1264.71,164.47 L1262.69,164.61 L1260.52,165.67 L1258.82,165.14 L1256.6,166.4 L1254.73,166.88 L1253.71,167.71 L1251.76,168.7 L1249.72,169.91 L1247.52,171.71 L1245.96,171.98 L1244.28,173.28 L1242.03,172.97 L1239.71,174.21 L1238.24,176.4 L1236.63,176.74 L1234.82,177.38 L1233.19,177.35 L1231.47,179.02 L1229.22,180.41 L1227.53,179.74 L1226.01,180.81 L1223.57,181.61 L1221.73,181.37 L1220.37,181.69 L1218.16,182.82 L1216.62,183.11 L1214.47,185.59 L1212.51,185.54 L1210.56,186.4 L1208.63,186.67 L1206.73,186.47 L1205.09,188.51 L1203.35,189.25 L1201.36,188.94 L1199.44,189.08 L1197.08,190.86 L1195.3,189.72 L1193.23,190.47 L1191.48,190.95 L1189.6,193.14 L1187.99,193.69 L1186.14,193.88 L1184.06,193.45 L1181.9,194.06 L1180.06,194.45 L1178.22,196.82 L1176.14,196.89 L1174.44,196.4 L1172.37,198.37 L1170.17,197.55 L1168.4,199.39 L1166.57,198.56 L1164.88,198.79 L1162.8,199.19 L1160.88,200.13 L1158.86,201.1 L1156.97,201.54 L1154.79,202.74 L1152.6,203.52 L1150.77,203.29 L1148.93,203.05 L1147.01,204.97 L1145.02,206.24 L1143,206.55 L1141.16,206.86 L1138.86,206.28 L1137.04,207.17 L1135.07,207.73 L1132.93,208.09 L1131.31,208.42 L1129.39,210.99 L1127.48,211.2 L1125.16,211.24 L1123.22,211.6 L1121.83,212.73 L1119.54,212.47 L1117.72,213.63 L1115.62,215.14 L1113.63,215.02 L1111.55,214.09 L1110.04,215.21 L1107.91,216.86 L1105.92,216.13 L1103.85,216.78 L1102.29,217.82 L1100.07,219.2 L1098.4,220.12 L1096.6,218.87 L1094.51,220.1 L1092.83,219.33 L1090.6,220.84 L1088.8,220.05 L1086.66,220.62 L1084.88,220.83 L1082.98,221.04 L1080.85,222.52 L1078.67,223.99 L1076.93,223.9 L1074.63,222.75 L1072.85,223.59 L1070.63,224.89 L1068.79,223.93 L1066.89,224.85 L1064.83,225.43 L1062.91,225.96 L1060.73,226.47 L1058.92,227.87 L1056.66,227.32 L1054.87,228.31 L1052.74,228.03 L1050.85,228.59 L1048.79,228.49 L1046.92,230 L1044.84,230.15 L1042.66,229.14 L1040.9,229.15 L1038.68,231.31 L1037.03,230.79 L1034.77,230.04 L1032.79,232.53 L1030.93,231.02 L1029.11,231.9 L1027.07,233.58 L1024.96,232.67 L1022.86,233.69 L1021.08,233.96 L1018.95,233.54 L1017.16,234.73 L1015.1,234.44 L1012.83,234.76 L1010.84,236.11 L1009.09,236.56 L1006.84,236.33 L1005.17,235.82 L1002.87,236.99 L1001.17,235.86 L999.17,237.95 L997.2,238.11 L994.97,238.79 L993.12,237.47 L990.89,238.32 L989.01,239.46 L987.1,238.86 L985.2,238.59 L983.18,239.67 L980.91,239.87 L978.92,240.76 L976.9,241.45 L975.15,240.57 L972.92,240.99 L970.98,240.96 L968.85,241.43 L966.86,243.59 L965.08,242.8 L963.01,243.88 L961.02,243.92 L958.8,242.84 L956.81,243.29 L955.05,245.96 L953.02,244.19 L950.74,244.76 L949.04,245.76 L947.09,246.15 L945.1,245.8 L943.14,246.86 L941.21,248.91 L939,248.88 L937.05,249.35 L935.1,249.1 L933.18,250 L931.14,250.9 L929.05,250.86 L927.17,251.61 L925.21,250.2 L923.48,251.06 L921.42,251.64 L919.56,252.16 L917.58,252.74 L915.66,252.4 L913.65,251.83 L911.64,253.76 L909.7,252.86 L907.66,253.58 L905.72,251.96 L903.65,253.07 L901.73,254.6 L899.73,252.98 L897.7,253.41 L895.69,254.21 L893.74,253.97 L891.77,254.16 L889.68,254.73 L887.81,255.12 L885.73,255.65 L883.79,256.23 L881.8,255.9 L879.83,256.1 L877.7,255.9 L875.71,256.92 L874.78,255.38 L873.72,256.19 L872.76,255.45 L871.74,256.84Z" fill="#0000ff"/>
<path d="M872.4,264.06 L873.37,263.33 L874.3,262.86 L875.26,262.13 L876.41,262.56 L878.15,260.77 L880.25,263.38 L882.21,260.47 L884.3,263.43 L886.41,262.65 L888.37,262.48 L890.43,260.34 L892.29,261.37 L894.31,262.19 L896.43,260.86 L898.38,260.8 L900.37,259.64 L902.44,259.95 L904.33,260.47 L906.27,259.34 L908.37,258.77 L910.45,259 L912.38,259.12 L914.23,259.77 L916.27,260.77 L918.24,258.95 L920.28,260.66 L922.28,258.24 L924.37,259.42 L926.74,257.48 L928.62,259.11 L930.38,257.92 L932.84,258.62 L934.65,256.65 L936.47,257.07 L938.72,256.61 L940.91,255.9 L942.44,256.56 L944.45,255.02 L946.7,257.33 L948.57,255.34 L950.77,256.18 L952.67,255.03 L954.67,253.43 L956.52,253.37 L958.74,253.97 L960.59,255.08 L962.71,253.55 L964.71,253.31 L966.91,252.52 L968.82,251.99 L970.52,252.95 L973,252.62 L974.86,251.69 L976.73,250.68 L978.8,251.73 L981.12,250.36 L982.99,248.82 L985.53,250.88 L987.65,249.75 L989.47,248.17 L991.7,247.61 L994.12,248.08 L995.69,245.72 L998.15,246.09 L999.59,246.73 L1001.32,243.35 L1003.92,242.86 L1005.96,243.93 L1007.42,242.89 L1009.42,242.2 L1012.24,241.42 L1014.35,241.78 L1015.78,238.88 L1017.49,239.73 L1020,240.39 L1022.21,237.91 L1023.95,238.85 L1025.51,237.66 L1027.03,236.41 L1029.61,236.85 L1031.61,235.58 L1032.88,235.58 L1035.47,234.26 L1036.76,233.7 L1039.12,232.63 L1040.54,230.59 L1043.06,232.24 L1044.65,230.13 L1046.3,230.97 L1048.95,229.28 L1050.95,227.84 L1052.46,227.69 L1054.91,227.27 L1056.3,228.15 L1058.28,226.5 L1060.58,225.14 L1062.33,224.74 L1064.25,224.07 L1066.36,224.12 L1067.92,222.25 L1069.47,223.33 L1071.62,220.42 L1073.67,220.38 L1075.58,220.74 L1077.12,218.85 L1079.33,218.52 L1081.73,218.67 L1083.12,218.73 L1085.42,218.25 L1087.53,217.53 L1088.81,215.91 L1090.83,213.88 L1092.84,215.36 L1094.39,212.07 L1097.29,213.89 L1098.83,211.2 L1100.49,211.61 L1103.27,209.2 L1104.38,209.34 L1106.34,207.97 L1108.48,208.63 L1111.11,206.76 L1112.57,207.06 L1114.58,204.88 L1116.28,204.64 L1118.34,203.67 L1120.79,203.51 L1122.02,200.35 L1123.35,202.02 L1125.16,199.33 L1127.09,198.57 L1129.78,196.95 L1130.79,198.38 L1133.4,195.32 L1134.78,196.67 L1137.35,195.67 L1138.44,192.62 L1140.18,192.06 L1143.12,193.22 L1145.02,190.27 L1146.46,189.61 L1148.03,189.45 L1150.34,189.07 L1152.1,189.56 L1153.83,187.86 L1155.07,185.75 L1157.46,186.62 L1158.64,185.96 L1161.19,183.04 L1163.11,183.78 L1165.41,184.08 L1166.35,183.11 L1169.07,181.61 L1170.73,180.52 L1172.58,179.23 L1174.01,179.27 L1176.61,177.52 L1178.32,177.5 L1179.81,176.18 L1181.37,176.06 L1183.27,175.67 L1185.76,175.02 L1187.29,172.88 L1188.81,173.98 L1191.13,171.35 L1193.2,170.96 L1195.3,169.25 L1196.91,168.17 L1199.16,168.51 L1200.31,167.07 L1202.22,167.35 L1204.77,165.95 L1205.71,165.47 L1208.02,163.93 L1209.98,162.89 L1211.9,163.27 L1213.94,160.19 L1215.56,159.45 L1217.78,159.94 L1218.83,157.46 L1220.56,157.44 L1223.12,158.34 L1224.17,156.67 L1226.33,155.76 L1228.24,153.96 L1229.73,154.35 L1232.32,153.52 L1234.62,150.4 L1235.08,151.37 L1238.12,148.78 L1239.33,148.87 L1240.59,148.49 L1243.29,146.75 L1244.48,147.28 L1247.23,144.46 L1248.07,143.8 L1250.25,143.18 L1252.08,143.01 L1253.31,141.84 L1256.33,141.37 L1257.36,141.57 L1258.77,139.67 L1260.37,139.11 L1262.96,136.93 L1264.55,136.1 L1267.11,136.8 L1267.98,135.97 L1270.16,134.65 L1271.67,134.23 L1273.74,132.45 L1275.83,131.24 L1277.62,131.03 L1279.21,130.06 L1281.54,128.51 L1282.95,127.55 L1283.96,127.53 L1286.27,127.58 L1288.66,125.5 L1290.28,125.55 L1291.53,122.22 L1294.11,122.26 L1294.81,122.73 L1297.22,120.61 L1298.29,118.64 L1300.99,117.85 L1303.05,119.6 L1304.39,116.58 L1305.8,117.43 L1307.83,114.97 L1309.31,115.71 L1311.11,114.73 L1313.48,112.18 L1315.3,110.98 L1316.99,110.03 L1319.78,110.83 L1320.38,107.99 L1322.15,108.45 L1324.53,107.47 L1326.21,105.59 L1329.22,103.36 L1330.04,104.24 L1331.77,100.79 L1334.03,100.21 L1334.62,99.43 L1336.76,97.72 L1339.03,96.48 L1340.43,97.05 L1341.22,96.23 L1342.81,94.71 L1346.08,94.05 L1347.73,92.34 L1347.68,89.34 L1350.9,90.14 L1352.8,88.81 L1352.79,87.54 L1355.86,87.12 L1356.31,84.43 L1358.76,82.7 L1361.05,81.79 L1361.7,81.01 L1364.76,79.41 L1365.54,77.66 L1366.58,77.39 L1369.75,74.75 L1371.69,72.87 L1371.71,72.63 L1374.03,70.26 L1375.3,68.97 L1376.51,67.44 L1377.78,66.31 L1378.97,65.74 L1380.49,62.38 L1382.52,60.55 L1384.88,59.47 L1384.58,58.98 L1385.03,58.08 L1386.96,57.42 L1387.73,57.7 L1371.95,43.49 L1372.43,43.46 L1372.04,44.06 L1371.42,45.32 L1370.97,44.79 L1368.49,46.45 L1367.66,48.75 L1364.27,48.95 L1364.05,51.74 L1362,51.96 L1361.48,54.55 L1359.05,55.95 L1357.31,56.21 L1355.43,57.43 L1355.21,59.07 L1353.52,60.55 L1350.87,61.12 L1349.54,62.33 L1349.14,63.48 L1347.84,66.07 L1345.27,65.94 L1344.4,66.27 L1343.16,67.55 L1340.41,70.66 L1339.66,71.38 L1338.66,71.41 L1336.11,72.65 L1335.29,74.28 L1332.89,76 L1331.46,75.7 L1330.7,79 L1327.94,78.28 L1327.07,80.08 L1325.79,82 L1324,82.55 L1322.54,82.94 L1319.48,85.09 L1319.22,87.27 L1316.29,86.5 L1315.38,89.58 L1314.66,88.6 L1312.78,91.49 L1310.38,93 L1308.95,91.77 L1308.01,92.94 L1306.07,94.48 L1303.78,95.03 L1302.28,96.94 L1300.13,97.99 L1299.03,97.79 L1297.15,98.27 L1295.31,100.79 L1293.15,100.35 L1292.15,101.73 L1290.8,102.61 L1287.74,103.66 L1286.81,105.62 L1284.63,104.68 L1283.06,107.36 L1280.97,106.7 L1279.57,107.68 L1277.2,109.28 L1275.65,110.2 L1273.65,111.29 L1272.13,111.01 L1270.58,111.37 L1268.08,114.71 L1266.95,113.39 L1265.23,114.16 L1263.44,115.9 L1261.97,116.68 L1259.15,118.07 L1257.87,120.47 L1256.66,119.32 L1254.56,121.06 L1252.01,121.48 L1251.45,123.22 L1248.7,123.29 L1247.32,124.81 L1245.62,125.92 L1243.92,125.29 L1241.78,128.67 L1240.93,128.58 L1238.3,130.46 L1236.09,130.42 L1234.29,132.38 L1232.42,131.05 L1230.9,133.86 L1229.47,133.5 L1227.03,134.11 L1226.18,134.67 L1223.59,136.53 L1222.55,136.18 L1219.95,138.08 L1218.77,138.02 L1217,141.25 L1215.65,140.97 L1213.21,141.72 L1211.47,144.04 L1209.33,143.22 L1207.78,144.75 L1205.68,146.01 L1204.72,145.37 L1202.72,148.36 L1199.83,148.79 L1199.18,149.05 L1197.22,151.14 L1194.5,150.98 L1192.54,150.93 L1190.95,151.88 L1189.46,152.79 L1188.29,154.55 L1185.58,157.12 L1183.95,157.03 L1182.86,157.95 L1180.24,158.82 L1178.4,158.5 L1176.64,160.65 L1175.2,161.17 L1173.83,161.46 L1171.65,162.63 L1169.4,162.4 L1168.01,163.68 L1165.51,165.39 L1163.96,166.45 L1162.4,166.38 L1160.18,167.57 L1158.61,168.32 L1157.09,167.15 L1155.22,170.44 L1152.59,169.08 L1150.88,170.94 L1149.16,171.22 L1147.95,172.3 L1145.79,172.69 L1143.57,174.77 L1141.75,174.13 L1139.86,176.47 L1138.33,175.88 L1135.6,177.71 L1134.16,178.33 L1132.64,180.48 L1130.72,180.65 L1127.9,181.52 L1126.51,183.81 L1125.03,183.56 L1122.14,184.04 L1121.42,186.45 L1118.69,187.8 L1117,186.16 L1115.96,186.89 L1113.62,189.53 L1111.65,188.84 L1110.12,190.23 L1107.3,192.47 L1106.39,192.35 L1103.95,195.12 L1103.16,195.99 L1100.63,196.32 L1099.31,197.16 L1097.64,198.4 L1095.82,198.86 L1093.18,199.42 L1091.46,200.03 L1090.12,200.98 L1088.44,199.89 L1085.68,202.44 L1084.11,203.12 L1082.12,202.01 L1080.23,203.43 L1078.13,204.9 L1076.82,204.66 L1074.49,207.16 L1073.26,206.55 L1070.54,208.34 L1068.69,207.28 L1067.27,210.27 L1065.47,210.4 L1063.7,209.33 L1061.79,212.22 L1059.66,211.06 L1057.45,214.04 L1055.77,212.61 L1053.61,215.47 L1052.36,214.42 L1050.23,215.9 L1048.88,216.04 L1046.81,217.24 L1044.38,216.69 L1042.99,217.47 L1040.75,220.33 L1038.86,219.05 L1036.95,219.23 L1035.33,219.51 L1033.19,222.34 L1031.54,221.34 L1029.04,223.85 L1026.99,222.45 L1026,222.94 L1023.38,223.8 L1021.2,225.22 L1020.06,225.93 L1017.61,226.5 L1015.72,227.74 L1014.01,228.62 L1011.95,227.88 L1010.02,230.83 L1007.93,230.76 L1005.95,231.92 L1003.74,231.13 L1002.27,232.55 L1000.43,234.16 L997.84,232.58 L996.62,235.03 L993.96,236.73 L992.37,235.68 L990.52,237.76 L987.87,236.74 L986.1,239.07 L984.29,239.03 L982.43,241.1 L981.04,239.14 L978.61,241.09 L977.12,241.03 L975.08,240.34 L973.26,241.84 L971.44,242.65 L969.44,243.46 L967,243.61 L965.24,242.23 L963.41,245.2 L961.22,245.69 L959.03,243.91 L957.37,244.54 L955.41,246.24 L953.17,246.52 L951.54,247.52 L949.19,247.18 L947.42,246.48 L945.08,245.56 L943.51,247.06 L941.5,249.24 L939.27,248.45 L937.32,249.68 L935.14,250.09 L933.26,249.85 L931.18,248.97 L929.27,249.2 L927.6,250.79 L925.66,251.08 L923.55,252.32 L921.42,252.24 L919.74,250.67 L917.71,251.1 L915.66,251.18 L913.56,252.9 L911.74,251.1 L909.6,253.92 L907.58,252.01 L905.67,251.56 L903.63,252.88 L901.55,252.71 L899.57,254.32 L897.76,254.36 L895.67,252.67 L893.73,253.01 L891.7,253.09 L889.63,253.97 L887.74,253.34 L885.64,253.79 L883.66,256.31 L881.76,256.67 L879.71,255.53 L877.73,256.52 L875.74,256.89 L874.66,254.7 L873.7,257.49 L872.68,257.14 L871.86,257.98Z" fill="#ff0000"/>
<path d="M872.56,261.75 L873.75,260.48 L874.59,260.73 L875.86,261.15 L876.78,261.93 L878.81,259.69 L880.65,259.27 L882.85,260.92 L884.71,260.4 L886.95,258.4 L889,258.85 L890.79,258.39 L892.84,259.27 L894.98,259.13 L896.99,258.72 L898.94,256.61 L900.77,255.9 L902.71,257.27 L904.85,256.83 L907.06,254.75 L909.25,256.53 L911.01,253.99 L913.02,254.33 L915,254.97 L917.53,253.37 L919.46,253.44 L921.68,252.79 L923.36,251.86 L925.59,250.74 L927.37,251.71 L929.76,250.91 L931.86,251.1 L933.91,251.18 L935.94,249.23 L937.9,249.41 L940.2,247.61 L941.99,247.57 L943.96,247.57 L946.08,246.83 L948.45,245.94 L950.49,246.06 L952.26,244.92 L954,244.58 L956.39,244.19 L958.34,243.48 L960.04,243.26 L961.71,243.94 L963.97,243.42 L966.14,242.62 L967.78,240.93 L969.95,240.27 L972.12,240.66 L974.09,239.85 L975.57,238.66 L977.73,239.56 L979.61,238.8 L981.68,236.69 L983.55,237.45 L986.04,235.04 L987.49,235.01 L989.79,234.84 L991.52,233.4 L994.23,234.42 L995.74,232.55 L997.95,232.02 L999.61,231.82 L1001.59,230.32 L1004.13,230.14 L1005.87,229.48 L1007.87,229.57 L1009.99,228.93 L1011.95,228.68 L1014.36,227.79 L1015.77,227.14 L1018.35,226.1 L1019.79,225.19 L1022.37,223.22 L1024.47,222.75 L1025.8,223.46 L1028.52,222.08 L1030.3,221.15 L1032.24,221.32 L1034.02,220.3 L1035.69,219.05 L1037.75,217.79 L1039.45,217.24 L1042,215.71 L1043.88,215.73 L1046.04,214.13 L1048.03,214.16 L1049.35,212.81 L1051.44,211.91 L1053.39,212.13 L1055.63,210.32 L1057.49,209.71 L1059.28,209.69 L1061.38,208.42 L1063.66,207.43 L1065.61,206.19 L1067.11,204.92 L1069.22,205.61 L1070.62,203.2 L1073.2,203.69 L1074.53,201.76 L1076.2,201.76 L1078.59,200.52 L1080.34,199.22 L1082.77,198.11 L1083.97,197.81 L1086.52,195.68 L1088.27,196.21 L1090.03,195.41 L1092.23,194.22 L1093.62,192.63 L1095.6,191.34 L1097.1,191.88 L1099.85,189.29 L1101.35,189.13 L1102.87,187.29 L1105.24,186.97 L1106.45,185.53 L1108.55,184.12 L1110.11,183.27 L1111.86,182.99 L1113.2,180.4 L1115,179.41 L1117.53,179.39 L1118.66,177.15 L1120.08,176.12 L1122.57,176.26 L1123.92,174.51 L1125.78,172.81 L1127.35,172.52 L1129.11,170.92 L1130.17,169.87 L1132.46,168.56 L1134.48,166.82 L1135.06,166.13 L1137.41,166.14 L1139.33,163.42 L1141.35,163.45 L1142.91,162.75 L1144.58,160.72 L1145.43,159.02 L1147.98,158.56 L1149.2,157.27 L1150.77,157.01 L1152.76,155.13 L1154.01,153.35 L1156.35,152.18 L1158.01,150.99 L1159.44,150.5 L1161.56,149.19 L1163.27,147.99 L1164.78,146.21 L1167.08,145.51 L1168.98,144.16 L1171.01,142.98 L1172.58,142.39 L1174.13,141.79 L1174.93,138.83 L1176.66,138.65 L1179.66,137.06 L1181.3,134.95 L1182.99,133.8 L1183.49,133.13 L1186.33,131.46 L1187.89,130.94 L1188.97,129.06 L1190.44,127.7 L1192.76,126.86 L1194.46,124.9 L1196.11,123.77 L1197.75,123.99 L1199.8,122.42 L1200.26,120.5 L1202.65,118.66 L1203.81,117.25 L1205.97,115.88 L1207.05,115.61 L1209.24,114.73 L1210.2,112.11 L1211.57,112.47 L1213.26,110.24 L1215.66,109.28 L1216.85,107.91 L1219.23,106.58 L1220.43,104.97 L1221.77,103.61 L1224.01,102.08 L1224.79,100.5 L1226.69,98.5 L1229.05,98.07 L1230.04,96.84 L1232.12,95.18 L1233.29,92.74 L1233.91,92.05 L1236.09,89.4 L1236.36,88.58 L1237.57,87.76 L1237.85,86.2 L1238.63,86.16 L1240.73,85.54 L1232.31,77.74 L1230.94,77.06 L1230.62,79.28 L1229.24,79.62 L1229.23,80.08 L1227.26,81.19 L1226.27,83.56 L1223.33,83.63 L1221.88,85.8 L1221.06,87.29 L1218.98,87.66 L1218.53,90.42 L1215.72,91.43 L1214.79,92.28 L1214.19,93.69 L1211.66,95.86 L1210,96.89 L1209,98.34 L1206.92,98.21 L1206.13,99.58 L1204.57,100.76 L1202.02,103.51 L1200.86,104.66 L1199.45,104.84 L1198.14,105.76 L1196.66,107.63 L1195.16,108.88 L1192.25,111.17 L1191.54,111.92 L1189.13,113.01 L1188.4,113.5 L1186.42,114.91 L1184.72,117.31 L1182.7,117.7 L1180.93,119.19 L1179.04,120.67 L1177.62,121.21 L1176.52,122.56 L1174.89,123.49 L1173.19,125.21 L1170.79,125.86 L1168.97,128.5 L1168.35,130.06 L1166.09,131.34 L1164.78,132.37 L1163.24,133.22 L1160.82,134.01 L1160.05,135.99 L1157.89,136.92 L1156.8,136.47 L1154.21,139.42 L1153.33,140.6 L1151.64,141.57 L1149.66,142.58 L1147.17,143.77 L1145.68,144.75 L1143.78,145.6 L1142,146.66 L1140.7,147.3 L1139.31,148.75 L1137.64,150.8 L1134.91,151.14 L1133.33,152.47 L1131.44,153.1 L1130.42,153.7 L1128.81,156.43 L1126.36,156.48 L1124.95,156.96 L1123.95,159.01 L1121.6,160.24 L1120.61,160.76 L1117.77,162.47 L1116.39,162.62 L1114.29,164.94 L1112.83,166.78 L1111.48,166.84 L1109.71,168.82 L1108.26,168.77 L1106.09,169.94 L1105.31,171.98 L1103.09,172.09 L1101.18,173.99 L1099.42,175.66 L1097.95,176.02 L1097.1,176.26 L1094.72,177.76 L1093.4,178.13 L1091.32,180.3 L1089.61,180.09 L1087.74,180.86 L1086.07,182.97 L1084.5,182.48 L1082.6,183.54 L1080.06,185.09 L1079.04,184.86 L1076.71,187.42 L1075.15,187.31 L1073.47,188.74 L1071.28,189.59 L1068.94,191.07 L1067.53,190.28 L1065.7,191.52 L1063.12,193.42 L1061.86,193.28 L1059.46,193.65 L1057.84,195.06 L1055.99,195.67 L1054.44,196.18 L1052.53,198.4 L1050.6,199.98 L1048.53,198.98 L1046.38,199.58 L1044.95,201.2 L1042.82,201.7 L1041.21,202.43 L1038.92,203.47 L1036.79,204.02 L1034.59,205.58 L1033.21,206.37 L1030.91,207.23 L1029.42,208.51 L1027.64,208.99 L1025.11,210.27 L1023.09,211.23 L1021.29,210.24 L1019.95,211 L1017.97,213.42 L1016.12,214.07 L1013.58,213.86 L1011.72,213.86 L1010.11,215.53 L1007.64,216.44 L1006.37,217.02 L1004.1,218.12 L1002.08,217.77 L999.86,218.64 L998.19,219.38 L995.94,220.58 L994.35,221.39 L992.23,221.36 L990.44,222.38 L988.42,224.06 L985.95,224.9 L984.36,224.38 L982.14,224.29 L979.97,225.07 L978.3,225.69 L976.41,226.42 L974.38,228.07 L972.42,228.28 L970.94,228.39 L968.39,228.66 L966.53,231.24 L964.99,231.8 L962.76,231.38 L960.64,232.68 L958.74,231.54 L956.78,234.06 L955.23,234.08 L953.45,234.99 L951.05,234.8 L949.13,234.96 L947.61,237.2 L945.6,236.57 L943.35,237.63 L941.49,238.97 L939.46,239.19 L937.62,238.56 L935.78,239.91 L933.74,240.57 L931.77,240.73 L929.84,242.15 L927.44,241.97 L925.41,243.15 L923.48,242.43 L921.13,243.07 L919.37,243.1 L917.26,243.84 L915.26,244.57 L913.3,244.04 L911.11,246.41 L909.1,247.18 L907.13,245.38 L905.01,247.41 L902.94,248.56 L901.17,248.78 L898.97,247.27 L897.01,248.7 L894.99,249.15 L893.11,250.56 L891.12,249.2 L889.28,250.46 L887.16,251.57 L885.4,252.22 L883.27,250.97 L881.15,251.45 L879.09,252.95 L877.15,253.12 L875.27,253.21 L874.23,254.85 L873.07,254.35 L872.54,253.73 L871.38,254.53Z" fill="#00ff00"/>
<polyline points="870.6,259.3 923,254 977,243.5 1029,230 1080.4,214 1125.9,189.1 1178.9,167.5 1229.2,144.4 1280.4,118.9 1331.6,91.9 1383.1,63.8" fill="none" stroke="#000000" stroke-width="4.6" stroke-linejoin="round" stroke-linecap="round" />
<path d="M870.6,242.1 L883.2,259.3 L870.6,276.5 L858,259.3 Z" fill="#ff0000" stroke="#000000" stroke-width="4.4" stroke-linejoin="miter"/>
<path d="M923,236.8 L935.6,254 L923,271.2 L910.4,254 Z" fill="#ff0000" stroke="#000000" stroke-width="4.4" stroke-linejoin="miter"/>
<path d="M977,226.3 L989.6,243.5 L977,260.7 L964.4,243.5 Z" fill="#ff0000" stroke="#000000" stroke-width="4.4" stroke-linejoin="miter"/>
<path d="M1029,212.8 L1041.6,230 L1029,247.2 L1016.4,230 Z" fill="#ff0000" stroke="#000000" stroke-width="4.4" stroke-linejoin="miter"/>
<path d="M1080.4,196.8 L1093,214 L1080.4,231.2 L1067.8,214 Z" fill="#ff0000" stroke="#000000" stroke-width="4.4" stroke-linejoin="miter"/>
<path d="M1125.9,171.9 L1138.5,189.1 L1125.9,206.3 L1113.3,189.1 Z" fill="#ff0000" stroke="#000000" stroke-width="4.4" stroke-linejoin="miter"/>
<path d="M1178.9,150.3 L1191.5,167.5 L1178.9,184.7 L1166.3,167.5 Z" fill="#ff0000" stroke="#000000" stroke-width="4.4" stroke-linejoin="miter"/>
<path d="M1229.2,127.2 L1241.8,144.4 L1229.2,161.6 L1216.6,144.4 Z" fill="#ff0000" stroke="#000000" stroke-width="4.4" stroke-linejoin="miter"/>
<path d="M1280.4,101.7 L1293,118.9 L1280.4,136.1 L1267.8,118.9 Z" fill="#ff0000" stroke="#000000" stroke-width="4.4" stroke-linejoin="miter"/>
<path d="M1331.6,74.7 L1344.2,91.9 L1331.6,109.1 L1319,91.9 Z" fill="#ff0000" stroke="#000000" stroke-width="4.4" stroke-linejoin="miter"/>
<path d="M1383.1,46.6 L1395.7,63.8 L1383.1,81 L1370.5,63.8 Z" fill="#ff0000" stroke="#000000" stroke-width="4.4" stroke-linejoin="miter"/>
<polyline points="870.6,259.3 923,254 977,243.5 1029,230 1080.4,214 1125.9,189.1 1178.9,167.5 1229.2,144.4 1280.4,118.9 1331.6,91.9 1383.1,63.8" fill="none" stroke="#333" stroke-width="1" stroke-linejoin="round" stroke-linecap="round" />
<polyline points="870.6,259.5 924.3,257.3 978.2,246.9 1032,234.7 1085,220.3 1138.9,205.3 1192.9,188 1245.9,169.6 1299.9,150.2 1353.9,129.7 1406.8,108.1" fill="none" stroke="#000000" stroke-width="4.6" stroke-linejoin="round" stroke-linecap="round" />
<circle cx="870.6" cy="259.5" r="11" fill="#0000ff" stroke="#000000" stroke-width="4.3"/>
<circle cx="924.3" cy="257.3" r="11" fill="#0000ff" stroke="#000000" stroke-width="4.3"/>
<circle cx="978.2" cy="246.9" r="11" fill="#0000ff" stroke="#000000" stroke-width="4.3"/>
<circle cx="1032" cy="234.7" r="11" fill="#0000ff" stroke="#000000" stroke-width="4.3"/>
<circle cx="1085" cy="220.3" r="11" fill="#0000ff" stroke="#000000" stroke-width="4.3"/>
<circle cx="1138.9" cy="205.3" r="11" fill="#0000ff" stroke="#000000" stroke-width="4.3"/>
<circle cx="1192.9" cy="188" r="11" fill="#0000ff" stroke="#000000" stroke-width="4.3"/>
<circle cx="1245.9" cy="169.6" r="11" fill="#0000ff" stroke="#000000" stroke-width="4.3"/>
<circle cx="1299.9" cy="150.2" r="11" fill="#0000ff" stroke="#000000" stroke-width="4.3"/>
<circle cx="1353.9" cy="129.7" r="11" fill="#0000ff" stroke="#000000" stroke-width="4.3"/>
<circle cx="1406.8" cy="108.1" r="11" fill="#0000ff" stroke="#000000" stroke-width="4.3"/>
<polyline points="870.6,259.5 924.3,257.3 978.2,246.9 1032,234.7 1085,220.3 1138.9,205.3 1192.9,188 1245.9,169.6 1299.9,150.2 1353.9,129.7 1406.8,108.1" fill="none" stroke="#333" stroke-width="1" stroke-linejoin="round" stroke-linecap="round" />
<polyline points="870.4,259.1 906.9,250.4 943.4,240.8 979.9,226.5 1016.4,213.9 1052.9,198.2 1089.4,180.9 1125.9,162.1 1162.7,140.5 1199.4,121 1236.1,99.4" fill="none" stroke="#000000" stroke-width="4.6" stroke-linejoin="round" stroke-linecap="round" />
<rect x="862" y="250.7" width="16.8" height="16.8" fill="#00ff00" stroke="#000000" stroke-width="4.4" />
<rect x="898.5" y="242" width="16.8" height="16.8" fill="#00ff00" stroke="#000000" stroke-width="4.4" />
<rect x="935" y="232.4" width="16.8" height="16.8" fill="#00ff00" stroke="#000000" stroke-width="4.4" />
<rect x="971.5" y="218.1" width="16.8" height="16.8" fill="#00ff00" stroke="#000000" stroke-width="4.4" />
<rect x="1008" y="205.5" width="16.8" height="16.8" fill="#00ff00" stroke="#000000" stroke-width="4.4" />
<rect x="1044.5" y="189.8" width="16.8" height="16.8" fill="#00ff00" stroke="#000000" stroke-width="4.4" />
<rect x="1081" y="172.5" width="16.8" height="16.8" fill="#00ff00" stroke="#000000" stroke-width="4.4" />
<rect x="1117.5" y="153.7" width="16.8" height="16.8" fill="#00ff00" stroke="#000000" stroke-width="4.4" />
<rect x="1154.3" y="132.1" width="16.8" height="16.8" fill="#00ff00" stroke="#000000" stroke-width="4.4" />
<rect x="1191" y="112.6" width="16.8" height="16.8" fill="#00ff00" stroke="#000000" stroke-width="4.4" />
<rect x="1227.7" y="91" width="16.8" height="16.8" fill="#00ff00" stroke="#000000" stroke-width="4.4" />
<polyline points="870.4,259.1 906.9,250.4 943.4,240.8 979.9,226.5 1016.4,213.9 1052.9,198.2 1089.4,180.9 1125.9,162.1 1162.7,140.5 1199.4,121 1236.1,99.4" fill="none" stroke="#222" stroke-width="1" stroke-linejoin="round" stroke-linecap="round" />
<rect x="957.8" y="7.3" width="477" height="252.3" fill="rgba(189,189,189,0.272)" />
<text x="863.5" y="22.5" font-size="31.5" font-family='"Liberation Sans", sans-serif' fill="#000" text-anchor="end" >15</text>
<text x="863.5" y="105.4" font-size="31.5" font-family='"Liberation Sans", sans-serif' fill="#000" text-anchor="end" >10</text>
<text x="863.5" y="188.3" font-size="31.5" font-family='"Liberation Sans", sans-serif' fill="#000" text-anchor="end" >5</text>
<text x="854.5" y="271" font-size="31.5" font-family='"Liberation Sans", sans-serif' fill="#000" text-anchor="end" >0</text>
<line x1="1044.6" y1="302" x2="1044.6" y2="549.6" stroke="#e6e6e6" stroke-width="7.5" />
<line x1="1218.2" y1="302" x2="1218.2" y2="549.6" stroke="#e6e6e6" stroke-width="7.5" />
<line x1="1391.8" y1="302" x2="1391.8" y2="549.6" stroke="#e6e6e6" stroke-width="7.5" />
<line x1="871" y1="425.8" x2="1434.8" y2="425.8" stroke="#e6e6e6" stroke-width="7.5" />
<path d="M871.0,302.0 H1434.8 V549.6 H871.0 Z" fill="none" stroke="#262626" stroke-width="7.2"/>
<line x1="1044.6" y1="549.6" x2="1044.6" y2="535.1" stroke="#262626" stroke-width="7.5" />
<line x1="1044.6" y1="302" x2="1044.6" y2="316.5" stroke="#262626" stroke-width="7.5" />
<line x1="1218.2" y1="549.6" x2="1218.2" y2="535.1" stroke="#262626" stroke-width="7.5" />
<line x1="1218.2" y1="302" x2="1218.2" y2="316.5" stroke="#262626" stroke-width="7.5" />
<line x1="1391.8" y1="549.6" x2="1391.8" y2="535.1" stroke="#262626" stroke-width="7.5" />
<line x1="1391.8" y1="302" x2="1391.8" y2="316.5" stroke="#262626" stroke-width="7.5" />
<line x1="871" y1="425.8" x2="885.5" y2="425.8" stroke="#262626" stroke-width="7.5" />
<line x1="1434.8" y1="425.8" x2="1420.3" y2="425.8" stroke="#262626" stroke-width="7.5" />
<line x1="870.5" y1="551" x2="1386" y2="339" stroke="#ff0000" stroke-width="23.5" stroke-linecap="round"/>
<line x1="870.5" y1="551" x2="1411" y2="331" stroke="#0000ff" stroke-width="14" stroke-linecap="butt"/>
<line x1="870.5" y1="551" x2="1240" y2="442" stroke="#00ff00" stroke-width="14" stroke-linecap="round"/>
<rect x="957.8" y="302" width="477" height="247.6" fill="rgba(189,189,189,0.272)" />
<text x="863.5" y="313.6" font-size="31.5" font-family='"Liberation Sans", sans-serif' fill="#000" text-anchor="end" >2</text>
<text x="863.5" y="437.4" font-size="31.5" font-family='"Liberation Sans", sans-serif' fill="#000" text-anchor="end" >1</text>
<text x="854.2" y="562.5" font-size="31.5" font-family='"Liberation Sans", sans-serif' fill="#000" text-anchor="end" >0</text>
<text x="871" y="590.3" font-size="31.5" font-family='"Liberation Sans", sans-serif' fill="#000" text-anchor="middle" >0</text>
<text x="1044.6" y="590.3" font-size="31.5" font-family='"Liberation Sans", sans-serif' fill="#000" text-anchor="middle" >0.02</text>
<text x="1218.2" y="590.3" font-size="31.5" font-family='"Liberation Sans", sans-serif' fill="#000" text-anchor="middle" >0.04</text>
<text x="1391.8" y="590.3" font-size="31.5" font-family='"Liberation Sans", sans-serif' fill="#000" text-anchor="middle" >0.06</text>
<rect x="897.2" y="328" width="188.4" height="114.4" fill="#ffffff" stroke="#222" stroke-width="7.6" />
<polygon points="922.93,351.27 918.17,356.03 911.43,356.03 906.67,351.27 906.67,344.53 911.43,339.77 918.17,339.77 922.93,344.53" fill="#ff0000"/>
<polygon points="922.93,388.17 918.17,392.93 911.43,392.93 906.67,388.17 906.67,381.43 911.43,376.67 918.17,376.67 922.93,381.43" fill="#0000ff"/>
<polygon points="922.93,426.07 918.17,430.83 911.43,430.83 906.67,426.07 906.67,419.33 911.43,414.57 918.17,414.57 922.93,419.33" fill="#00ff00"/>
<text x="932.5" y="358.8" font-size="29.3" font-family='"Liberation Sans", sans-serif' fill="#000" >Melanocyte</text>
<text x="932.5" y="396.2" font-size="29.3" font-family='"Liberation Sans", sans-serif' fill="#000" >Melanoma</text>
<text x="932.5" y="433.5" font-size="29.3" font-family='"Liberation Sans", sans-serif' fill="#000" >Fibroblast</text>
<text transform="translate(814.5,137) rotate(-90)" font-size="36.5" font-family='"Liberation Serif", serif' text-anchor="middle">Force [<tspan font-style="italic">nN</tspan>]</text>
<text transform="translate(822,427.5) rotate(-90)" font-size="37.5" font-family='"Liberation Serif", serif' text-anchor="middle">Indentation [<tspan font-style="italic">μm</tspan>]</text>
<text x="1151.5" y="627" font-size="37" font-family='"Liberation Serif", serif' text-anchor="middle">Time [<tspan font-style="italic">s</tspan>]</text>
<path d="M1436,121 H1467.5 V243" fill="none" stroke="#000" stroke-width="7"/>
<path d="M1467.5,312 V432.7 H1435" fill="none" stroke="#000" stroke-width="7"/>
<text x="1438.5" y="292.5" font-size="46" font-family='"Liberation Sans", sans-serif' fill="#000" font-weight="bold" >(b)</text>
<line x1="98" y1="674.7" x2="98" y2="950.5" stroke="#c9c9c9" stroke-width="5" stroke-dasharray="5 5.3" stroke-dashoffset="-1.5"/>
<line x1="114.7" y1="674.7" x2="114.7" y2="950.5" stroke="#c9c9c9" stroke-width="5" stroke-dasharray="5 5.3" stroke-dashoffset="-1.5"/>
<line x1="126.56" y1="674.7" x2="126.56" y2="950.5" stroke="#c9c9c9" stroke-width="5" stroke-dasharray="5 5.3" stroke-dashoffset="-1.5"/>
<line x1="135.75" y1="674.7" x2="135.75" y2="950.5" stroke="#c9c9c9" stroke-width="5" stroke-dasharray="5 5.3" stroke-dashoffset="-1.5"/>
<line x1="143.26" y1="674.7" x2="143.26" y2="950.5" stroke="#c9c9c9" stroke-width="5" stroke-dasharray="5 5.3" stroke-dashoffset="-1.5"/>
<line x1="149.61" y1="674.7" x2="149.61" y2="950.5" stroke="#c9c9c9" stroke-width="5" stroke-dasharray="5 5.3" stroke-dashoffset="-1.5"/>
<line x1="155.11" y1="674.7" x2="155.11" y2="950.5" stroke="#c9c9c9" stroke-width="5" stroke-dasharray="5 5.3" stroke-dashoffset="-1.5"/>
<line x1="159.96" y1="674.7" x2="159.96" y2="950.5" stroke="#c9c9c9" stroke-width="5" stroke-dasharray="5 5.3" stroke-dashoffset="-1.5"/>
<line x1="192.85" y1="674.7" x2="192.85" y2="950.5" stroke="#c9c9c9" stroke-width="5" stroke-dasharray="5 5.3" stroke-dashoffset="-1.5"/>
<line x1="209.55" y1="674.7" x2="209.55" y2="950.5" stroke="#c9c9c9" stroke-width="5" stroke-dasharray="5 5.3" stroke-dashoffset="-1.5"/>
<line x1="221.41" y1="674.7" x2="221.41" y2="950.5" stroke="#c9c9c9" stroke-width="5" stroke-dasharray="5 5.3" stroke-dashoffset="-1.5"/>
<line x1="230.6" y1="674.7" x2="230.6" y2="950.5" stroke="#c9c9c9" stroke-width="5" stroke-dasharray="5 5.3" stroke-dashoffset="-1.5"/>
<line x1="238.11" y1="674.7" x2="238.11" y2="950.5" stroke="#c9c9c9" stroke-width="5" stroke-dasharray="5 5.3" stroke-dashoffset="-1.5"/>
<line x1="244.46" y1="674.7" x2="244.46" y2="950.5" stroke="#c9c9c9" stroke-width="5" stroke-dasharray="5 5.3" stroke-dashoffset="-1.5"/>
<line x1="249.96" y1="674.7" x2="249.96" y2="950.5" stroke="#c9c9c9" stroke-width="5" stroke-dasharray="5 5.3" stroke-dashoffset="-1.5"/>
<line x1="254.81" y1="674.7" x2="254.81" y2="950.5" stroke="#c9c9c9" stroke-width="5" stroke-dasharray="5 5.3" stroke-dashoffset="-1.5"/>
<line x1="287.7" y1="674.7" x2="287.7" y2="950.5" stroke="#c9c9c9" stroke-width="5" stroke-dasharray="5 5.3" stroke-dashoffset="-1.5"/>
<line x1="304.4" y1="674.7" x2="304.4" y2="950.5" stroke="#c9c9c9" stroke-width="5" stroke-dasharray="5 5.3" stroke-dashoffset="-1.5"/>
<line x1="316.26" y1="674.7" x2="316.26" y2="950.5" stroke="#c9c9c9" stroke-width="5" stroke-dasharray="5 5.3" stroke-dashoffset="-1.5"/>
<line x1="325.45" y1="674.7" x2="325.45" y2="950.5" stroke="#c9c9c9" stroke-width="5" stroke-dasharray="5 5.3" stroke-dashoffset="-1.5"/>
<line x1="332.96" y1="674.7" x2="332.96" y2="950.5" stroke="#c9c9c9" stroke-width="5" stroke-dasharray="5 5.3" stroke-dashoffset="-1.5"/>
<line x1="339.31" y1="674.7" x2="339.31" y2="950.5" stroke="#c9c9c9" stroke-width="5" stroke-dasharray="5 5.3" stroke-dashoffset="-1.5"/>
<line x1="344.81" y1="674.7" x2="344.81" y2="950.5" stroke="#c9c9c9" stroke-width="5" stroke-dasharray="5 5.3" stroke-dashoffset="-1.5"/>
<line x1="349.66" y1="674.7" x2="349.66" y2="950.5" stroke="#c9c9c9" stroke-width="5" stroke-dasharray="5 5.3" stroke-dashoffset="-1.5"/>
<line x1="382.55" y1="674.7" x2="382.55" y2="950.5" stroke="#c9c9c9" stroke-width="5" stroke-dasharray="5 5.3" stroke-dashoffset="-1.5"/>
<line x1="399.25" y1="674.7" x2="399.25" y2="950.5" stroke="#c9c9c9" stroke-width="5" stroke-dasharray="5 5.3" stroke-dashoffset="-1.5"/>
<line x1="411.11" y1="674.7" x2="411.11" y2="950.5" stroke="#c9c9c9" stroke-width="5" stroke-dasharray="5 5.3" stroke-dashoffset="-1.5"/>
<line x1="420.3" y1="674.7" x2="420.3" y2="950.5" stroke="#c9c9c9" stroke-width="5" stroke-dasharray="5 5.3" stroke-dashoffset="-1.5"/>
<line x1="427.81" y1="674.7" x2="427.81" y2="950.5" stroke="#c9c9c9" stroke-width="5" stroke-dasharray="5 5.3" stroke-dashoffset="-1.5"/>
<line x1="434.16" y1="674.7" x2="434.16" y2="950.5" stroke="#c9c9c9" stroke-width="5" stroke-dasharray="5 5.3" stroke-dashoffset="-1.5"/>
<line x1="164.3" y1="671.2" x2="164.3" y2="954" stroke="#e4e4e4" stroke-width="4.6" />
<line x1="259.15" y1="671.2" x2="259.15" y2="954" stroke="#e4e4e4" stroke-width="4.6" />
<line x1="354" y1="671.2" x2="354" y2="954" stroke="#e4e4e4" stroke-width="4.6" />
<line x1="85.5" y1="778.8" x2="440.3" y2="778.8" stroke="#e4e4e4" stroke-width="4.2" />
<line x1="85.5" y1="891.3" x2="440.3" y2="891.3" stroke="#e4e4e4" stroke-width="4.2" />
<path d="M103.7,825.1l8.6,8.6m-8.6,0l8.6,-8.6" stroke="#0000ff" stroke-width="2.6" fill="none"/>
<path d="M131.4,799.5l8.6,8.6m-8.6,0l8.6,-8.6" stroke="#0000ff" stroke-width="2.6" fill="none"/>
<path d="M147.9,789.7l8.6,8.6m-8.6,0l8.6,-8.6" stroke="#0000ff" stroke-width="2.6" fill="none"/>
<path d="M159.7,791.2l8.6,8.6m-8.6,0l8.6,-8.6" stroke="#0000ff" stroke-width="2.6" fill="none"/>
<path d="M169.1,803.0l8.6,8.6m-8.6,0l8.6,-8.6" stroke="#0000ff" stroke-width="2.6" fill="none"/>
<path d="M176.5,820.7l8.6,8.6m-8.6,0l8.6,-8.6" stroke="#0000ff" stroke-width="2.6" fill="none"/>
<path d="M183.3,819.2l8.6,8.6m-8.6,0l8.6,-8.6" stroke="#0000ff" stroke-width="2.6" fill="none"/>
<path d="M188.3,804.5l8.6,8.6m-8.6,0l8.6,-8.6" stroke="#0000ff" stroke-width="2.6" fill="none"/>
<path d="M193.3,791.2l8.6,8.6m-8.6,0l8.6,-8.6" stroke="#0000ff" stroke-width="2.6" fill="none"/>
<path d="M199.5,786.8l8.6,8.6m-8.6,0l8.6,-8.6" stroke="#0000ff" stroke-width="2.6" fill="none"/>
<path d="M204.5,796.5l8.6,8.6m-8.6,0l8.6,-8.6" stroke="#0000ff" stroke-width="2.6" fill="none"/>
<path d="M207.4,813.3l8.6,8.6m-8.6,0l8.6,-8.6" stroke="#0000ff" stroke-width="2.6" fill="none"/>
<path d="M213.3,806.6l8.6,8.6m-8.6,0l8.6,-8.6" stroke="#0000ff" stroke-width="2.6" fill="none"/>
<path d="M217.7,788.3l8.6,8.6m-8.6,0l8.6,-8.6" stroke="#0000ff" stroke-width="2.6" fill="none"/>
<path d="M220.7,797.1l8.6,8.6m-8.6,0l8.6,-8.6" stroke="#0000ff" stroke-width="2.6" fill="none"/>
<path d="M228.1,794.2l8.6,8.6m-8.6,0l8.6,-8.6" stroke="#0000ff" stroke-width="2.6" fill="none"/>
<path d="M236.9,788.3l8.6,8.6m-8.6,0l8.6,-8.6" stroke="#0000ff" stroke-width="2.6" fill="none"/>
<path d="M242.8,811.9l8.6,8.6m-8.6,0l8.6,-8.6" stroke="#0000ff" stroke-width="2.6" fill="none"/>
<path d="M245.7,779.4l8.6,8.6m-8.6,0l8.6,-8.6" stroke="#0000ff" stroke-width="2.6" fill="none"/>
<path d="M208.7,795.7l8.6,8.6m-8.6,0l8.6,-8.6" stroke="#0000ff" stroke-width="2.6" fill="none"/>
<path d="M223.7,785.7l8.6,8.6m-8.6,0l8.6,-8.6" stroke="#0000ff" stroke-width="2.6" fill="none"/>
<path d="M231.7,801.7l8.6,8.6m-8.6,0l8.6,-8.6" stroke="#0000ff" stroke-width="2.6" fill="none"/>
<path d="M239.7,793.7l8.6,8.6m-8.6,0l8.6,-8.6" stroke="#0000ff" stroke-width="2.6" fill="none"/>
<path d="M294.2,773.0l8.6,8.6m-8.6,0l8.6,-8.6M300.7,763.2l8.6,8.6m-8.6,0l8.6,-8.6M262.9,772.0l8.6,8.6m-8.6,0l8.6,-8.6M251.3,775.3l8.6,8.6m-8.6,0l8.6,-8.6M253.9,781.4l8.6,8.6m-8.6,0l8.6,-8.6M352.8,735.6l8.6,8.6m-8.6,0l8.6,-8.6M317.0,758.9l8.6,8.6m-8.6,0l8.6,-8.6M299.9,765.6l8.6,8.6m-8.6,0l8.6,-8.6M261.9,783.3l8.6,8.6m-8.6,0l8.6,-8.6M294.5,769.5l8.6,8.6m-8.6,0l8.6,-8.6M302.3,757.9l8.6,8.6m-8.6,0l8.6,-8.6M293.1,767.8l8.6,8.6m-8.6,0l8.6,-8.6M354.4,740.1l8.6,8.6m-8.6,0l8.6,-8.6M276.4,766.9l8.6,8.6m-8.6,0l8.6,-8.6M272.4,774.9l8.6,8.6m-8.6,0l8.6,-8.6M336.1,741.9l8.6,8.6m-8.6,0l8.6,-8.6M349.7,742.2l8.6,8.6m-8.6,0l8.6,-8.6M342.8,742.3l8.6,8.6m-8.6,0l8.6,-8.6M349.2,743.5l8.6,8.6m-8.6,0l8.6,-8.6M328.2,754.2l8.6,8.6m-8.6,0l8.6,-8.6M250.7,790.2l8.6,8.6m-8.6,0l8.6,-8.6M253.7,778.8l8.6,8.6m-8.6,0l8.6,-8.6M250.6,782.4l8.6,8.6m-8.6,0l8.6,-8.6M305.8,760.6l8.6,8.6m-8.6,0l8.6,-8.6M264.9,782.7l8.6,8.6m-8.6,0l8.6,-8.6M254.5,786.1l8.6,8.6m-8.6,0l8.6,-8.6M264.7,785.9l8.6,8.6m-8.6,0l8.6,-8.6M279.1,772.2l8.6,8.6m-8.6,0l8.6,-8.6M265.2,781.5l8.6,8.6m-8.6,0l8.6,-8.6M256.1,775.8l8.6,8.6m-8.6,0l8.6,-8.6M264.7,777.7l8.6,8.6m-8.6,0l8.6,-8.6M273.3,769.7l8.6,8.6m-8.6,0l8.6,-8.6M252.5,782.2l8.6,8.6m-8.6,0l8.6,-8.6M284.3,778.1l8.6,8.6m-8.6,0l8.6,-8.6M347.6,729.7l8.6,8.6m-8.6,0l8.6,-8.6M260.6,773.6l8.6,8.6m-8.6,0l8.6,-8.6M344.7,742.4l8.6,8.6m-8.6,0l8.6,-8.6M328.1,756.6l8.6,8.6m-8.6,0l8.6,-8.6M266.9,782.7l8.6,8.6m-8.6,0l8.6,-8.6M287.9,764.7l8.6,8.6m-8.6,0l8.6,-8.6M248.9,784.6l8.6,8.6m-8.6,0l8.6,-8.6M273.2,783.3l8.6,8.6m-8.6,0l8.6,-8.6M309.0,765.5l8.6,8.6m-8.6,0l8.6,-8.6M247.9,789.9l8.6,8.6m-8.6,0l8.6,-8.6M308.2,760.6l8.6,8.6m-8.6,0l8.6,-8.6M341.9,739.1l8.6,8.6m-8.6,0l8.6,-8.6M242.2,783.3l8.6,8.6m-8.6,0l8.6,-8.6M261.1,778.9l8.6,8.6m-8.6,0l8.6,-8.6M305.4,756.3l8.6,8.6m-8.6,0l8.6,-8.6M350.7,745.1l8.6,8.6m-8.6,0l8.6,-8.6M320.8,757.1l8.6,8.6m-8.6,0l8.6,-8.6M246.2,786.0l8.6,8.6m-8.6,0l8.6,-8.6M324.1,762.7l8.6,8.6m-8.6,0l8.6,-8.6M298.6,767.7l8.6,8.6m-8.6,0l8.6,-8.6M281.5,779.0l8.6,8.6m-8.6,0l8.6,-8.6M327.6,756.4l8.6,8.6m-8.6,0l8.6,-8.6M326.4,756.5l8.6,8.6m-8.6,0l8.6,-8.6M283.4,761.4l8.6,8.6m-8.6,0l8.6,-8.6M344.3,735.3l8.6,8.6m-8.6,0l8.6,-8.6M338.8,750.1l8.6,8.6m-8.6,0l8.6,-8.6M312.6,754.2l8.6,8.6m-8.6,0l8.6,-8.6M251.7,778.9l8.6,8.6m-8.6,0l8.6,-8.6M353.3,735.5l8.6,8.6m-8.6,0l8.6,-8.6M325.5,748.7l8.6,8.6m-8.6,0l8.6,-8.6M294.5,775.7l8.6,8.6m-8.6,0l8.6,-8.6M245.7,788.6l8.6,8.6m-8.6,0l8.6,-8.6M295.5,765.0l8.6,8.6m-8.6,0l8.6,-8.6M314.7,755.2l8.6,8.6m-8.6,0l8.6,-8.6M268.2,773.2l8.6,8.6m-8.6,0l8.6,-8.6M262.9,784.6l8.6,8.6m-8.6,0l8.6,-8.6M343.5,732.7l8.6,8.6m-8.6,0l8.6,-8.6M280.4,776.8l8.6,8.6m-8.6,0l8.6,-8.6M264.0,781.4l8.6,8.6m-8.6,0l8.6,-8.6M339.3,734.0l8.6,8.6m-8.6,0l8.6,-8.6M307.7,766.5l8.6,8.6m-8.6,0l8.6,-8.6M337.9,752.0l8.6,8.6m-8.6,0l8.6,-8.6M325.1,754.6l8.6,8.6m-8.6,0l8.6,-8.6M292.3,771.1l8.6,8.6m-8.6,0l8.6,-8.6M265.8,772.9l8.6,8.6m-8.6,0l8.6,-8.6M280.1,769.3l8.6,8.6m-8.6,0l8.6,-8.6M349.7,738.1l8.6,8.6m-8.6,0l8.6,-8.6M336.6,745.6l8.6,8.6m-8.6,0l8.6,-8.6M322.6,752.0l8.6,8.6m-8.6,0l8.6,-8.6M241.7,793.1l8.6,8.6m-8.6,0l8.6,-8.6M291.3,769.7l8.6,8.6m-8.6,0l8.6,-8.6M255.1,776.5l8.6,8.6m-8.6,0l8.6,-8.6M313.4,754.9l8.6,8.6m-8.6,0l8.6,-8.6M335.4,744.1l8.6,8.6m-8.6,0l8.6,-8.6M317.8,753.5l8.6,8.6m-8.6,0l8.6,-8.6M242.8,785.7l8.6,8.6m-8.6,0l8.6,-8.6M320.8,754.2l8.6,8.6m-8.6,0l8.6,-8.6M321.1,760.4l8.6,8.6m-8.6,0l8.6,-8.6M313.7,753.8l8.6,8.6m-8.6,0l8.6,-8.6M340.1,748.0l8.6,8.6m-8.6,0l8.6,-8.6M346.5,744.4l8.6,8.6m-8.6,0l8.6,-8.6M315.8,764.1l8.6,8.6m-8.6,0l8.6,-8.6M285.6,777.6l8.6,8.6m-8.6,0l8.6,-8.6M346.1,733.6l8.6,8.6m-8.6,0l8.6,-8.6M314.3,757.0l8.6,8.6m-8.6,0l8.6,-8.6M316.3,750.1l8.6,8.6m-8.6,0l8.6,-8.6M268.6,790.7l8.6,8.6m-8.6,0l8.6,-8.6M305.3,762.9l8.6,8.6m-8.6,0l8.6,-8.6M281.1,776.2l8.6,8.6m-8.6,0l8.6,-8.6M250.8,778.6l8.6,8.6m-8.6,0l8.6,-8.6M306.7,762.8l8.6,8.6m-8.6,0l8.6,-8.6M330.3,749.4l8.6,8.6m-8.6,0l8.6,-8.6M329.9,745.3l8.6,8.6m-8.6,0l8.6,-8.6M255.6,787.4l8.6,8.6m-8.6,0l8.6,-8.6M302.5,769.5l8.6,8.6m-8.6,0l8.6,-8.6M346.4,733.2l8.6,8.6m-8.6,0l8.6,-8.6M344.3,740.5l8.6,8.6m-8.6,0l8.6,-8.6M276.5,780.4l8.6,8.6m-8.6,0l8.6,-8.6M314.9,762.9l8.6,8.6m-8.6,0l8.6,-8.6M276.9,768.3l8.6,8.6m-8.6,0l8.6,-8.6M339.0,749.5l8.6,8.6m-8.6,0l8.6,-8.6M348.8,747.4l8.6,8.6m-8.6,0l8.6,-8.6M305.9,757.3l8.6,8.6m-8.6,0l8.6,-8.6M308.3,760.0l8.6,8.6m-8.6,0l8.6,-8.6M348.8,730.6l8.6,8.6m-8.6,0l8.6,-8.6M306.4,768.7l8.6,8.6m-8.6,0l8.6,-8.6M317.7,751.2l8.6,8.6m-8.6,0l8.6,-8.6M350.0,737.6l8.6,8.6m-8.6,0l8.6,-8.6M272.5,778.8l8.6,8.6m-8.6,0l8.6,-8.6M336.0,752.7l8.6,8.6m-8.6,0l8.6,-8.6M295.5,769.5l8.6,8.6m-8.6,0l8.6,-8.6M342.2,747.6l8.6,8.6m-8.6,0l8.6,-8.6M326.8,752.3l8.6,8.6m-8.6,0l8.6,-8.6M318.8,759.9l8.6,8.6m-8.6,0l8.6,-8.6M283.4,778.4l8.6,8.6m-8.6,0l8.6,-8.6M255.8,785.5l8.6,8.6m-8.6,0l8.6,-8.6M268.7,770.5l8.6,8.6m-8.6,0l8.6,-8.6M284.5,770.1l8.6,8.6m-8.6,0l8.6,-8.6M300.6,766.9l8.6,8.6m-8.6,0l8.6,-8.6M314.9,766.1l8.6,8.6m-8.6,0l8.6,-8.6M337.9,748.8l8.6,8.6m-8.6,0l8.6,-8.6M327.5,750.5l8.6,8.6m-8.6,0l8.6,-8.6M341.1,738.3l8.6,8.6m-8.6,0l8.6,-8.6M269.7,787.3l8.6,8.6m-8.6,0l8.6,-8.6M338.6,744.5l8.6,8.6m-8.6,0l8.6,-8.6M269.1,783.5l8.6,8.6m-8.6,0l8.6,-8.6M334.9,748.6l8.6,8.6m-8.6,0l8.6,-8.6M289.3,767.5l8.6,8.6m-8.6,0l8.6,-8.6M241.9,780.4l8.6,8.6m-8.6,0l8.6,-8.6M346.3,728.0l8.6,8.6m-8.6,0l8.6,-8.6M301.5,758.2l8.6,8.6m-8.6,0l8.6,-8.6M260.8,777.8l8.6,8.6m-8.6,0l8.6,-8.6M251.1,775.5l8.6,8.6m-8.6,0l8.6,-8.6M305.1,761.3l8.6,8.6m-8.6,0l8.6,-8.6M261.0,786.2l8.6,8.6m-8.6,0l8.6,-8.6M342.2,728.2l8.6,8.6m-8.6,0l8.6,-8.6M251.5,774.8l8.6,8.6m-8.6,0l8.6,-8.6M279.2,775.1l8.6,8.6m-8.6,0l8.6,-8.6M300.6,764.8l8.6,8.6m-8.6,0l8.6,-8.6M323.4,755.2l8.6,8.6m-8.6,0l8.6,-8.6M262.2,777.8l8.6,8.6m-8.6,0l8.6,-8.6M262.1,772.6l8.6,8.6m-8.6,0l8.6,-8.6M297.8,772.6l8.6,8.6m-8.6,0l8.6,-8.6M323.9,749.9l8.6,8.6m-8.6,0l8.6,-8.6M313.2,755.1l8.6,8.6m-8.6,0l8.6,-8.6M351.8,733.5l8.6,8.6m-8.6,0l8.6,-8.6M273.9,775.2l8.6,8.6m-8.6,0l8.6,-8.6M332.9,740.3l8.6,8.6m-8.6,0l8.6,-8.6M343.9,740.4l8.6,8.6m-8.6,0l8.6,-8.6M327.6,743.8l8.6,8.6m-8.6,0l8.6,-8.6M321.1,751.3l8.6,8.6m-8.6,0l8.6,-8.6M242.0,790.0l8.6,8.6m-8.6,0l8.6,-8.6M315.5,760.7l8.6,8.6m-8.6,0l8.6,-8.6M316.7,769.7l8.6,8.6m-8.6,0l8.6,-8.6M317.4,753.2l8.6,8.6m-8.6,0l8.6,-8.6M352.5,734.7l8.6,8.6m-8.6,0l8.6,-8.6M323.0,756.7l8.6,8.6m-8.6,0l8.6,-8.6M313.7,760.6l8.6,8.6m-8.6,0l8.6,-8.6M270.6,778.7l8.6,8.6m-8.6,0l8.6,-8.6M282.6,772.2l8.6,8.6m-8.6,0l8.6,-8.6M273.0,770.1l8.6,8.6m-8.6,0l8.6,-8.6M348.9,736.3l8.6,8.6m-8.6,0l8.6,-8.6M352.1,736.8l8.6,8.6m-8.6,0l8.6,-8.6M311.9,759.9l8.6,8.6m-8.6,0l8.6,-8.6M249.4,786.8l8.6,8.6m-8.6,0l8.6,-8.6M261.0,783.4l8.6,8.6m-8.6,0l8.6,-8.6M309.2,765.9l8.6,8.6m-8.6,0l8.6,-8.6M302.9,763.2l8.6,8.6m-8.6,0l8.6,-8.6M282.6,768.0l8.6,8.6m-8.6,0l8.6,-8.6M275.7,769.3l8.6,8.6m-8.6,0l8.6,-8.6M272.9,774.2l8.6,8.6m-8.6,0l8.6,-8.6M261.1,780.6l8.6,8.6m-8.6,0l8.6,-8.6M289.1,770.5l8.6,8.6m-8.6,0l8.6,-8.6M353.3,734.9l8.6,8.6m-8.6,0l8.6,-8.6M252.5,777.5l8.6,8.6m-8.6,0l8.6,-8.6M347.5,740.1l8.6,8.6m-8.6,0l8.6,-8.6M304.6,764.1l8.6,8.6m-8.6,0l8.6,-8.6M351.5,731.7l8.6,8.6m-8.6,0l8.6,-8.6M308.7,757.5l8.6,8.6m-8.6,0l8.6,-8.6M262.4,773.5l8.6,8.6m-8.6,0l8.6,-8.6M300.3,758.0l8.6,8.6m-8.6,0l8.6,-8.6M292.8,770.5l8.6,8.6m-8.6,0l8.6,-8.6M308.2,763.8l8.6,8.6m-8.6,0l8.6,-8.6M354.2,729.8l8.6,8.6m-8.6,0l8.6,-8.6M323.3,761.7l8.6,8.6m-8.6,0l8.6,-8.6M331.0,757.7l8.6,8.6m-8.6,0l8.6,-8.6M281.8,769.3l8.6,8.6m-8.6,0l8.6,-8.6M310.5,756.2l8.6,8.6m-8.6,0l8.6,-8.6M325.1,752.7l8.6,8.6m-8.6,0l8.6,-8.6M345.8,755.8l8.6,8.6m-8.6,0l8.6,-8.6M243.6,783.3l8.6,8.6m-8.6,0l8.6,-8.6M310.7,765.5l8.6,8.6m-8.6,0l8.6,-8.6M301.5,770.8l8.6,8.6m-8.6,0l8.6,-8.6M305.9,767.9l8.6,8.6m-8.6,0l8.6,-8.6M284.6,772.4l8.6,8.6m-8.6,0l8.6,-8.6M328.1,757.5l8.6,8.6m-8.6,0l8.6,-8.6M247.9,785.1l8.6,8.6m-8.6,0l8.6,-8.6M326.9,745.1l8.6,8.6m-8.6,0l8.6,-8.6M289.2,770.9l8.6,8.6m-8.6,0l8.6,-8.6M319.3,754.0l8.6,8.6m-8.6,0l8.6,-8.6M279.5,772.9l8.6,8.6m-8.6,0l8.6,-8.6M290.2,757.8l8.6,8.6m-8.6,0l8.6,-8.6M255.0,783.5l8.6,8.6m-8.6,0l8.6,-8.6M306.6,764.4l8.6,8.6m-8.6,0l8.6,-8.6M318.5,756.9l8.6,8.6m-8.6,0l8.6,-8.6M267.1,775.1l8.6,8.6m-8.6,0l8.6,-8.6M249.9,781.1l8.6,8.6m-8.6,0l8.6,-8.6M272.2,767.0l8.6,8.6m-8.6,0l8.6,-8.6M284.3,770.2l8.6,8.6m-8.6,0l8.6,-8.6M322.7,757.0l8.6,8.6m-8.6,0l8.6,-8.6M346.4,746.2l8.6,8.6m-8.6,0l8.6,-8.6M331.1,746.9l8.6,8.6m-8.6,0l8.6,-8.6M277.7,783.1l8.6,8.6m-8.6,0l8.6,-8.6M269.4,771.6l8.6,8.6m-8.6,0l8.6,-8.6M283.1,767.6l8.6,8.6m-8.6,0l8.6,-8.6M264.4,780.7l8.6,8.6m-8.6,0l8.6,-8.6M331.8,753.3l8.6,8.6m-8.6,0l8.6,-8.6M263.5,772.8l8.6,8.6m-8.6,0l8.6,-8.6M338.8,750.4l8.6,8.6m-8.6,0l8.6,-8.6M304.8,765.1l8.6,8.6m-8.6,0l8.6,-8.6M349.3,738.8l8.6,8.6m-8.6,0l8.6,-8.6M306.4,762.4l8.6,8.6m-8.6,0l8.6,-8.6M248.8,781.3l8.6,8.6m-8.6,0l8.6,-8.6M252.2,771.5l8.6,8.6m-8.6,0l8.6,-8.6M259.6,777.4l8.6,8.6m-8.6,0l8.6,-8.6M268.6,773.8l8.6,8.6m-8.6,0l8.6,-8.6M303.4,761.6l8.6,8.6m-8.6,0l8.6,-8.6M349.6,740.8l8.6,8.6m-8.6,0l8.6,-8.6M298.8,764.9l8.6,8.6m-8.6,0l8.6,-8.6M342.9,734.2l8.6,8.6m-8.6,0l8.6,-8.6M335.7,753.7l8.6,8.6m-8.6,0l8.6,-8.6M337.8,740.6l8.6,8.6m-8.6,0l8.6,-8.6M348.4,731.0l8.6,8.6m-8.6,0l8.6,-8.6M331.7,748.5l8.6,8.6m-8.6,0l8.6,-8.6M288.1,768.5l8.6,8.6m-8.6,0l8.6,-8.6M283.0,755.8l8.6,8.6m-8.6,0l8.6,-8.6M264.7,773.9l8.6,8.6m-8.6,0l8.6,-8.6M247.3,796.0l8.6,8.6m-8.6,0l8.6,-8.6M255.7,781.4l8.6,8.6m-8.6,0l8.6,-8.6M248.6,780.0l8.6,8.6m-8.6,0l8.6,-8.6M311.4,764.9l8.6,8.6m-8.6,0l8.6,-8.6M261.1,778.6l8.6,8.6m-8.6,0l8.6,-8.6M270.1,773.3l8.6,8.6m-8.6,0l8.6,-8.6M261.6,776.0l8.6,8.6m-8.6,0l8.6,-8.6M263.0,776.1l8.6,8.6m-8.6,0l8.6,-8.6M333.6,754.6l8.6,8.6m-8.6,0l8.6,-8.6" stroke="#0000ff" stroke-width="2.6" fill="none"/>
<path d="M261.3,791.0l8.6,8.6m-8.6,0l8.6,-8.6M264.7,789.9l8.6,8.6m-8.6,0l8.6,-8.6M299.2,781.4l8.6,8.6m-8.6,0l8.6,-8.6M250.4,795.6l8.6,8.6m-8.6,0l8.6,-8.6M284.3,787.5l8.6,8.6m-8.6,0l8.6,-8.6M263.0,790.1l8.6,8.6m-8.6,0l8.6,-8.6M311.4,783.7l8.6,8.6m-8.6,0l8.6,-8.6M252.1,792.3l8.6,8.6m-8.6,0l8.6,-8.6M279.2,791.0l8.6,8.6m-8.6,0l8.6,-8.6M261.1,792.5l8.6,8.6m-8.6,0l8.6,-8.6M259.7,790.2l8.6,8.6m-8.6,0l8.6,-8.6M271.2,791.7l8.6,8.6m-8.6,0l8.6,-8.6M260.2,794.4l8.6,8.6m-8.6,0l8.6,-8.6M296.5,782.4l8.6,8.6m-8.6,0l8.6,-8.6M310.2,781.3l8.6,8.6m-8.6,0l8.6,-8.6M286.4,781.9l8.6,8.6m-8.6,0l8.6,-8.6M258.0,794.8l8.6,8.6m-8.6,0l8.6,-8.6M307.5,780.1l8.6,8.6m-8.6,0l8.6,-8.6M274.8,786.7l8.6,8.6m-8.6,0l8.6,-8.6M310.0,781.7l8.6,8.6m-8.6,0l8.6,-8.6M250.8,793.4l8.6,8.6m-8.6,0l8.6,-8.6M280.4,779.0l8.6,8.6m-8.6,0l8.6,-8.6M284.6,788.2l8.6,8.6m-8.6,0l8.6,-8.6M284.5,791.4l8.6,8.6m-8.6,0l8.6,-8.6M260.4,789.0l8.6,8.6m-8.6,0l8.6,-8.6M271.8,796.1l8.6,8.6m-8.6,0l8.6,-8.6M267.7,796.1l8.6,8.6m-8.6,0l8.6,-8.6M296.9,786.2l8.6,8.6m-8.6,0l8.6,-8.6M292.3,791.5l8.6,8.6m-8.6,0l8.6,-8.6M276.9,785.1l8.6,8.6m-8.6,0l8.6,-8.6M308.7,783.9l8.6,8.6m-8.6,0l8.6,-8.6M272.3,787.7l8.6,8.6m-8.6,0l8.6,-8.6M302.1,787.5l8.6,8.6m-8.6,0l8.6,-8.6M297.1,786.4l8.6,8.6m-8.6,0l8.6,-8.6M299.3,783.0l8.6,8.6m-8.6,0l8.6,-8.6M274.7,791.9l8.6,8.6m-8.6,0l8.6,-8.6M254.3,801.6l8.6,8.6m-8.6,0l8.6,-8.6M295.4,779.4l8.6,8.6m-8.6,0l8.6,-8.6M267.5,787.1l8.6,8.6m-8.6,0l8.6,-8.6M251.4,794.5l8.6,8.6m-8.6,0l8.6,-8.6" stroke="#0000ff" stroke-width="2.6" fill="none"/>
<path d="M330,766 C333.83,762.67 344.33,753.5 353,746 C361.67,738.5 373.33,728.5 382,721 C390.67,713.5 397.17,708.17 405,701 C412.83,693.83 425,681.83 429,678" fill="none" stroke="#0000ff" stroke-width="14"/>
<path d="M108,899.2 L132.2,886.9 L152.8,872.1 L176.4,851.5 L202.9,832.4 L226.5,816.2 L253,800 L280,786 L300,779.5 L314,774 L334,761.4 L354,749" fill="none" stroke="#ff0000" stroke-width="9.5" stroke-linejoin="round"/>
<path d="M0,0 C0,0 0,0 0,0" fill="none" stroke="#ff0000" stroke-width="0" stroke-linecap="butt" stroke-linejoin="round"/>
<path d="M108,946 C112,943.67 123,938.25 132,932 C141,925.75 149.67,918.92 162,908.5 C174.33,898.08 194.75,879.33 206,869.5 C217.25,859.67 215.5,861.58 229.5,849.5 C243.5,837.42 269.92,814.47 290,797 C310.08,779.53 327.33,764.45 350,744.7 C372.67,724.95 413.33,689.53 426,678.5" fill="none" stroke="#0000ff" stroke-width="6" stroke-linejoin="round"/>
<path d="M108,945.5 C112,943.17 123,937.75 132,931.5 C141,925.25 149.67,918.42 162,908 C174.33,897.58 194.75,878.83 206,869 C217.25,859.17 215.5,861.08 229.5,849 C243.5,836.92 269.92,813.97 290,796.5 C310.08,779.03 327.33,763.95 350,744.2 C372.67,724.45 413.33,689.03 426,678" fill="none" stroke="#00ff00" stroke-width="4.5" stroke-linejoin="round"/>
<path d="M108,951 C112,948.67 123,943.25 132,937 C141,930.75 149.67,923.92 162,913.5 C174.33,903.08 194.75,884.33 206,874.5 C217.25,864.67 215.5,866.58 229.5,854.5 C243.5,842.42 269.92,819.47 290,802 C310.08,784.53 327.33,769.45 350,749.7 C372.67,729.95 413.33,694.53 426,683.5" fill="none" stroke="#ff00ff" stroke-width="3" stroke-linejoin="round"/>
<path d="M108,948.5 C112,946.17 123,940.75 132,934.5 C141,928.25 149.67,921.42 162,911 C174.33,900.58 194.75,881.83 206,872 C217.25,862.17 215.5,864.08 229.5,852 C243.5,839.92 269.92,816.97 290,799.5 C310.08,782.03 327.33,766.95 350,747.2 C372.67,727.45 413.33,692.03 426,681" fill="none" stroke="#000000" stroke-width="3" stroke-linejoin="round"/>
<path d="M352,751 L383,728 L426,692" fill="none" stroke="#ff0000" stroke-width="11.5" stroke-linecap="round" stroke-linejoin="round"/>
<path d="M85.5,671.2 H440.3 V954 H85.5 Z" fill="none" stroke="#1c1c1c" stroke-width="5.6"/>
<line x1="98" y1="954" x2="98" y2="947.5" stroke="#1c1c1c" stroke-width="5" />
<line x1="98" y1="671.2" x2="98" y2="677.7" stroke="#1c1c1c" stroke-width="5" />
<line x1="114.7" y1="954" x2="114.7" y2="947.5" stroke="#1c1c1c" stroke-width="5" />
<line x1="114.7" y1="671.2" x2="114.7" y2="677.7" stroke="#1c1c1c" stroke-width="5" />
<line x1="126.56" y1="954" x2="126.56" y2="947.5" stroke="#1c1c1c" stroke-width="5" />
<line x1="126.56" y1="671.2" x2="126.56" y2="677.7" stroke="#1c1c1c" stroke-width="5" />
<line x1="135.75" y1="954" x2="135.75" y2="947.5" stroke="#1c1c1c" stroke-width="5" />
<line x1="135.75" y1="671.2" x2="135.75" y2="677.7" stroke="#1c1c1c" stroke-width="5" />
<line x1="143.26" y1="954" x2="143.26" y2="947.5" stroke="#1c1c1c" stroke-width="5" />
<line x1="143.26" y1="671.2" x2="143.26" y2="677.7" stroke="#1c1c1c" stroke-width="5" />
<line x1="149.61" y1="954" x2="149.61" y2="947.5" stroke="#1c1c1c" stroke-width="5" />
<line x1="149.61" y1="671.2" x2="149.61" y2="677.7" stroke="#1c1c1c" stroke-width="5" />
<line x1="155.11" y1="954" x2="155.11" y2="947.5" stroke="#1c1c1c" stroke-width="5" />
<line x1="155.11" y1="671.2" x2="155.11" y2="677.7" stroke="#1c1c1c" stroke-width="5" />
<line x1="159.96" y1="954" x2="159.96" y2="947.5" stroke="#1c1c1c" stroke-width="5" />
<line x1="159.96" y1="671.2" x2="159.96" y2="677.7" stroke="#1c1c1c" stroke-width="5" />
<line x1="192.85" y1="954" x2="192.85" y2="947.5" stroke="#1c1c1c" stroke-width="5" />
<line x1="192.85" y1="671.2" x2="192.85" y2="677.7" stroke="#1c1c1c" stroke-width="5" />
<line x1="209.55" y1="954" x2="209.55" y2="947.5" stroke="#1c1c1c" stroke-width="5" />
<line x1="209.55" y1="671.2" x2="209.55" y2="677.7" stroke="#1c1c1c" stroke-width="5" />
<line x1="221.41" y1="954" x2="221.41" y2="947.5" stroke="#1c1c1c" stroke-width="5" />
<line x1="221.41" y1="671.2" x2="221.41" y2="677.7" stroke="#1c1c1c" stroke-width="5" />
<line x1="230.6" y1="954" x2="230.6" y2="947.5" stroke="#1c1c1c" stroke-width="5" />
<line x1="230.6" y1="671.2" x2="230.6" y2="677.7" stroke="#1c1c1c" stroke-width="5" />
<line x1="238.11" y1="954" x2="238.11" y2="947.5" stroke="#1c1c1c" stroke-width="5" />
<line x1="238.11" y1="671.2" x2="238.11" y2="677.7" stroke="#1c1c1c" stroke-width="5" />
<line x1="244.46" y1="954" x2="244.46" y2="947.5" stroke="#1c1c1c" stroke-width="5" />
<line x1="244.46" y1="671.2" x2="244.46" y2="677.7" stroke="#1c1c1c" stroke-width="5" />
<line x1="249.96" y1="954" x2="249.96" y2="947.5" stroke="#1c1c1c" stroke-width="5" />
<line x1="249.96" y1="671.2" x2="249.96" y2="677.7" stroke="#1c1c1c" stroke-width="5" />
<line x1="254.81" y1="954" x2="254.81" y2="947.5" stroke="#1c1c1c" stroke-width="5" />
<line x1="254.81" y1="671.2" x2="254.81" y2="677.7" stroke="#1c1c1c" stroke-width="5" />
<line x1="287.7" y1="954" x2="287.7" y2="947.5" stroke="#1c1c1c" stroke-width="5" />
<line x1="287.7" y1="671.2" x2="287.7" y2="677.7" stroke="#1c1c1c" stroke-width="5" />
<line x1="304.4" y1="954" x2="304.4" y2="947.5" stroke="#1c1c1c" stroke-width="5" />
<line x1="304.4" y1="671.2" x2="304.4" y2="677.7" stroke="#1c1c1c" stroke-width="5" />
<line x1="316.26" y1="954" x2="316.26" y2="947.5" stroke="#1c1c1c" stroke-width="5" />
<line x1="316.26" y1="671.2" x2="316.26" y2="677.7" stroke="#1c1c1c" stroke-width="5" />
<line x1="325.45" y1="954" x2="325.45" y2="947.5" stroke="#1c1c1c" stroke-width="5" />
<line x1="325.45" y1="671.2" x2="325.45" y2="677.7" stroke="#1c1c1c" stroke-width="5" />
<line x1="332.96" y1="954" x2="332.96" y2="947.5" stroke="#1c1c1c" stroke-width="5" />
<line x1="332.96" y1="671.2" x2="332.96" y2="677.7" stroke="#1c1c1c" stroke-width="5" />
<line x1="339.31" y1="954" x2="339.31" y2="947.5" stroke="#1c1c1c" stroke-width="5" />
<line x1="339.31" y1="671.2" x2="339.31" y2="677.7" stroke="#1c1c1c" stroke-width="5" />
<line x1="344.81" y1="954" x2="344.81" y2="947.5" stroke="#1c1c1c" stroke-width="5" />
<line x1="344.81" y1="671.2" x2="344.81" y2="677.7" stroke="#1c1c1c" stroke-width="5" />
<line x1="349.66" y1="954" x2="349.66" y2="947.5" stroke="#1c1c1c" stroke-width="5" />
<line x1="349.66" y1="671.2" x2="349.66" y2="677.7" stroke="#1c1c1c" stroke-width="5" />
<line x1="382.55" y1="954" x2="382.55" y2="947.5" stroke="#1c1c1c" stroke-width="5" />
<line x1="382.55" y1="671.2" x2="382.55" y2="677.7" stroke="#1c1c1c" stroke-width="5" />
<line x1="399.25" y1="954" x2="399.25" y2="947.5" stroke="#1c1c1c" stroke-width="5" />
<line x1="399.25" y1="671.2" x2="399.25" y2="677.7" stroke="#1c1c1c" stroke-width="5" />
<line x1="411.11" y1="954" x2="411.11" y2="947.5" stroke="#1c1c1c" stroke-width="5" />
<line x1="411.11" y1="671.2" x2="411.11" y2="677.7" stroke="#1c1c1c" stroke-width="5" />
<line x1="420.3" y1="954" x2="420.3" y2="947.5" stroke="#1c1c1c" stroke-width="5" />
<line x1="420.3" y1="671.2" x2="420.3" y2="677.7" stroke="#1c1c1c" stroke-width="5" />
<line x1="427.81" y1="954" x2="427.81" y2="947.5" stroke="#1c1c1c" stroke-width="5" />
<line x1="427.81" y1="671.2" x2="427.81" y2="677.7" stroke="#1c1c1c" stroke-width="5" />
<line x1="434.16" y1="954" x2="434.16" y2="947.5" stroke="#1c1c1c" stroke-width="5" />
<line x1="434.16" y1="671.2" x2="434.16" y2="677.7" stroke="#1c1c1c" stroke-width="5" />
<line x1="164.3" y1="954" x2="164.3" y2="943" stroke="#1c1c1c" stroke-width="5" />
<line x1="164.3" y1="671.2" x2="164.3" y2="682.2" stroke="#1c1c1c" stroke-width="5" />
<line x1="259.15" y1="954" x2="259.15" y2="943" stroke="#1c1c1c" stroke-width="5" />
<line x1="259.15" y1="671.2" x2="259.15" y2="682.2" stroke="#1c1c1c" stroke-width="5" />
<line x1="354" y1="954" x2="354" y2="943" stroke="#1c1c1c" stroke-width="5" />
<line x1="354" y1="671.2" x2="354" y2="682.2" stroke="#1c1c1c" stroke-width="5" />
<line x1="85.5" y1="950.12" x2="91.5" y2="950.12" stroke="#1c1c1c" stroke-width="4.5" />
<line x1="440.3" y1="950.12" x2="434.3" y2="950.12" stroke="#1c1c1c" stroke-width="4.5" />
<line x1="85.5" y1="947.55" x2="91.5" y2="947.55" stroke="#1c1c1c" stroke-width="4.5" />
<line x1="440.3" y1="947.55" x2="434.3" y2="947.55" stroke="#1c1c1c" stroke-width="4.5" />
<line x1="85.5" y1="930.62" x2="91.5" y2="930.62" stroke="#1c1c1c" stroke-width="4.5" />
<line x1="440.3" y1="930.62" x2="434.3" y2="930.62" stroke="#1c1c1c" stroke-width="4.5" />
<line x1="85.5" y1="920.71" x2="91.5" y2="920.71" stroke="#1c1c1c" stroke-width="4.5" />
<line x1="440.3" y1="920.71" x2="434.3" y2="920.71" stroke="#1c1c1c" stroke-width="4.5" />
<line x1="85.5" y1="913.68" x2="91.5" y2="913.68" stroke="#1c1c1c" stroke-width="4.5" />
<line x1="440.3" y1="913.68" x2="434.3" y2="913.68" stroke="#1c1c1c" stroke-width="4.5" />
<line x1="85.5" y1="908.23" x2="91.5" y2="908.23" stroke="#1c1c1c" stroke-width="4.5" />
<line x1="440.3" y1="908.23" x2="434.3" y2="908.23" stroke="#1c1c1c" stroke-width="4.5" />
<line x1="85.5" y1="903.78" x2="91.5" y2="903.78" stroke="#1c1c1c" stroke-width="4.5" />
<line x1="440.3" y1="903.78" x2="434.3" y2="903.78" stroke="#1c1c1c" stroke-width="4.5" />
<line x1="85.5" y1="900.01" x2="91.5" y2="900.01" stroke="#1c1c1c" stroke-width="4.5" />
<line x1="440.3" y1="900.01" x2="434.3" y2="900.01" stroke="#1c1c1c" stroke-width="4.5" />
<line x1="85.5" y1="896.75" x2="91.5" y2="896.75" stroke="#1c1c1c" stroke-width="4.5" />
<line x1="440.3" y1="896.75" x2="434.3" y2="896.75" stroke="#1c1c1c" stroke-width="4.5" />
<line x1="85.5" y1="893.87" x2="91.5" y2="893.87" stroke="#1c1c1c" stroke-width="4.5" />
<line x1="440.3" y1="893.87" x2="434.3" y2="893.87" stroke="#1c1c1c" stroke-width="4.5" />
<line x1="85.5" y1="891.3" x2="95.5" y2="891.3" stroke="#1c1c1c" stroke-width="5" />
<line x1="440.3" y1="891.3" x2="430.3" y2="891.3" stroke="#1c1c1c" stroke-width="5" />
<line x1="85.5" y1="874.37" x2="91.5" y2="874.37" stroke="#1c1c1c" stroke-width="4.5" />
<line x1="440.3" y1="874.37" x2="434.3" y2="874.37" stroke="#1c1c1c" stroke-width="4.5" />
<line x1="85.5" y1="864.46" x2="91.5" y2="864.46" stroke="#1c1c1c" stroke-width="4.5" />
<line x1="440.3" y1="864.46" x2="434.3" y2="864.46" stroke="#1c1c1c" stroke-width="4.5" />
<line x1="85.5" y1="857.43" x2="91.5" y2="857.43" stroke="#1c1c1c" stroke-width="4.5" />
<line x1="440.3" y1="857.43" x2="434.3" y2="857.43" stroke="#1c1c1c" stroke-width="4.5" />
<line x1="85.5" y1="851.98" x2="91.5" y2="851.98" stroke="#1c1c1c" stroke-width="4.5" />
<line x1="440.3" y1="851.98" x2="434.3" y2="851.98" stroke="#1c1c1c" stroke-width="4.5" />
<line x1="85.5" y1="847.53" x2="91.5" y2="847.53" stroke="#1c1c1c" stroke-width="4.5" />
<line x1="440.3" y1="847.53" x2="434.3" y2="847.53" stroke="#1c1c1c" stroke-width="4.5" />
<line x1="85.5" y1="843.76" x2="91.5" y2="843.76" stroke="#1c1c1c" stroke-width="4.5" />
<line x1="440.3" y1="843.76" x2="434.3" y2="843.76" stroke="#1c1c1c" stroke-width="4.5" />
<line x1="85.5" y1="840.5" x2="91.5" y2="840.5" stroke="#1c1c1c" stroke-width="4.5" />
<line x1="440.3" y1="840.5" x2="434.3" y2="840.5" stroke="#1c1c1c" stroke-width="4.5" />
<line x1="85.5" y1="837.62" x2="91.5" y2="837.62" stroke="#1c1c1c" stroke-width="4.5" />
<line x1="440.3" y1="837.62" x2="434.3" y2="837.62" stroke="#1c1c1c" stroke-width="4.5" />
<line x1="85.5" y1="835.05" x2="91.5" y2="835.05" stroke="#1c1c1c" stroke-width="4.5" />
<line x1="440.3" y1="835.05" x2="434.3" y2="835.05" stroke="#1c1c1c" stroke-width="4.5" />
<line x1="85.5" y1="818.12" x2="91.5" y2="818.12" stroke="#1c1c1c" stroke-width="4.5" />
<line x1="440.3" y1="818.12" x2="434.3" y2="818.12" stroke="#1c1c1c" stroke-width="4.5" />
<line x1="85.5" y1="808.21" x2="91.5" y2="808.21" stroke="#1c1c1c" stroke-width="4.5" />
<line x1="440.3" y1="808.21" x2="434.3" y2="808.21" stroke="#1c1c1c" stroke-width="4.5" />
<line x1="85.5" y1="801.18" x2="91.5" y2="801.18" stroke="#1c1c1c" stroke-width="4.5" />
<line x1="440.3" y1="801.18" x2="434.3" y2="801.18" stroke="#1c1c1c" stroke-width="4.5" />
<line x1="85.5" y1="795.73" x2="91.5" y2="795.73" stroke="#1c1c1c" stroke-width="4.5" />
<line x1="440.3" y1="795.73" x2="434.3" y2="795.73" stroke="#1c1c1c" stroke-width="4.5" />
<line x1="85.5" y1="791.28" x2="91.5" y2="791.28" stroke="#1c1c1c" stroke-width="4.5" />
<line x1="440.3" y1="791.28" x2="434.3" y2="791.28" stroke="#1c1c1c" stroke-width="4.5" />
<line x1="85.5" y1="787.51" x2="91.5" y2="787.51" stroke="#1c1c1c" stroke-width="4.5" />
<line x1="440.3" y1="787.51" x2="434.3" y2="787.51" stroke="#1c1c1c" stroke-width="4.5" />
<line x1="85.5" y1="784.25" x2="91.5" y2="784.25" stroke="#1c1c1c" stroke-width="4.5" />
<line x1="440.3" y1="784.25" x2="434.3" y2="784.25" stroke="#1c1c1c" stroke-width="4.5" />
<line x1="85.5" y1="781.37" x2="91.5" y2="781.37" stroke="#1c1c1c" stroke-width="4.5" />
<line x1="440.3" y1="781.37" x2="434.3" y2="781.37" stroke="#1c1c1c" stroke-width="4.5" />
<line x1="85.5" y1="778.8" x2="95.5" y2="778.8" stroke="#1c1c1c" stroke-width="5" />
<line x1="440.3" y1="778.8" x2="430.3" y2="778.8" stroke="#1c1c1c" stroke-width="5" />
<line x1="85.5" y1="761.87" x2="91.5" y2="761.87" stroke="#1c1c1c" stroke-width="4.5" />
<line x1="440.3" y1="761.87" x2="434.3" y2="761.87" stroke="#1c1c1c" stroke-width="4.5" />
<line x1="85.5" y1="751.96" x2="91.5" y2="751.96" stroke="#1c1c1c" stroke-width="4.5" />
<line x1="440.3" y1="751.96" x2="434.3" y2="751.96" stroke="#1c1c1c" stroke-width="4.5" />
<line x1="85.5" y1="744.93" x2="91.5" y2="744.93" stroke="#1c1c1c" stroke-width="4.5" />
<line x1="440.3" y1="744.93" x2="434.3" y2="744.93" stroke="#1c1c1c" stroke-width="4.5" />
<line x1="85.5" y1="739.48" x2="91.5" y2="739.48" stroke="#1c1c1c" stroke-width="4.5" />
<line x1="440.3" y1="739.48" x2="434.3" y2="739.48" stroke="#1c1c1c" stroke-width="4.5" />
<line x1="85.5" y1="735.03" x2="91.5" y2="735.03" stroke="#1c1c1c" stroke-width="4.5" />
<line x1="440.3" y1="735.03" x2="434.3" y2="735.03" stroke="#1c1c1c" stroke-width="4.5" />
<line x1="85.5" y1="731.26" x2="91.5" y2="731.26" stroke="#1c1c1c" stroke-width="4.5" />
<line x1="440.3" y1="731.26" x2="434.3" y2="731.26" stroke="#1c1c1c" stroke-width="4.5" />
<line x1="85.5" y1="728" x2="91.5" y2="728" stroke="#1c1c1c" stroke-width="4.5" />
<line x1="440.3" y1="728" x2="434.3" y2="728" stroke="#1c1c1c" stroke-width="4.5" />
<line x1="85.5" y1="725.12" x2="91.5" y2="725.12" stroke="#1c1c1c" stroke-width="4.5" />
<line x1="440.3" y1="725.12" x2="434.3" y2="725.12" stroke="#1c1c1c" stroke-width="4.5" />
<line x1="85.5" y1="722.55" x2="91.5" y2="722.55" stroke="#1c1c1c" stroke-width="4.5" />
<line x1="440.3" y1="722.55" x2="434.3" y2="722.55" stroke="#1c1c1c" stroke-width="4.5" />
<line x1="85.5" y1="705.62" x2="91.5" y2="705.62" stroke="#1c1c1c" stroke-width="4.5" />
<line x1="440.3" y1="705.62" x2="434.3" y2="705.62" stroke="#1c1c1c" stroke-width="4.5" />
<line x1="85.5" y1="695.71" x2="91.5" y2="695.71" stroke="#1c1c1c" stroke-width="4.5" />
<line x1="440.3" y1="695.71" x2="434.3" y2="695.71" stroke="#1c1c1c" stroke-width="4.5" />
<line x1="85.5" y1="688.68" x2="91.5" y2="688.68" stroke="#1c1c1c" stroke-width="4.5" />
<line x1="440.3" y1="688.68" x2="434.3" y2="688.68" stroke="#1c1c1c" stroke-width="4.5" />
<line x1="85.5" y1="683.23" x2="91.5" y2="683.23" stroke="#1c1c1c" stroke-width="4.5" />
<line x1="440.3" y1="683.23" x2="434.3" y2="683.23" stroke="#1c1c1c" stroke-width="4.5" />
<line x1="85.5" y1="678.78" x2="91.5" y2="678.78" stroke="#1c1c1c" stroke-width="4.5" />
<line x1="440.3" y1="678.78" x2="434.3" y2="678.78" stroke="#1c1c1c" stroke-width="4.5" />
<line x1="85.5" y1="675.01" x2="91.5" y2="675.01" stroke="#1c1c1c" stroke-width="4.5" />
<line x1="440.3" y1="675.01" x2="434.3" y2="675.01" stroke="#1c1c1c" stroke-width="4.5" />
<rect x="352" y="671.7" width="91.1" height="282.3" fill="rgba(185,185,185,0.34)" />
<rect x="317.5" y="793.4" width="105.3" height="142.4" fill="#fff" stroke="#1c1c1c" stroke-width="5" />
<circle cx="330" cy="806.4" r="2.3" fill="#0000ff"/>
<text x="341.5" y="812.9" font-size="19.2" font-family='"Liberation Sans", sans-serif' fill="#000" >Data</text>
<line x1="320" y1="829.5" x2="339.5" y2="829.5" stroke="#ff0000" stroke-width="7.5" />
<text x="341" y="836.4" font-size="19.2" font-family='"Liberation Sans", sans-serif' fill="#000" >1 Term(s)</text>
<line x1="320" y1="853" x2="339.5" y2="853" stroke="#0000ff" stroke-width="7.5" />
<text x="341" y="859.9" font-size="19.2" font-family='"Liberation Sans", sans-serif' fill="#000" >2 Term(s)</text>
<line x1="320" y1="876.5" x2="339.5" y2="876.5" stroke="#00ff00" stroke-width="6" />
<text x="341" y="883.4" font-size="19.2" font-family='"Liberation Sans", sans-serif' fill="#000" >3 Term(s)</text>
<line x1="320" y1="900" x2="339.5" y2="900" stroke="#ff00ff" stroke-width="5" />
<text x="341" y="906.9" font-size="19.2" font-family='"Liberation Sans", sans-serif' fill="#000" >4 Term(s)</text>
<line x1="320" y1="923.5" x2="339.5" y2="923.5" stroke="#000000" stroke-width="5" />
<text x="341" y="930.4" font-size="19.2" font-family='"Liberation Sans", sans-serif' fill="#000" >5 Term(s)</text>
<text x="164.3" y="987" font-size="21.5" font-family='"Liberation Sans", sans-serif' text-anchor="middle">10<tspan dy="-10.3" font-size="17">-4</tspan></text>
<text x="259.15" y="987" font-size="21.5" font-family='"Liberation Sans", sans-serif' text-anchor="middle">10<tspan dy="-10.3" font-size="17">-3</tspan></text>
<text x="354" y="987" font-size="21.5" font-family='"Liberation Sans", sans-serif' text-anchor="middle">10<tspan dy="-10.3" font-size="17">-2</tspan></text>
<text x="80.5" y="790.4" font-size="21.5" font-family='"Liberation Sans", sans-serif' text-anchor="end">10<tspan dy="-10.3" font-size="17">-8</tspan></text>
<text x="80.5" y="902.9" font-size="21.5" font-family='"Liberation Sans", sans-serif' text-anchor="end">10<tspan dy="-10.3" font-size="17">-10</tspan></text>
<text x="263.2" y="1011" font-size="23" font-family='"Liberation Serif", serif' text-anchor="middle">Time [<tspan font-style="italic">s</tspan>]</text>
<text transform="translate(25,812.9) rotate(-90)" font-size="24" font-family='"Liberation Serif", serif' text-anchor="middle" textLength="306" lengthAdjust="spacing">∫<tspan font-size="14" dy="5">0</tspan><tspan font-size="14" font-style="italic" dy="-16" dx="-7">t</tspan><tspan dy="11" dx="3" font-style="italic">Q</tspan>(<tspan font-style="italic">t</tspan> − <tspan font-style="italic">ξ</tspan>)<tspan font-style="italic">h</tspan><tspan font-size="15" dy="-9">3/2</tspan><tspan dy="9">(</tspan><tspan font-style="italic">ξ</tspan>)<tspan font-style="italic">dξ</tspan> [<tspan font-style="italic">N</tspan>/√(<tspan font-style="italic">m</tspan>)]</text>
<text x="395" y="651" font-size="45.5" font-family='"Liberation Sans", sans-serif' fill="#000" font-weight="bold" >(c)</text>
<line x1="611.9" y1="674.7" x2="611.9" y2="951.3" stroke="#c9c9c9" stroke-width="5" stroke-dasharray="5 5.3" stroke-dashoffset="-1.5"/>
<line x1="628.45" y1="674.7" x2="628.45" y2="951.3" stroke="#c9c9c9" stroke-width="5" stroke-dasharray="5 5.3" stroke-dashoffset="-1.5"/>
<line x1="640.19" y1="674.7" x2="640.19" y2="951.3" stroke="#c9c9c9" stroke-width="5" stroke-dasharray="5 5.3" stroke-dashoffset="-1.5"/>
<line x1="649.3" y1="674.7" x2="649.3" y2="951.3" stroke="#c9c9c9" stroke-width="5" stroke-dasharray="5 5.3" stroke-dashoffset="-1.5"/>
<line x1="656.75" y1="674.7" x2="656.75" y2="951.3" stroke="#c9c9c9" stroke-width="5" stroke-dasharray="5 5.3" stroke-dashoffset="-1.5"/>
<line x1="663.04" y1="674.7" x2="663.04" y2="951.3" stroke="#c9c9c9" stroke-width="5" stroke-dasharray="5 5.3" stroke-dashoffset="-1.5"/>
<line x1="668.49" y1="674.7" x2="668.49" y2="951.3" stroke="#c9c9c9" stroke-width="5" stroke-dasharray="5 5.3" stroke-dashoffset="-1.5"/>
<line x1="673.3" y1="674.7" x2="673.3" y2="951.3" stroke="#c9c9c9" stroke-width="5" stroke-dasharray="5 5.3" stroke-dashoffset="-1.5"/>
<line x1="705.9" y1="674.7" x2="705.9" y2="951.3" stroke="#c9c9c9" stroke-width="5" stroke-dasharray="5 5.3" stroke-dashoffset="-1.5"/>
<line x1="722.45" y1="674.7" x2="722.45" y2="951.3" stroke="#c9c9c9" stroke-width="5" stroke-dasharray="5 5.3" stroke-dashoffset="-1.5"/>
<line x1="734.19" y1="674.7" x2="734.19" y2="951.3" stroke="#c9c9c9" stroke-width="5" stroke-dasharray="5 5.3" stroke-dashoffset="-1.5"/>
<line x1="743.3" y1="674.7" x2="743.3" y2="951.3" stroke="#c9c9c9" stroke-width="5" stroke-dasharray="5 5.3" stroke-dashoffset="-1.5"/>
<line x1="750.75" y1="674.7" x2="750.75" y2="951.3" stroke="#c9c9c9" stroke-width="5" stroke-dasharray="5 5.3" stroke-dashoffset="-1.5"/>
<line x1="757.04" y1="674.7" x2="757.04" y2="951.3" stroke="#c9c9c9" stroke-width="5" stroke-dasharray="5 5.3" stroke-dashoffset="-1.5"/>
<line x1="762.49" y1="674.7" x2="762.49" y2="951.3" stroke="#c9c9c9" stroke-width="5" stroke-dasharray="5 5.3" stroke-dashoffset="-1.5"/>
<line x1="767.3" y1="674.7" x2="767.3" y2="951.3" stroke="#c9c9c9" stroke-width="5" stroke-dasharray="5 5.3" stroke-dashoffset="-1.5"/>
<line x1="799.9" y1="674.7" x2="799.9" y2="951.3" stroke="#c9c9c9" stroke-width="5" stroke-dasharray="5 5.3" stroke-dashoffset="-1.5"/>
<line x1="816.45" y1="674.7" x2="816.45" y2="951.3" stroke="#c9c9c9" stroke-width="5" stroke-dasharray="5 5.3" stroke-dashoffset="-1.5"/>
<line x1="828.19" y1="674.7" x2="828.19" y2="951.3" stroke="#c9c9c9" stroke-width="5" stroke-dasharray="5 5.3" stroke-dashoffset="-1.5"/>
<line x1="837.3" y1="674.7" x2="837.3" y2="951.3" stroke="#c9c9c9" stroke-width="5" stroke-dasharray="5 5.3" stroke-dashoffset="-1.5"/>
<line x1="844.75" y1="674.7" x2="844.75" y2="951.3" stroke="#c9c9c9" stroke-width="5" stroke-dasharray="5 5.3" stroke-dashoffset="-1.5"/>
<line x1="851.04" y1="674.7" x2="851.04" y2="951.3" stroke="#c9c9c9" stroke-width="5" stroke-dasharray="5 5.3" stroke-dashoffset="-1.5"/>
<line x1="856.49" y1="674.7" x2="856.49" y2="951.3" stroke="#c9c9c9" stroke-width="5" stroke-dasharray="5 5.3" stroke-dashoffset="-1.5"/>
<line x1="861.3" y1="674.7" x2="861.3" y2="951.3" stroke="#c9c9c9" stroke-width="5" stroke-dasharray="5 5.3" stroke-dashoffset="-1.5"/>
<line x1="893.9" y1="674.7" x2="893.9" y2="951.3" stroke="#c9c9c9" stroke-width="5" stroke-dasharray="5 5.3" stroke-dashoffset="-1.5"/>
<line x1="910.45" y1="674.7" x2="910.45" y2="951.3" stroke="#c9c9c9" stroke-width="5" stroke-dasharray="5 5.3" stroke-dashoffset="-1.5"/>
<line x1="922.19" y1="674.7" x2="922.19" y2="951.3" stroke="#c9c9c9" stroke-width="5" stroke-dasharray="5 5.3" stroke-dashoffset="-1.5"/>
<line x1="931.3" y1="674.7" x2="931.3" y2="951.3" stroke="#c9c9c9" stroke-width="5" stroke-dasharray="5 5.3" stroke-dashoffset="-1.5"/>
<line x1="677.6" y1="671.2" x2="677.6" y2="954.8" stroke="#e4e4e4" stroke-width="4.6" />
<line x1="771.6" y1="671.2" x2="771.6" y2="954.8" stroke="#e4e4e4" stroke-width="4.6" />
<line x1="865.6" y1="671.2" x2="865.6" y2="954.8" stroke="#e4e4e4" stroke-width="4.6" />
<line x1="584.3" y1="771.7" x2="939" y2="771.7" stroke="#e4e4e4" stroke-width="4.2" />
<line x1="584.3" y1="879.3" x2="939" y2="879.3" stroke="#e4e4e4" stroke-width="4.2" />
<path d="M616.6,882.0l8.6,8.6m-8.6,0l8.6,-8.6" stroke="#0000ff" stroke-width="2.6" fill="none"/>
<path d="M644.6,859.0l8.6,8.6m-8.6,0l8.6,-8.6" stroke="#0000ff" stroke-width="2.6" fill="none"/>
<path d="M661.7,839.0l8.6,8.6m-8.6,0l8.6,-8.6" stroke="#0000ff" stroke-width="2.6" fill="none"/>
<path d="M672.6,829.5l8.6,8.6m-8.6,0l8.6,-8.6" stroke="#0000ff" stroke-width="2.6" fill="none"/>
<path d="M681.5,823.7l8.6,8.6m-8.6,0l8.6,-8.6" stroke="#0000ff" stroke-width="2.6" fill="none"/>
<path d="M690.3,814.8l8.6,8.6m-8.6,0l8.6,-8.6" stroke="#0000ff" stroke-width="2.6" fill="none"/>
<path d="M697.1,813.3l8.6,8.6m-8.6,0l8.6,-8.6" stroke="#0000ff" stroke-width="2.6" fill="none"/>
<path d="M701.5,826.6l8.6,8.6m-8.6,0l8.6,-8.6" stroke="#0000ff" stroke-width="2.6" fill="none"/>
<path d="M706.5,847.2l8.6,8.6m-8.6,0l8.6,-8.6" stroke="#0000ff" stroke-width="2.6" fill="none"/>
<path d="M719.7,822.2l8.6,8.6m-8.6,0l8.6,-8.6" stroke="#0000ff" stroke-width="2.6" fill="none"/>
<path d="M724.2,808.9l8.6,8.6m-8.6,0l8.6,-8.6" stroke="#0000ff" stroke-width="2.6" fill="none"/>
<path d="M730.1,806.0l8.6,8.6m-8.6,0l8.6,-8.6" stroke="#0000ff" stroke-width="2.6" fill="none"/>
<path d="M733.0,811.9l8.6,8.6m-8.6,0l8.6,-8.6" stroke="#0000ff" stroke-width="2.6" fill="none"/>
<path d="M738.9,856.1l8.6,8.6m-8.6,0l8.6,-8.6" stroke="#0000ff" stroke-width="2.6" fill="none"/>
<path d="M744.8,800.1l8.6,8.6m-8.6,0l8.6,-8.6" stroke="#0000ff" stroke-width="2.6" fill="none"/>
<path d="M750.7,844.3l8.6,8.6m-8.6,0l8.6,-8.6" stroke="#0000ff" stroke-width="2.6" fill="none"/>
<path d="M755.1,803.0l8.6,8.6m-8.6,0l8.6,-8.6" stroke="#0000ff" stroke-width="2.6" fill="none"/>
<path d="M762.5,814.8l8.6,8.6m-8.6,0l8.6,-8.6" stroke="#0000ff" stroke-width="2.6" fill="none"/>
<path d="M774.3,820.7l8.6,8.6m-8.6,0l8.6,-8.6" stroke="#0000ff" stroke-width="2.6" fill="none"/>
<path d="M715.7,815.7l8.6,8.6m-8.6,0l8.6,-8.6" stroke="#0000ff" stroke-width="2.6" fill="none"/>
<path d="M727.7,800.7l8.6,8.6m-8.6,0l8.6,-8.6" stroke="#0000ff" stroke-width="2.6" fill="none"/>
<path d="M740.7,807.7l8.6,8.6m-8.6,0l8.6,-8.6" stroke="#0000ff" stroke-width="2.6" fill="none"/>
<path d="M807.9,781.7l8.6,8.6m-8.6,0l8.6,-8.6M766.0,805.2l8.6,8.6m-8.6,0l8.6,-8.6M791.1,791.4l8.6,8.6m-8.6,0l8.6,-8.6M815.1,773.1l8.6,8.6m-8.6,0l8.6,-8.6M778.1,804.6l8.6,8.6m-8.6,0l8.6,-8.6M772.4,812.0l8.6,8.6m-8.6,0l8.6,-8.6M773.1,801.7l8.6,8.6m-8.6,0l8.6,-8.6M835.6,764.9l8.6,8.6m-8.6,0l8.6,-8.6M773.0,802.8l8.6,8.6m-8.6,0l8.6,-8.6M851.8,752.4l8.6,8.6m-8.6,0l8.6,-8.6M775.2,804.1l8.6,8.6m-8.6,0l8.6,-8.6M818.1,777.2l8.6,8.6m-8.6,0l8.6,-8.6M824.0,773.9l8.6,8.6m-8.6,0l8.6,-8.6M800.3,793.2l8.6,8.6m-8.6,0l8.6,-8.6M817.4,775.3l8.6,8.6m-8.6,0l8.6,-8.6M830.7,769.2l8.6,8.6m-8.6,0l8.6,-8.6M849.6,750.8l8.6,8.6m-8.6,0l8.6,-8.6M826.4,773.8l8.6,8.6m-8.6,0l8.6,-8.6M774.4,798.6l8.6,8.6m-8.6,0l8.6,-8.6M835.3,767.0l8.6,8.6m-8.6,0l8.6,-8.6M769.7,801.8l8.6,8.6m-8.6,0l8.6,-8.6M784.8,798.1l8.6,8.6m-8.6,0l8.6,-8.6M800.9,791.4l8.6,8.6m-8.6,0l8.6,-8.6M782.2,801.4l8.6,8.6m-8.6,0l8.6,-8.6M767.8,802.6l8.6,8.6m-8.6,0l8.6,-8.6M770.1,809.7l8.6,8.6m-8.6,0l8.6,-8.6M782.9,786.8l8.6,8.6m-8.6,0l8.6,-8.6M809.9,783.9l8.6,8.6m-8.6,0l8.6,-8.6M782.4,797.2l8.6,8.6m-8.6,0l8.6,-8.6M832.3,769.2l8.6,8.6m-8.6,0l8.6,-8.6M765.2,807.8l8.6,8.6m-8.6,0l8.6,-8.6M784.5,791.4l8.6,8.6m-8.6,0l8.6,-8.6M769.8,819.9l8.6,8.6m-8.6,0l8.6,-8.6M807.3,779.7l8.6,8.6m-8.6,0l8.6,-8.6M795.3,793.6l8.6,8.6m-8.6,0l8.6,-8.6M785.9,790.7l8.6,8.6m-8.6,0l8.6,-8.6M808.0,781.8l8.6,8.6m-8.6,0l8.6,-8.6M840.5,767.9l8.6,8.6m-8.6,0l8.6,-8.6M792.9,790.7l8.6,8.6m-8.6,0l8.6,-8.6M811.5,790.0l8.6,8.6m-8.6,0l8.6,-8.6M825.4,769.2l8.6,8.6m-8.6,0l8.6,-8.6M825.9,774.2l8.6,8.6m-8.6,0l8.6,-8.6M779.1,798.2l8.6,8.6m-8.6,0l8.6,-8.6M806.0,786.3l8.6,8.6m-8.6,0l8.6,-8.6M815.0,787.0l8.6,8.6m-8.6,0l8.6,-8.6M830.9,761.5l8.6,8.6m-8.6,0l8.6,-8.6M818.8,777.7l8.6,8.6m-8.6,0l8.6,-8.6M795.4,784.4l8.6,8.6m-8.6,0l8.6,-8.6M829.6,774.2l8.6,8.6m-8.6,0l8.6,-8.6M844.3,758.3l8.6,8.6m-8.6,0l8.6,-8.6M844.4,751.1l8.6,8.6m-8.6,0l8.6,-8.6M796.9,786.3l8.6,8.6m-8.6,0l8.6,-8.6M795.7,794.8l8.6,8.6m-8.6,0l8.6,-8.6M813.4,776.6l8.6,8.6m-8.6,0l8.6,-8.6M776.8,799.9l8.6,8.6m-8.6,0l8.6,-8.6M786.7,791.0l8.6,8.6m-8.6,0l8.6,-8.6M794.9,791.8l8.6,8.6m-8.6,0l8.6,-8.6M793.9,792.7l8.6,8.6m-8.6,0l8.6,-8.6M832.0,770.0l8.6,8.6m-8.6,0l8.6,-8.6M768.2,804.6l8.6,8.6m-8.6,0l8.6,-8.6M802.9,782.6l8.6,8.6m-8.6,0l8.6,-8.6M785.7,792.0l8.6,8.6m-8.6,0l8.6,-8.6M843.8,753.1l8.6,8.6m-8.6,0l8.6,-8.6M783.0,799.6l8.6,8.6m-8.6,0l8.6,-8.6M787.0,790.0l8.6,8.6m-8.6,0l8.6,-8.6M779.7,799.1l8.6,8.6m-8.6,0l8.6,-8.6M820.1,775.4l8.6,8.6m-8.6,0l8.6,-8.6M840.5,765.1l8.6,8.6m-8.6,0l8.6,-8.6M785.8,796.1l8.6,8.6m-8.6,0l8.6,-8.6M824.9,767.7l8.6,8.6m-8.6,0l8.6,-8.6M848.7,751.8l8.6,8.6m-8.6,0l8.6,-8.6M828.1,764.8l8.6,8.6m-8.6,0l8.6,-8.6M808.6,780.6l8.6,8.6m-8.6,0l8.6,-8.6M785.6,797.9l8.6,8.6m-8.6,0l8.6,-8.6M785.5,795.6l8.6,8.6m-8.6,0l8.6,-8.6M846.0,752.5l8.6,8.6m-8.6,0l8.6,-8.6M801.5,790.1l8.6,8.6m-8.6,0l8.6,-8.6M777.4,799.0l8.6,8.6m-8.6,0l8.6,-8.6M838.5,762.3l8.6,8.6m-8.6,0l8.6,-8.6M818.2,770.8l8.6,8.6m-8.6,0l8.6,-8.6M800.7,783.3l8.6,8.6m-8.6,0l8.6,-8.6M833.5,766.3l8.6,8.6m-8.6,0l8.6,-8.6M782.4,801.7l8.6,8.6m-8.6,0l8.6,-8.6M771.9,804.0l8.6,8.6m-8.6,0l8.6,-8.6M842.0,755.4l8.6,8.6m-8.6,0l8.6,-8.6M790.7,796.7l8.6,8.6m-8.6,0l8.6,-8.6M841.4,762.0l8.6,8.6m-8.6,0l8.6,-8.6M766.9,814.4l8.6,8.6m-8.6,0l8.6,-8.6M765.3,810.3l8.6,8.6m-8.6,0l8.6,-8.6M790.1,797.6l8.6,8.6m-8.6,0l8.6,-8.6M780.9,801.6l8.6,8.6m-8.6,0l8.6,-8.6M775.5,798.2l8.6,8.6m-8.6,0l8.6,-8.6M812.2,773.6l8.6,8.6m-8.6,0l8.6,-8.6M834.6,763.0l8.6,8.6m-8.6,0l8.6,-8.6M820.7,771.2l8.6,8.6m-8.6,0l8.6,-8.6M802.0,783.0l8.6,8.6m-8.6,0l8.6,-8.6M826.5,773.4l8.6,8.6m-8.6,0l8.6,-8.6M839.9,758.5l8.6,8.6m-8.6,0l8.6,-8.6M848.0,750.7l8.6,8.6m-8.6,0l8.6,-8.6M819.7,777.2l8.6,8.6m-8.6,0l8.6,-8.6M835.9,763.4l8.6,8.6m-8.6,0l8.6,-8.6M770.9,804.0l8.6,8.6m-8.6,0l8.6,-8.6M765.2,811.9l8.6,8.6m-8.6,0l8.6,-8.6M821.4,778.9l8.6,8.6m-8.6,0l8.6,-8.6M848.7,755.0l8.6,8.6m-8.6,0l8.6,-8.6M787.7,795.5l8.6,8.6m-8.6,0l8.6,-8.6M805.8,782.9l8.6,8.6m-8.6,0l8.6,-8.6M812.1,774.8l8.6,8.6m-8.6,0l8.6,-8.6M784.8,787.3l8.6,8.6m-8.6,0l8.6,-8.6M850.9,746.4l8.6,8.6m-8.6,0l8.6,-8.6M844.6,753.1l8.6,8.6m-8.6,0l8.6,-8.6M818.7,784.5l8.6,8.6m-8.6,0l8.6,-8.6M765.5,800.6l8.6,8.6m-8.6,0l8.6,-8.6M837.8,763.2l8.6,8.6m-8.6,0l8.6,-8.6M794.8,797.7l8.6,8.6m-8.6,0l8.6,-8.6M806.6,773.0l8.6,8.6m-8.6,0l8.6,-8.6M820.1,772.6l8.6,8.6m-8.6,0l8.6,-8.6M799.9,789.7l8.6,8.6m-8.6,0l8.6,-8.6M777.0,807.4l8.6,8.6m-8.6,0l8.6,-8.6M787.3,792.5l8.6,8.6m-8.6,0l8.6,-8.6M775.8,800.7l8.6,8.6m-8.6,0l8.6,-8.6M813.9,776.9l8.6,8.6m-8.6,0l8.6,-8.6M815.3,775.7l8.6,8.6m-8.6,0l8.6,-8.6M849.7,755.3l8.6,8.6m-8.6,0l8.6,-8.6M809.3,783.1l8.6,8.6m-8.6,0l8.6,-8.6M782.8,800.5l8.6,8.6m-8.6,0l8.6,-8.6M797.1,791.6l8.6,8.6m-8.6,0l8.6,-8.6M795.5,789.0l8.6,8.6m-8.6,0l8.6,-8.6M800.5,785.9l8.6,8.6m-8.6,0l8.6,-8.6M822.1,770.6l8.6,8.6m-8.6,0l8.6,-8.6M789.1,800.6l8.6,8.6m-8.6,0l8.6,-8.6M780.4,798.3l8.6,8.6m-8.6,0l8.6,-8.6M792.0,793.2l8.6,8.6m-8.6,0l8.6,-8.6M821.8,776.3l8.6,8.6m-8.6,0l8.6,-8.6M816.9,780.7l8.6,8.6m-8.6,0l8.6,-8.6M845.1,754.5l8.6,8.6m-8.6,0l8.6,-8.6M805.7,781.8l8.6,8.6m-8.6,0l8.6,-8.6M786.7,788.6l8.6,8.6m-8.6,0l8.6,-8.6M828.5,765.7l8.6,8.6m-8.6,0l8.6,-8.6M826.8,764.6l8.6,8.6m-8.6,0l8.6,-8.6" stroke="#0000ff" stroke-width="2.6" fill="none"/>
<path d="M830,774 L852,755 L885,728 L915,702 L941,674" fill="none" stroke="#0000ff" stroke-width="15" stroke-linejoin="round"/>
<path d="M620.9,910.4 L648.9,900.1 L665.1,876.6 L678.4,867.7 L687.2,866.2 L696.1,854.5 L719.6,839.7 L737.3,830.9 L755,823.5 L772.7,813.2 L796.2,795.5 L825.7,780.8 L852.2,760.2 L884.6,733.7 L914.1,708.6 L942.1,686.5" fill="none" stroke="#ff0000" stroke-width="8.5" stroke-linecap="butt" stroke-linejoin="round"/>
<path d="M620.9,939.9 L648.9,928.1 L665.1,904.6 L678.4,895.7 L685.8,892.8 L696.1,881 L719.6,860.4 L737.3,848.6 L755,833.8 L772.7,819.1 L796.2,798.5 L825.7,777.9 L852.2,754.3 L884.6,727.8 L914.1,701.2 L940.6,674.7" fill="none" stroke="#0000ff" stroke-width="8" stroke-linejoin="round"/>
<path d="M620.9,953.1 L648.9,938.4 L665.1,914.8 L678.4,906 L687.2,901.6 L696.1,891.3 L719.6,867.7 L737.3,853 L755,838.2 L772.7,823.5 L796.2,799.9 L825.7,776.4 L852.2,754.3 L884.6,727.7 L914.1,702.7 L940.6,676.2" fill="none" stroke="#00ff00" stroke-width="4.5" stroke-linejoin="round"/>
<path d="M620.9,956.1 L648.9,941.4 L665.1,917.8 L678.4,909 L687.2,904.6 L696.1,894.3 L719.6,870.7 L737.3,856 L755,841.2 L772.7,826.5 L796.2,802.9 L825.7,779.4 L852.2,757.3 L884.6,730.7 L914.1,705.7 L940.6,679.2" fill="none" stroke="#ff00ff" stroke-width="3" stroke-linejoin="round"/>
<path d="M620.9,954.6 L648.9,939.9 L665.1,916.3 L678.4,907.5 L687.2,903.1 L696.1,892.8 L719.6,869.2 L737.3,854.5 L755,839.7 L772.7,825 L796.2,801.4 L825.7,777.9 L852.2,755.8 L884.6,729.2 L914.1,704.2 L940.6,677.7" fill="none" stroke="#000000" stroke-width="3" stroke-linejoin="round"/>
<path d="M852.2,761 L884.6,735 L914.1,710 L942.1,688" fill="none" stroke="#ff0000" stroke-width="10" stroke-linejoin="round"/>
<path d="M584.3,671.2 H939 V954.8 H584.3 Z" fill="none" stroke="#1c1c1c" stroke-width="5.6"/>
<line x1="611.9" y1="954.8" x2="611.9" y2="948.3" stroke="#1c1c1c" stroke-width="5" />
<line x1="611.9" y1="671.2" x2="611.9" y2="677.7" stroke="#1c1c1c" stroke-width="5" />
<line x1="628.45" y1="954.8" x2="628.45" y2="948.3" stroke="#1c1c1c" stroke-width="5" />
<line x1="628.45" y1="671.2" x2="628.45" y2="677.7" stroke="#1c1c1c" stroke-width="5" />
<line x1="640.19" y1="954.8" x2="640.19" y2="948.3" stroke="#1c1c1c" stroke-width="5" />
<line x1="640.19" y1="671.2" x2="640.19" y2="677.7" stroke="#1c1c1c" stroke-width="5" />
<line x1="649.3" y1="954.8" x2="649.3" y2="948.3" stroke="#1c1c1c" stroke-width="5" />
<line x1="649.3" y1="671.2" x2="649.3" y2="677.7" stroke="#1c1c1c" stroke-width="5" />
<line x1="656.75" y1="954.8" x2="656.75" y2="948.3" stroke="#1c1c1c" stroke-width="5" />
<line x1="656.75" y1="671.2" x2="656.75" y2="677.7" stroke="#1c1c1c" stroke-width="5" />
<line x1="663.04" y1="954.8" x2="663.04" y2="948.3" stroke="#1c1c1c" stroke-width="5" />
<line x1="663.04" y1="671.2" x2="663.04" y2="677.7" stroke="#1c1c1c" stroke-width="5" />
<line x1="668.49" y1="954.8" x2="668.49" y2="948.3" stroke="#1c1c1c" stroke-width="5" />
<line x1="668.49" y1="671.2" x2="668.49" y2="677.7" stroke="#1c1c1c" stroke-width="5" />
<line x1="673.3" y1="954.8" x2="673.3" y2="948.3" stroke="#1c1c1c" stroke-width="5" />
<line x1="673.3" y1="671.2" x2="673.3" y2="677.7" stroke="#1c1c1c" stroke-width="5" />
<line x1="705.9" y1="954.8" x2="705.9" y2="948.3" stroke="#1c1c1c" stroke-width="5" />
<line x1="705.9" y1="671.2" x2="705.9" y2="677.7" stroke="#1c1c1c" stroke-width="5" />
<line x1="722.45" y1="954.8" x2="722.45" y2="948.3" stroke="#1c1c1c" stroke-width="5" />
<line x1="722.45" y1="671.2" x2="722.45" y2="677.7" stroke="#1c1c1c" stroke-width="5" />
<line x1="734.19" y1="954.8" x2="734.19" y2="948.3" stroke="#1c1c1c" stroke-width="5" />
<line x1="734.19" y1="671.2" x2="734.19" y2="677.7" stroke="#1c1c1c" stroke-width="5" />
<line x1="743.3" y1="954.8" x2="743.3" y2="948.3" stroke="#1c1c1c" stroke-width="5" />
<line x1="743.3" y1="671.2" x2="743.3" y2="677.7" stroke="#1c1c1c" stroke-width="5" />
<line x1="750.75" y1="954.8" x2="750.75" y2="948.3" stroke="#1c1c1c" stroke-width="5" />
<line x1="750.75" y1="671.2" x2="750.75" y2="677.7" stroke="#1c1c1c" stroke-width="5" />
<line x1="757.04" y1="954.8" x2="757.04" y2="948.3" stroke="#1c1c1c" stroke-width="5" />
<line x1="757.04" y1="671.2" x2="757.04" y2="677.7" stroke="#1c1c1c" stroke-width="5" />
<line x1="762.49" y1="954.8" x2="762.49" y2="948.3" stroke="#1c1c1c" stroke-width="5" />
<line x1="762.49" y1="671.2" x2="762.49" y2="677.7" stroke="#1c1c1c" stroke-width="5" />
<line x1="767.3" y1="954.8" x2="767.3" y2="948.3" stroke="#1c1c1c" stroke-width="5" />
<line x1="767.3" y1="671.2" x2="767.3" y2="677.7" stroke="#1c1c1c" stroke-width="5" />
<line x1="799.9" y1="954.8" x2="799.9" y2="948.3" stroke="#1c1c1c" stroke-width="5" />
<line x1="799.9" y1="671.2" x2="799.9" y2="677.7" stroke="#1c1c1c" stroke-width="5" />
<line x1="816.45" y1="954.8" x2="816.45" y2="948.3" stroke="#1c1c1c" stroke-width="5" />
<line x1="816.45" y1="671.2" x2="816.45" y2="677.7" stroke="#1c1c1c" stroke-width="5" />
<line x1="828.19" y1="954.8" x2="828.19" y2="948.3" stroke="#1c1c1c" stroke-width="5" />
<line x1="828.19" y1="671.2" x2="828.19" y2="677.7" stroke="#1c1c1c" stroke-width="5" />
<line x1="837.3" y1="954.8" x2="837.3" y2="948.3" stroke="#1c1c1c" stroke-width="5" />
<line x1="837.3" y1="671.2" x2="837.3" y2="677.7" stroke="#1c1c1c" stroke-width="5" />
<line x1="844.75" y1="954.8" x2="844.75" y2="948.3" stroke="#1c1c1c" stroke-width="5" />
<line x1="844.75" y1="671.2" x2="844.75" y2="677.7" stroke="#1c1c1c" stroke-width="5" />
<line x1="851.04" y1="954.8" x2="851.04" y2="948.3" stroke="#1c1c1c" stroke-width="5" />
<line x1="851.04" y1="671.2" x2="851.04" y2="677.7" stroke="#1c1c1c" stroke-width="5" />
<line x1="856.49" y1="954.8" x2="856.49" y2="948.3" stroke="#1c1c1c" stroke-width="5" />
<line x1="856.49" y1="671.2" x2="856.49" y2="677.7" stroke="#1c1c1c" stroke-width="5" />
<line x1="861.3" y1="954.8" x2="861.3" y2="948.3" stroke="#1c1c1c" stroke-width="5" />
<line x1="861.3" y1="671.2" x2="861.3" y2="677.7" stroke="#1c1c1c" stroke-width="5" />
<line x1="893.9" y1="954.8" x2="893.9" y2="948.3" stroke="#1c1c1c" stroke-width="5" />
<line x1="893.9" y1="671.2" x2="893.9" y2="677.7" stroke="#1c1c1c" stroke-width="5" />
<line x1="910.45" y1="954.8" x2="910.45" y2="948.3" stroke="#1c1c1c" stroke-width="5" />
<line x1="910.45" y1="671.2" x2="910.45" y2="677.7" stroke="#1c1c1c" stroke-width="5" />
<line x1="922.19" y1="954.8" x2="922.19" y2="948.3" stroke="#1c1c1c" stroke-width="5" />
<line x1="922.19" y1="671.2" x2="922.19" y2="677.7" stroke="#1c1c1c" stroke-width="5" />
<line x1="931.3" y1="954.8" x2="931.3" y2="948.3" stroke="#1c1c1c" stroke-width="5" />
<line x1="931.3" y1="671.2" x2="931.3" y2="677.7" stroke="#1c1c1c" stroke-width="5" />
<line x1="677.6" y1="954.8" x2="677.6" y2="943.8" stroke="#1c1c1c" stroke-width="5" />
<line x1="677.6" y1="671.2" x2="677.6" y2="682.2" stroke="#1c1c1c" stroke-width="5" />
<line x1="771.6" y1="954.8" x2="771.6" y2="943.8" stroke="#1c1c1c" stroke-width="5" />
<line x1="771.6" y1="671.2" x2="771.6" y2="682.2" stroke="#1c1c1c" stroke-width="5" />
<line x1="865.6" y1="954.8" x2="865.6" y2="943.8" stroke="#1c1c1c" stroke-width="5" />
<line x1="865.6" y1="671.2" x2="865.6" y2="682.2" stroke="#1c1c1c" stroke-width="5" />
<line x1="584.3" y1="949.3" x2="590.3" y2="949.3" stroke="#1c1c1c" stroke-width="4.5" />
<line x1="939" y1="949.3" x2="933" y2="949.3" stroke="#1c1c1c" stroke-width="4.5" />
<line x1="584.3" y1="945.04" x2="590.3" y2="945.04" stroke="#1c1c1c" stroke-width="4.5" />
<line x1="939" y1="945.04" x2="933" y2="945.04" stroke="#1c1c1c" stroke-width="4.5" />
<line x1="584.3" y1="941.43" x2="590.3" y2="941.43" stroke="#1c1c1c" stroke-width="4.5" />
<line x1="939" y1="941.43" x2="933" y2="941.43" stroke="#1c1c1c" stroke-width="4.5" />
<line x1="584.3" y1="938.31" x2="590.3" y2="938.31" stroke="#1c1c1c" stroke-width="4.5" />
<line x1="939" y1="938.31" x2="933" y2="938.31" stroke="#1c1c1c" stroke-width="4.5" />
<line x1="584.3" y1="935.56" x2="590.3" y2="935.56" stroke="#1c1c1c" stroke-width="4.5" />
<line x1="939" y1="935.56" x2="933" y2="935.56" stroke="#1c1c1c" stroke-width="4.5" />
<line x1="584.3" y1="933.1" x2="590.3" y2="933.1" stroke="#1c1c1c" stroke-width="4.5" />
<line x1="939" y1="933.1" x2="933" y2="933.1" stroke="#1c1c1c" stroke-width="4.5" />
<line x1="584.3" y1="916.9" x2="590.3" y2="916.9" stroke="#1c1c1c" stroke-width="4.5" />
<line x1="939" y1="916.9" x2="933" y2="916.9" stroke="#1c1c1c" stroke-width="4.5" />
<line x1="584.3" y1="907.43" x2="590.3" y2="907.43" stroke="#1c1c1c" stroke-width="4.5" />
<line x1="939" y1="907.43" x2="933" y2="907.43" stroke="#1c1c1c" stroke-width="4.5" />
<line x1="584.3" y1="900.71" x2="590.3" y2="900.71" stroke="#1c1c1c" stroke-width="4.5" />
<line x1="939" y1="900.71" x2="933" y2="900.71" stroke="#1c1c1c" stroke-width="4.5" />
<line x1="584.3" y1="895.5" x2="590.3" y2="895.5" stroke="#1c1c1c" stroke-width="4.5" />
<line x1="939" y1="895.5" x2="933" y2="895.5" stroke="#1c1c1c" stroke-width="4.5" />
<line x1="584.3" y1="891.24" x2="590.3" y2="891.24" stroke="#1c1c1c" stroke-width="4.5" />
<line x1="939" y1="891.24" x2="933" y2="891.24" stroke="#1c1c1c" stroke-width="4.5" />
<line x1="584.3" y1="887.63" x2="590.3" y2="887.63" stroke="#1c1c1c" stroke-width="4.5" />
<line x1="939" y1="887.63" x2="933" y2="887.63" stroke="#1c1c1c" stroke-width="4.5" />
<line x1="584.3" y1="884.51" x2="590.3" y2="884.51" stroke="#1c1c1c" stroke-width="4.5" />
<line x1="939" y1="884.51" x2="933" y2="884.51" stroke="#1c1c1c" stroke-width="4.5" />
<line x1="584.3" y1="881.76" x2="590.3" y2="881.76" stroke="#1c1c1c" stroke-width="4.5" />
<line x1="939" y1="881.76" x2="933" y2="881.76" stroke="#1c1c1c" stroke-width="4.5" />
<line x1="584.3" y1="879.3" x2="594.3" y2="879.3" stroke="#1c1c1c" stroke-width="5" />
<line x1="939" y1="879.3" x2="929" y2="879.3" stroke="#1c1c1c" stroke-width="5" />
<line x1="584.3" y1="863.1" x2="590.3" y2="863.1" stroke="#1c1c1c" stroke-width="4.5" />
<line x1="939" y1="863.1" x2="933" y2="863.1" stroke="#1c1c1c" stroke-width="4.5" />
<line x1="584.3" y1="853.63" x2="590.3" y2="853.63" stroke="#1c1c1c" stroke-width="4.5" />
<line x1="939" y1="853.63" x2="933" y2="853.63" stroke="#1c1c1c" stroke-width="4.5" />
<line x1="584.3" y1="846.91" x2="590.3" y2="846.91" stroke="#1c1c1c" stroke-width="4.5" />
<line x1="939" y1="846.91" x2="933" y2="846.91" stroke="#1c1c1c" stroke-width="4.5" />
<line x1="584.3" y1="841.7" x2="590.3" y2="841.7" stroke="#1c1c1c" stroke-width="4.5" />
<line x1="939" y1="841.7" x2="933" y2="841.7" stroke="#1c1c1c" stroke-width="4.5" />
<line x1="584.3" y1="837.44" x2="590.3" y2="837.44" stroke="#1c1c1c" stroke-width="4.5" />
<line x1="939" y1="837.44" x2="933" y2="837.44" stroke="#1c1c1c" stroke-width="4.5" />
<line x1="584.3" y1="833.83" x2="590.3" y2="833.83" stroke="#1c1c1c" stroke-width="4.5" />
<line x1="939" y1="833.83" x2="933" y2="833.83" stroke="#1c1c1c" stroke-width="4.5" />
<line x1="584.3" y1="830.71" x2="590.3" y2="830.71" stroke="#1c1c1c" stroke-width="4.5" />
<line x1="939" y1="830.71" x2="933" y2="830.71" stroke="#1c1c1c" stroke-width="4.5" />
<line x1="584.3" y1="827.96" x2="590.3" y2="827.96" stroke="#1c1c1c" stroke-width="4.5" />
<line x1="939" y1="827.96" x2="933" y2="827.96" stroke="#1c1c1c" stroke-width="4.5" />
<line x1="584.3" y1="825.5" x2="590.3" y2="825.5" stroke="#1c1c1c" stroke-width="4.5" />
<line x1="939" y1="825.5" x2="933" y2="825.5" stroke="#1c1c1c" stroke-width="4.5" />
<line x1="584.3" y1="809.3" x2="590.3" y2="809.3" stroke="#1c1c1c" stroke-width="4.5" />
<line x1="939" y1="809.3" x2="933" y2="809.3" stroke="#1c1c1c" stroke-width="4.5" />
<line x1="584.3" y1="799.83" x2="590.3" y2="799.83" stroke="#1c1c1c" stroke-width="4.5" />
<line x1="939" y1="799.83" x2="933" y2="799.83" stroke="#1c1c1c" stroke-width="4.5" />
<line x1="584.3" y1="793.11" x2="590.3" y2="793.11" stroke="#1c1c1c" stroke-width="4.5" />
<line x1="939" y1="793.11" x2="933" y2="793.11" stroke="#1c1c1c" stroke-width="4.5" />
<line x1="584.3" y1="787.9" x2="590.3" y2="787.9" stroke="#1c1c1c" stroke-width="4.5" />
<line x1="939" y1="787.9" x2="933" y2="787.9" stroke="#1c1c1c" stroke-width="4.5" />
<line x1="584.3" y1="783.64" x2="590.3" y2="783.64" stroke="#1c1c1c" stroke-width="4.5" />
<line x1="939" y1="783.64" x2="933" y2="783.64" stroke="#1c1c1c" stroke-width="4.5" />
<line x1="584.3" y1="780.03" x2="590.3" y2="780.03" stroke="#1c1c1c" stroke-width="4.5" />
<line x1="939" y1="780.03" x2="933" y2="780.03" stroke="#1c1c1c" stroke-width="4.5" />
<line x1="584.3" y1="776.91" x2="590.3" y2="776.91" stroke="#1c1c1c" stroke-width="4.5" />
<line x1="939" y1="776.91" x2="933" y2="776.91" stroke="#1c1c1c" stroke-width="4.5" />
<line x1="584.3" y1="774.16" x2="590.3" y2="774.16" stroke="#1c1c1c" stroke-width="4.5" />
<line x1="939" y1="774.16" x2="933" y2="774.16" stroke="#1c1c1c" stroke-width="4.5" />
<line x1="584.3" y1="771.7" x2="594.3" y2="771.7" stroke="#1c1c1c" stroke-width="5" />
<line x1="939" y1="771.7" x2="929" y2="771.7" stroke="#1c1c1c" stroke-width="5" />
<line x1="584.3" y1="755.5" x2="590.3" y2="755.5" stroke="#1c1c1c" stroke-width="4.5" />
<line x1="939" y1="755.5" x2="933" y2="755.5" stroke="#1c1c1c" stroke-width="4.5" />
<line x1="584.3" y1="746.03" x2="590.3" y2="746.03" stroke="#1c1c1c" stroke-width="4.5" />
<line x1="939" y1="746.03" x2="933" y2="746.03" stroke="#1c1c1c" stroke-width="4.5" />
<line x1="584.3" y1="739.31" x2="590.3" y2="739.31" stroke="#1c1c1c" stroke-width="4.5" />
<line x1="939" y1="739.31" x2="933" y2="739.31" stroke="#1c1c1c" stroke-width="4.5" />
<line x1="584.3" y1="734.1" x2="590.3" y2="734.1" stroke="#1c1c1c" stroke-width="4.5" />
<line x1="939" y1="734.1" x2="933" y2="734.1" stroke="#1c1c1c" stroke-width="4.5" />
<line x1="584.3" y1="729.84" x2="590.3" y2="729.84" stroke="#1c1c1c" stroke-width="4.5" />
<line x1="939" y1="729.84" x2="933" y2="729.84" stroke="#1c1c1c" stroke-width="4.5" />
<line x1="584.3" y1="726.23" x2="590.3" y2="726.23" stroke="#1c1c1c" stroke-width="4.5" />
<line x1="939" y1="726.23" x2="933" y2="726.23" stroke="#1c1c1c" stroke-width="4.5" />
<line x1="584.3" y1="723.11" x2="590.3" y2="723.11" stroke="#1c1c1c" stroke-width="4.5" />
<line x1="939" y1="723.11" x2="933" y2="723.11" stroke="#1c1c1c" stroke-width="4.5" />
<line x1="584.3" y1="720.36" x2="590.3" y2="720.36" stroke="#1c1c1c" stroke-width="4.5" />
<line x1="939" y1="720.36" x2="933" y2="720.36" stroke="#1c1c1c" stroke-width="4.5" />
<line x1="584.3" y1="717.9" x2="590.3" y2="717.9" stroke="#1c1c1c" stroke-width="4.5" />
<line x1="939" y1="717.9" x2="933" y2="717.9" stroke="#1c1c1c" stroke-width="4.5" />
<line x1="584.3" y1="701.7" x2="590.3" y2="701.7" stroke="#1c1c1c" stroke-width="4.5" />
<line x1="939" y1="701.7" x2="933" y2="701.7" stroke="#1c1c1c" stroke-width="4.5" />
<line x1="584.3" y1="692.23" x2="590.3" y2="692.23" stroke="#1c1c1c" stroke-width="4.5" />
<line x1="939" y1="692.23" x2="933" y2="692.23" stroke="#1c1c1c" stroke-width="4.5" />
<line x1="584.3" y1="685.51" x2="590.3" y2="685.51" stroke="#1c1c1c" stroke-width="4.5" />
<line x1="939" y1="685.51" x2="933" y2="685.51" stroke="#1c1c1c" stroke-width="4.5" />
<line x1="584.3" y1="680.3" x2="590.3" y2="680.3" stroke="#1c1c1c" stroke-width="4.5" />
<line x1="939" y1="680.3" x2="933" y2="680.3" stroke="#1c1c1c" stroke-width="4.5" />
<line x1="584.3" y1="676.04" x2="590.3" y2="676.04" stroke="#1c1c1c" stroke-width="4.5" />
<line x1="939" y1="676.04" x2="933" y2="676.04" stroke="#1c1c1c" stroke-width="4.5" />
<rect x="853" y="671.7" width="88.8" height="283.1" fill="rgba(185,185,185,0.34)" />
<rect x="821" y="802.5" width="105.1" height="140" fill="#fff" stroke="#1c1c1c" stroke-width="5" />
<circle cx="833.5" cy="815.5" r="2.3" fill="#0000ff"/>
<text x="845" y="822" font-size="19.2" font-family='"Liberation Sans", sans-serif' fill="#000" >Data</text>
<line x1="823.5" y1="838.6" x2="843" y2="838.6" stroke="#ff0000" stroke-width="7.5" />
<text x="844.5" y="845.5" font-size="19.2" font-family='"Liberation Sans", sans-serif' fill="#000" >1 Term(s)</text>
<line x1="823.5" y1="862.1" x2="843" y2="862.1" stroke="#0000ff" stroke-width="7.5" />
<text x="844.5" y="869" font-size="19.2" font-family='"Liberation Sans", sans-serif' fill="#000" >2 Term(s)</text>
<line x1="823.5" y1="885.6" x2="843" y2="885.6" stroke="#00ff00" stroke-width="6" />
<text x="844.5" y="892.5" font-size="19.2" font-family='"Liberation Sans", sans-serif' fill="#000" >3 Term(s)</text>
<line x1="823.5" y1="909.1" x2="843" y2="909.1" stroke="#ff00ff" stroke-width="5" />
<text x="844.5" y="916" font-size="19.2" font-family='"Liberation Sans", sans-serif' fill="#000" >4 Term(s)</text>
<line x1="823.5" y1="932.6" x2="843" y2="932.6" stroke="#000000" stroke-width="5" />
<text x="844.5" y="939.5" font-size="19.2" font-family='"Liberation Sans", sans-serif' fill="#000" >5 Term(s)</text>
<text x="583.6" y="986" font-size="21.5" font-family='"Liberation Sans", sans-serif' text-anchor="middle">10<tspan dy="-10.3" font-size="17">-5</tspan></text>
<text x="677.6" y="986" font-size="21.5" font-family='"Liberation Sans", sans-serif' text-anchor="middle">10<tspan dy="-10.3" font-size="17">-4</tspan></text>
<text x="771.6" y="986" font-size="21.5" font-family='"Liberation Sans", sans-serif' text-anchor="middle">10<tspan dy="-10.3" font-size="17">-3</tspan></text>
<text x="865.6" y="986" font-size="21.5" font-family='"Liberation Sans", sans-serif' text-anchor="middle">10<tspan dy="-10.3" font-size="17">-2</tspan></text>
<text x="579.3" y="783.3" font-size="21.5" font-family='"Liberation Sans", sans-serif' text-anchor="end">10<tspan dy="-10.3" font-size="17">-8</tspan></text>
<text x="579.3" y="890.9" font-size="21.5" font-family='"Liberation Sans", sans-serif' text-anchor="end">10<tspan dy="-10.3" font-size="17">-10</tspan></text>
<text x="761" y="1011.3" font-size="23" font-family='"Liberation Serif", serif' text-anchor="middle">Time [<tspan font-style="italic">s</tspan>]</text>
<text transform="translate(520.5,813) rotate(-90)" font-size="24" font-family='"Liberation Serif", serif' text-anchor="middle" textLength="306" lengthAdjust="spacing">∫<tspan font-size="14" dy="5">0</tspan><tspan font-size="14" font-style="italic" dy="-16" dx="-7">t</tspan><tspan dy="11" dx="3" font-style="italic">Q</tspan>(<tspan font-style="italic">t</tspan> − <tspan font-style="italic">ξ</tspan>)<tspan font-style="italic">h</tspan><tspan font-size="15" dy="-9">3/2</tspan><tspan dy="9">(</tspan><tspan font-style="italic">ξ</tspan>)<tspan font-style="italic">dξ</tspan> [<tspan font-style="italic">N</tspan>/√(<tspan font-style="italic">m</tspan>)]</text>
<text x="888" y="651" font-size="45.5" font-family='"Liberation Sans", sans-serif' fill="#000" font-weight="bold" >(d)</text>
<line x1="1113.51" y1="673.9" x2="1113.51" y2="949.8" stroke="#c9c9c9" stroke-width="5" stroke-dasharray="5 5.3" stroke-dashoffset="-1.5"/>
<line x1="1130.71" y1="673.9" x2="1130.71" y2="949.8" stroke="#c9c9c9" stroke-width="5" stroke-dasharray="5 5.3" stroke-dashoffset="-1.5"/>
<line x1="1142.92" y1="673.9" x2="1142.92" y2="949.8" stroke="#c9c9c9" stroke-width="5" stroke-dasharray="5 5.3" stroke-dashoffset="-1.5"/>
<line x1="1152.39" y1="673.9" x2="1152.39" y2="949.8" stroke="#c9c9c9" stroke-width="5" stroke-dasharray="5 5.3" stroke-dashoffset="-1.5"/>
<line x1="1160.13" y1="673.9" x2="1160.13" y2="949.8" stroke="#c9c9c9" stroke-width="5" stroke-dasharray="5 5.3" stroke-dashoffset="-1.5"/>
<line x1="1166.67" y1="673.9" x2="1166.67" y2="949.8" stroke="#c9c9c9" stroke-width="5" stroke-dasharray="5 5.3" stroke-dashoffset="-1.5"/>
<line x1="1172.33" y1="673.9" x2="1172.33" y2="949.8" stroke="#c9c9c9" stroke-width="5" stroke-dasharray="5 5.3" stroke-dashoffset="-1.5"/>
<line x1="1177.33" y1="673.9" x2="1177.33" y2="949.8" stroke="#c9c9c9" stroke-width="5" stroke-dasharray="5 5.3" stroke-dashoffset="-1.5"/>
<line x1="1211.21" y1="673.9" x2="1211.21" y2="949.8" stroke="#c9c9c9" stroke-width="5" stroke-dasharray="5 5.3" stroke-dashoffset="-1.5"/>
<line x1="1228.41" y1="673.9" x2="1228.41" y2="949.8" stroke="#c9c9c9" stroke-width="5" stroke-dasharray="5 5.3" stroke-dashoffset="-1.5"/>
<line x1="1240.62" y1="673.9" x2="1240.62" y2="949.8" stroke="#c9c9c9" stroke-width="5" stroke-dasharray="5 5.3" stroke-dashoffset="-1.5"/>
<line x1="1250.09" y1="673.9" x2="1250.09" y2="949.8" stroke="#c9c9c9" stroke-width="5" stroke-dasharray="5 5.3" stroke-dashoffset="-1.5"/>
<line x1="1257.83" y1="673.9" x2="1257.83" y2="949.8" stroke="#c9c9c9" stroke-width="5" stroke-dasharray="5 5.3" stroke-dashoffset="-1.5"/>
<line x1="1264.37" y1="673.9" x2="1264.37" y2="949.8" stroke="#c9c9c9" stroke-width="5" stroke-dasharray="5 5.3" stroke-dashoffset="-1.5"/>
<line x1="1270.03" y1="673.9" x2="1270.03" y2="949.8" stroke="#c9c9c9" stroke-width="5" stroke-dasharray="5 5.3" stroke-dashoffset="-1.5"/>
<line x1="1275.03" y1="673.9" x2="1275.03" y2="949.8" stroke="#c9c9c9" stroke-width="5" stroke-dasharray="5 5.3" stroke-dashoffset="-1.5"/>
<line x1="1308.91" y1="673.9" x2="1308.91" y2="949.8" stroke="#c9c9c9" stroke-width="5" stroke-dasharray="5 5.3" stroke-dashoffset="-1.5"/>
<line x1="1326.11" y1="673.9" x2="1326.11" y2="949.8" stroke="#c9c9c9" stroke-width="5" stroke-dasharray="5 5.3" stroke-dashoffset="-1.5"/>
<line x1="1338.32" y1="673.9" x2="1338.32" y2="949.8" stroke="#c9c9c9" stroke-width="5" stroke-dasharray="5 5.3" stroke-dashoffset="-1.5"/>
<line x1="1347.79" y1="673.9" x2="1347.79" y2="949.8" stroke="#c9c9c9" stroke-width="5" stroke-dasharray="5 5.3" stroke-dashoffset="-1.5"/>
<line x1="1355.53" y1="673.9" x2="1355.53" y2="949.8" stroke="#c9c9c9" stroke-width="5" stroke-dasharray="5 5.3" stroke-dashoffset="-1.5"/>
<line x1="1362.07" y1="673.9" x2="1362.07" y2="949.8" stroke="#c9c9c9" stroke-width="5" stroke-dasharray="5 5.3" stroke-dashoffset="-1.5"/>
<line x1="1367.73" y1="673.9" x2="1367.73" y2="949.8" stroke="#c9c9c9" stroke-width="5" stroke-dasharray="5 5.3" stroke-dashoffset="-1.5"/>
<line x1="1372.73" y1="673.9" x2="1372.73" y2="949.8" stroke="#c9c9c9" stroke-width="5" stroke-dasharray="5 5.3" stroke-dashoffset="-1.5"/>
<line x1="1406.61" y1="673.9" x2="1406.61" y2="949.8" stroke="#c9c9c9" stroke-width="5" stroke-dasharray="5 5.3" stroke-dashoffset="-1.5"/>
<line x1="1423.81" y1="673.9" x2="1423.81" y2="949.8" stroke="#c9c9c9" stroke-width="5" stroke-dasharray="5 5.3" stroke-dashoffset="-1.5"/>
<line x1="1181.8" y1="670.4" x2="1181.8" y2="953.3" stroke="#e4e4e4" stroke-width="4.6" />
<line x1="1279.5" y1="670.4" x2="1279.5" y2="953.3" stroke="#e4e4e4" stroke-width="4.6" />
<line x1="1377.2" y1="670.4" x2="1377.2" y2="953.3" stroke="#e4e4e4" stroke-width="4.6" />
<line x1="1084.3" y1="801.2" x2="1437.7" y2="801.2" stroke="#e4e4e4" stroke-width="4.2" />
<line x1="1084.3" y1="945.2" x2="1437.7" y2="945.2" stroke="#e4e4e4" stroke-width="4.2" />
<path d="M1117.5,867.2l8.6,8.6m-8.6,0l8.6,-8.6" stroke="#0000ff" stroke-width="2.6" fill="none"/>
<path d="M1147.0,844.3l8.6,8.6m-8.6,0l8.6,-8.6" stroke="#0000ff" stroke-width="2.6" fill="none"/>
<path d="M1164.7,831.6l8.6,8.6m-8.6,0l8.6,-8.6" stroke="#0000ff" stroke-width="2.6" fill="none"/>
<path d="M1176.5,823.1l8.6,8.6m-8.6,0l8.6,-8.6" stroke="#0000ff" stroke-width="2.6" fill="none"/>
<path d="M1185.3,822.2l8.6,8.6m-8.6,0l8.6,-8.6" stroke="#0000ff" stroke-width="2.6" fill="none"/>
<path d="M1192.7,826.0l8.6,8.6m-8.6,0l8.6,-8.6" stroke="#0000ff" stroke-width="2.6" fill="none"/>
<path d="M1201.5,826.6l8.6,8.6m-8.6,0l8.6,-8.6" stroke="#0000ff" stroke-width="2.6" fill="none"/>
<path d="M1208.7,824.7l8.6,8.6m-8.6,0l8.6,-8.6" stroke="#0000ff" stroke-width="2.6" fill="none"/>
<path d="M1215.7,826.7l8.6,8.6m-8.6,0l8.6,-8.6" stroke="#0000ff" stroke-width="2.6" fill="none"/>
<path d="M1222.7,825.7l8.6,8.6m-8.6,0l8.6,-8.6" stroke="#0000ff" stroke-width="2.6" fill="none"/>
<path d="M1286.7,810.7l8.6,8.6m-8.6,0l8.6,-8.6" stroke="#0000ff" stroke-width="2.6" fill="none"/>
<path d="M1288.7,813.7l8.6,8.6m-8.6,0l8.6,-8.6" stroke="#0000ff" stroke-width="2.6" fill="none"/>
<path d="M1284.7,807.7l8.6,8.6m-8.6,0l8.6,-8.6" stroke="#0000ff" stroke-width="2.6" fill="none"/>
<path d="M1244.6,819.5l8.6,8.6m-8.6,0l8.6,-8.6M1232.5,819.7l8.6,8.6m-8.6,0l8.6,-8.6M1226.7,825.6l8.6,8.6m-8.6,0l8.6,-8.6M1280.1,803.4l8.6,8.6m-8.6,0l8.6,-8.6M1248.8,822.2l8.6,8.6m-8.6,0l8.6,-8.6M1207.1,823.2l8.6,8.6m-8.6,0l8.6,-8.6M1229.0,827.8l8.6,8.6m-8.6,0l8.6,-8.6M1320.4,777.9l8.6,8.6m-8.6,0l8.6,-8.6M1335.6,771.9l8.6,8.6m-8.6,0l8.6,-8.6M1276.1,813.8l8.6,8.6m-8.6,0l8.6,-8.6M1285.3,800.7l8.6,8.6m-8.6,0l8.6,-8.6M1250.4,821.5l8.6,8.6m-8.6,0l8.6,-8.6M1319.8,788.1l8.6,8.6m-8.6,0l8.6,-8.6M1285.1,803.0l8.6,8.6m-8.6,0l8.6,-8.6M1226.5,824.3l8.6,8.6m-8.6,0l8.6,-8.6M1236.1,825.3l8.6,8.6m-8.6,0l8.6,-8.6M1243.0,819.7l8.6,8.6m-8.6,0l8.6,-8.6M1225.3,824.2l8.6,8.6m-8.6,0l8.6,-8.6M1239.7,824.0l8.6,8.6m-8.6,0l8.6,-8.6M1217.2,829.4l8.6,8.6m-8.6,0l8.6,-8.6M1334.7,770.4l8.6,8.6m-8.6,0l8.6,-8.6M1210.9,819.9l8.6,8.6m-8.6,0l8.6,-8.6M1318.3,783.6l8.6,8.6m-8.6,0l8.6,-8.6M1266.7,811.5l8.6,8.6m-8.6,0l8.6,-8.6M1327.9,779.4l8.6,8.6m-8.6,0l8.6,-8.6M1260.9,821.1l8.6,8.6m-8.6,0l8.6,-8.6M1227.9,822.1l8.6,8.6m-8.6,0l8.6,-8.6M1237.7,821.2l8.6,8.6m-8.6,0l8.6,-8.6M1288.1,798.6l8.6,8.6m-8.6,0l8.6,-8.6M1254.9,821.5l8.6,8.6m-8.6,0l8.6,-8.6M1231.0,827.1l8.6,8.6m-8.6,0l8.6,-8.6M1216.6,828.1l8.6,8.6m-8.6,0l8.6,-8.6M1284.7,806.4l8.6,8.6m-8.6,0l8.6,-8.6M1254.4,818.4l8.6,8.6m-8.6,0l8.6,-8.6M1207.9,828.5l8.6,8.6m-8.6,0l8.6,-8.6M1245.7,823.1l8.6,8.6m-8.6,0l8.6,-8.6M1217.2,822.9l8.6,8.6m-8.6,0l8.6,-8.6M1206.0,830.9l8.6,8.6m-8.6,0l8.6,-8.6M1278.2,803.9l8.6,8.6m-8.6,0l8.6,-8.6M1298.8,795.0l8.6,8.6m-8.6,0l8.6,-8.6M1210.5,830.9l8.6,8.6m-8.6,0l8.6,-8.6M1244.5,819.2l8.6,8.6m-8.6,0l8.6,-8.6M1321.4,778.5l8.6,8.6m-8.6,0l8.6,-8.6M1241.1,821.1l8.6,8.6m-8.6,0l8.6,-8.6M1235.6,827.5l8.6,8.6m-8.6,0l8.6,-8.6M1219.7,827.4l8.6,8.6m-8.6,0l8.6,-8.6M1288.6,800.7l8.6,8.6m-8.6,0l8.6,-8.6M1274.6,806.4l8.6,8.6m-8.6,0l8.6,-8.6M1253.7,816.6l8.6,8.6m-8.6,0l8.6,-8.6M1322.7,780.3l8.6,8.6m-8.6,0l8.6,-8.6M1318.2,782.2l8.6,8.6m-8.6,0l8.6,-8.6M1209.4,829.5l8.6,8.6m-8.6,0l8.6,-8.6M1258.1,822.9l8.6,8.6m-8.6,0l8.6,-8.6M1212.4,820.3l8.6,8.6m-8.6,0l8.6,-8.6M1226.2,823.3l8.6,8.6m-8.6,0l8.6,-8.6M1281.7,809.7l8.6,8.6m-8.6,0l8.6,-8.6M1205.5,827.9l8.6,8.6m-8.6,0l8.6,-8.6M1273.7,807.2l8.6,8.6m-8.6,0l8.6,-8.6M1257.2,818.6l8.6,8.6m-8.6,0l8.6,-8.6M1300.7,800.3l8.6,8.6m-8.6,0l8.6,-8.6M1281.1,802.1l8.6,8.6m-8.6,0l8.6,-8.6M1294.4,800.4l8.6,8.6m-8.6,0l8.6,-8.6M1326.8,779.1l8.6,8.6m-8.6,0l8.6,-8.6M1318.0,787.0l8.6,8.6m-8.6,0l8.6,-8.6M1251.4,819.4l8.6,8.6m-8.6,0l8.6,-8.6M1211.8,827.9l8.6,8.6m-8.6,0l8.6,-8.6M1305.5,789.7l8.6,8.6m-8.6,0l8.6,-8.6M1341.8,761.8l8.6,8.6m-8.6,0l8.6,-8.6M1267.2,814.5l8.6,8.6m-8.6,0l8.6,-8.6M1249.4,816.1l8.6,8.6m-8.6,0l8.6,-8.6M1221.4,829.9l8.6,8.6m-8.6,0l8.6,-8.6M1246.2,821.3l8.6,8.6m-8.6,0l8.6,-8.6M1268.5,812.7l8.6,8.6m-8.6,0l8.6,-8.6M1255.9,818.6l8.6,8.6m-8.6,0l8.6,-8.6M1243.6,824.3l8.6,8.6m-8.6,0l8.6,-8.6M1340.8,765.8l8.6,8.6m-8.6,0l8.6,-8.6M1274.0,801.9l8.6,8.6m-8.6,0l8.6,-8.6M1280.8,806.2l8.6,8.6m-8.6,0l8.6,-8.6M1260.2,816.9l8.6,8.6m-8.6,0l8.6,-8.6M1212.0,830.3l8.6,8.6m-8.6,0l8.6,-8.6M1231.0,823.0l8.6,8.6m-8.6,0l8.6,-8.6M1326.7,776.4l8.6,8.6m-8.6,0l8.6,-8.6M1281.0,806.7l8.6,8.6m-8.6,0l8.6,-8.6M1296.7,801.8l8.6,8.6m-8.6,0l8.6,-8.6M1334.0,772.4l8.6,8.6m-8.6,0l8.6,-8.6M1319.9,780.5l8.6,8.6m-8.6,0l8.6,-8.6M1213.7,828.8l8.6,8.6m-8.6,0l8.6,-8.6M1275.5,806.9l8.6,8.6m-8.6,0l8.6,-8.6M1241.9,825.8l8.6,8.6m-8.6,0l8.6,-8.6M1310.6,788.6l8.6,8.6m-8.6,0l8.6,-8.6M1236.9,822.8l8.6,8.6m-8.6,0l8.6,-8.6M1331.1,772.2l8.6,8.6m-8.6,0l8.6,-8.6M1222.3,831.7l8.6,8.6m-8.6,0l8.6,-8.6M1320.8,780.2l8.6,8.6m-8.6,0l8.6,-8.6M1306.8,789.5l8.6,8.6m-8.6,0l8.6,-8.6M1226.5,824.8l8.6,8.6m-8.6,0l8.6,-8.6M1288.3,798.0l8.6,8.6m-8.6,0l8.6,-8.6M1279.5,803.1l8.6,8.6m-8.6,0l8.6,-8.6M1325.2,779.9l8.6,8.6m-8.6,0l8.6,-8.6M1286.3,799.0l8.6,8.6m-8.6,0l8.6,-8.6M1332.3,776.2l8.6,8.6m-8.6,0l8.6,-8.6M1301.4,794.4l8.6,8.6m-8.6,0l8.6,-8.6M1300.9,797.3l8.6,8.6m-8.6,0l8.6,-8.6M1266.6,814.4l8.6,8.6m-8.6,0l8.6,-8.6M1316.1,783.6l8.6,8.6m-8.6,0l8.6,-8.6M1286.5,803.8l8.6,8.6m-8.6,0l8.6,-8.6M1216.7,828.3l8.6,8.6m-8.6,0l8.6,-8.6M1251.5,821.9l8.6,8.6m-8.6,0l8.6,-8.6M1238.3,823.8l8.6,8.6m-8.6,0l8.6,-8.6M1336.1,771.9l8.6,8.6m-8.6,0l8.6,-8.6M1221.3,829.2l8.6,8.6m-8.6,0l8.6,-8.6M1236.1,825.3l8.6,8.6m-8.6,0l8.6,-8.6M1208.8,828.8l8.6,8.6m-8.6,0l8.6,-8.6M1287.1,803.3l8.6,8.6m-8.6,0l8.6,-8.6M1299.0,794.5l8.6,8.6m-8.6,0l8.6,-8.6M1321.5,775.5l8.6,8.6m-8.6,0l8.6,-8.6M1214.2,823.1l8.6,8.6m-8.6,0l8.6,-8.6M1312.9,786.3l8.6,8.6m-8.6,0l8.6,-8.6M1304.0,790.6l8.6,8.6m-8.6,0l8.6,-8.6M1247.5,821.7l8.6,8.6m-8.6,0l8.6,-8.6" stroke="#0000ff" stroke-width="2.6" fill="none"/>
<path d="M1297.1,802.4 L1320.7,787.6 L1344.3,770 L1367.9,746.4 L1394.4,716.9 L1417.9,693.4 L1438.6,675.7" fill="none" stroke="#0000ff" stroke-width="15" stroke-linejoin="round"/>
<path d="M1121.8,940.3 L1151.3,888.7 L1188.1,865.1 L1198.4,850.4 L1211.7,841.6 L1216.1,834.2 L1232.3,831.3 L1238.2,823.9 L1255.9,818 L1276.5,807.7 L1297.1,797.4 L1320.7,782.6 L1344.3,774 L1367.9,754 L1394.4,728 L1417.9,708 L1439,692" fill="none" stroke="#ff0000" stroke-width="9" stroke-linejoin="round"/>
<path d="M1344.3,774 L1367.9,755 L1394.4,730 L1417.9,710 L1439,694" fill="none" stroke="#ff0000" stroke-width="13" stroke-linejoin="round"/>
<path d="M1121.8,943.8 L1151.3,892.2 L1188.1,868.6 L1198.4,853.9 L1211.7,845.1 L1216.1,837.7 L1232.3,834.8 L1238.2,827.4 L1255.9,821.5 L1276.5,811.2 L1297.1,800.9 L1320.7,786.1 L1344.3,768.5 L1367.9,744.9 L1394.4,715.4 L1417.9,691.9 L1438.6,674.2" fill="none" stroke="#00ff00" stroke-width="5"/>
<path d="M1121.8,951.3 L1151.3,899.7 L1188.1,876.1 L1198.4,861.4 L1211.7,852.6 L1216.1,845.2 L1232.3,842.3 L1238.2,834.9 L1255.9,829 L1276.5,818.7 L1297.1,808.4 L1320.7,793.6 L1344.3,776 L1367.9,752.4 L1394.4,722.9 L1417.9,699.4 L1438.6,681.7" fill="none" stroke="#ff00ff" stroke-width="5"/>
<path d="M1121.8,947.3 L1151.3,895.7 L1188.1,872.1 L1198.4,857.4 L1211.7,848.6 L1216.1,841.2 L1232.3,838.3 L1238.2,830.9 L1255.9,825 L1276.5,814.7 L1297.1,804.4 L1320.7,789.6 L1344.3,772 L1367.9,748.4 L1394.4,718.9 L1417.9,695.4 L1438.6,677.7" fill="none" stroke="#000" stroke-width="4"/>
<path d="M1084.3,670.4 H1437.7 V953.3 H1084.3 Z" fill="none" stroke="#1c1c1c" stroke-width="5.6"/>
<line x1="1113.51" y1="953.3" x2="1113.51" y2="946.8" stroke="#1c1c1c" stroke-width="5" />
<line x1="1113.51" y1="670.4" x2="1113.51" y2="676.9" stroke="#1c1c1c" stroke-width="5" />
<line x1="1130.71" y1="953.3" x2="1130.71" y2="946.8" stroke="#1c1c1c" stroke-width="5" />
<line x1="1130.71" y1="670.4" x2="1130.71" y2="676.9" stroke="#1c1c1c" stroke-width="5" />
<line x1="1142.92" y1="953.3" x2="1142.92" y2="946.8" stroke="#1c1c1c" stroke-width="5" />
<line x1="1142.92" y1="670.4" x2="1142.92" y2="676.9" stroke="#1c1c1c" stroke-width="5" />
<line x1="1152.39" y1="953.3" x2="1152.39" y2="946.8" stroke="#1c1c1c" stroke-width="5" />
<line x1="1152.39" y1="670.4" x2="1152.39" y2="676.9" stroke="#1c1c1c" stroke-width="5" />
<line x1="1160.13" y1="953.3" x2="1160.13" y2="946.8" stroke="#1c1c1c" stroke-width="5" />
<line x1="1160.13" y1="670.4" x2="1160.13" y2="676.9" stroke="#1c1c1c" stroke-width="5" />
<line x1="1166.67" y1="953.3" x2="1166.67" y2="946.8" stroke="#1c1c1c" stroke-width="5" />
<line x1="1166.67" y1="670.4" x2="1166.67" y2="676.9" stroke="#1c1c1c" stroke-width="5" />
<line x1="1172.33" y1="953.3" x2="1172.33" y2="946.8" stroke="#1c1c1c" stroke-width="5" />
<line x1="1172.33" y1="670.4" x2="1172.33" y2="676.9" stroke="#1c1c1c" stroke-width="5" />
<line x1="1177.33" y1="953.3" x2="1177.33" y2="946.8" stroke="#1c1c1c" stroke-width="5" />
<line x1="1177.33" y1="670.4" x2="1177.33" y2="676.9" stroke="#1c1c1c" stroke-width="5" />
<line x1="1211.21" y1="953.3" x2="1211.21" y2="946.8" stroke="#1c1c1c" stroke-width="5" />
<line x1="1211.21" y1="670.4" x2="1211.21" y2="676.9" stroke="#1c1c1c" stroke-width="5" />
<line x1="1228.41" y1="953.3" x2="1228.41" y2="946.8" stroke="#1c1c1c" stroke-width="5" />
<line x1="1228.41" y1="670.4" x2="1228.41" y2="676.9" stroke="#1c1c1c" stroke-width="5" />
<line x1="1240.62" y1="953.3" x2="1240.62" y2="946.8" stroke="#1c1c1c" stroke-width="5" />
<line x1="1240.62" y1="670.4" x2="1240.62" y2="676.9" stroke="#1c1c1c" stroke-width="5" />
<line x1="1250.09" y1="953.3" x2="1250.09" y2="946.8" stroke="#1c1c1c" stroke-width="5" />
<line x1="1250.09" y1="670.4" x2="1250.09" y2="676.9" stroke="#1c1c1c" stroke-width="5" />
<line x1="1257.83" y1="953.3" x2="1257.83" y2="946.8" stroke="#1c1c1c" stroke-width="5" />
<line x1="1257.83" y1="670.4" x2="1257.83" y2="676.9" stroke="#1c1c1c" stroke-width="5" />
<line x1="1264.37" y1="953.3" x2="1264.37" y2="946.8" stroke="#1c1c1c" stroke-width="5" />
<line x1="1264.37" y1="670.4" x2="1264.37" y2="676.9" stroke="#1c1c1c" stroke-width="5" />
<line x1="1270.03" y1="953.3" x2="1270.03" y2="946.8" stroke="#1c1c1c" stroke-width="5" />
<line x1="1270.03" y1="670.4" x2="1270.03" y2="676.9" stroke="#1c1c1c" stroke-width="5" />
<line x1="1275.03" y1="953.3" x2="1275.03" y2="946.8" stroke="#1c1c1c" stroke-width="5" />
<line x1="1275.03" y1="670.4" x2="1275.03" y2="676.9" stroke="#1c1c1c" stroke-width="5" />
<line x1="1308.91" y1="953.3" x2="1308.91" y2="946.8" stroke="#1c1c1c" stroke-width="5" />
<line x1="1308.91" y1="670.4" x2="1308.91" y2="676.9" stroke="#1c1c1c" stroke-width="5" />
<line x1="1326.11" y1="953.3" x2="1326.11" y2="946.8" stroke="#1c1c1c" stroke-width="5" />
<line x1="1326.11" y1="670.4" x2="1326.11" y2="676.9" stroke="#1c1c1c" stroke-width="5" />
<line x1="1338.32" y1="953.3" x2="1338.32" y2="946.8" stroke="#1c1c1c" stroke-width="5" />
<line x1="1338.32" y1="670.4" x2="1338.32" y2="676.9" stroke="#1c1c1c" stroke-width="5" />
<line x1="1347.79" y1="953.3" x2="1347.79" y2="946.8" stroke="#1c1c1c" stroke-width="5" />
<line x1="1347.79" y1="670.4" x2="1347.79" y2="676.9" stroke="#1c1c1c" stroke-width="5" />
<line x1="1355.53" y1="953.3" x2="1355.53" y2="946.8" stroke="#1c1c1c" stroke-width="5" />
<line x1="1355.53" y1="670.4" x2="1355.53" y2="676.9" stroke="#1c1c1c" stroke-width="5" />
<line x1="1362.07" y1="953.3" x2="1362.07" y2="946.8" stroke="#1c1c1c" stroke-width="5" />
<line x1="1362.07" y1="670.4" x2="1362.07" y2="676.9" stroke="#1c1c1c" stroke-width="5" />
<line x1="1367.73" y1="953.3" x2="1367.73" y2="946.8" stroke="#1c1c1c" stroke-width="5" />
<line x1="1367.73" y1="670.4" x2="1367.73" y2="676.9" stroke="#1c1c1c" stroke-width="5" />
<line x1="1372.73" y1="953.3" x2="1372.73" y2="946.8" stroke="#1c1c1c" stroke-width="5" />
<line x1="1372.73" y1="670.4" x2="1372.73" y2="676.9" stroke="#1c1c1c" stroke-width="5" />
<line x1="1406.61" y1="953.3" x2="1406.61" y2="946.8" stroke="#1c1c1c" stroke-width="5" />
<line x1="1406.61" y1="670.4" x2="1406.61" y2="676.9" stroke="#1c1c1c" stroke-width="5" />
<line x1="1423.81" y1="953.3" x2="1423.81" y2="946.8" stroke="#1c1c1c" stroke-width="5" />
<line x1="1423.81" y1="670.4" x2="1423.81" y2="676.9" stroke="#1c1c1c" stroke-width="5" />
<line x1="1181.8" y1="953.3" x2="1181.8" y2="942.3" stroke="#1c1c1c" stroke-width="5" />
<line x1="1181.8" y1="670.4" x2="1181.8" y2="681.4" stroke="#1c1c1c" stroke-width="5" />
<line x1="1279.5" y1="953.3" x2="1279.5" y2="942.3" stroke="#1c1c1c" stroke-width="5" />
<line x1="1279.5" y1="670.4" x2="1279.5" y2="681.4" stroke="#1c1c1c" stroke-width="5" />
<line x1="1377.2" y1="953.3" x2="1377.2" y2="942.3" stroke="#1c1c1c" stroke-width="5" />
<line x1="1377.2" y1="670.4" x2="1377.2" y2="681.4" stroke="#1c1c1c" stroke-width="5" />
<line x1="1084.3" y1="948.49" x2="1090.3" y2="948.49" stroke="#1c1c1c" stroke-width="4.5" />
<line x1="1437.7" y1="948.49" x2="1431.7" y2="948.49" stroke="#1c1c1c" stroke-width="4.5" />
<line x1="1084.3" y1="945.2" x2="1094.3" y2="945.2" stroke="#1c1c1c" stroke-width="5" />
<line x1="1437.7" y1="945.2" x2="1427.7" y2="945.2" stroke="#1c1c1c" stroke-width="5" />
<line x1="1084.3" y1="923.53" x2="1090.3" y2="923.53" stroke="#1c1c1c" stroke-width="4.5" />
<line x1="1437.7" y1="923.53" x2="1431.7" y2="923.53" stroke="#1c1c1c" stroke-width="4.5" />
<line x1="1084.3" y1="910.85" x2="1090.3" y2="910.85" stroke="#1c1c1c" stroke-width="4.5" />
<line x1="1437.7" y1="910.85" x2="1431.7" y2="910.85" stroke="#1c1c1c" stroke-width="4.5" />
<line x1="1084.3" y1="901.85" x2="1090.3" y2="901.85" stroke="#1c1c1c" stroke-width="4.5" />
<line x1="1437.7" y1="901.85" x2="1431.7" y2="901.85" stroke="#1c1c1c" stroke-width="4.5" />
<line x1="1084.3" y1="894.87" x2="1090.3" y2="894.87" stroke="#1c1c1c" stroke-width="4.5" />
<line x1="1437.7" y1="894.87" x2="1431.7" y2="894.87" stroke="#1c1c1c" stroke-width="4.5" />
<line x1="1084.3" y1="889.17" x2="1090.3" y2="889.17" stroke="#1c1c1c" stroke-width="4.5" />
<line x1="1437.7" y1="889.17" x2="1431.7" y2="889.17" stroke="#1c1c1c" stroke-width="4.5" />
<line x1="1084.3" y1="884.35" x2="1090.3" y2="884.35" stroke="#1c1c1c" stroke-width="4.5" />
<line x1="1437.7" y1="884.35" x2="1431.7" y2="884.35" stroke="#1c1c1c" stroke-width="4.5" />
<line x1="1084.3" y1="880.18" x2="1090.3" y2="880.18" stroke="#1c1c1c" stroke-width="4.5" />
<line x1="1437.7" y1="880.18" x2="1431.7" y2="880.18" stroke="#1c1c1c" stroke-width="4.5" />
<line x1="1084.3" y1="876.49" x2="1090.3" y2="876.49" stroke="#1c1c1c" stroke-width="4.5" />
<line x1="1437.7" y1="876.49" x2="1431.7" y2="876.49" stroke="#1c1c1c" stroke-width="4.5" />
<line x1="1084.3" y1="873.2" x2="1090.3" y2="873.2" stroke="#1c1c1c" stroke-width="4.5" />
<line x1="1437.7" y1="873.2" x2="1431.7" y2="873.2" stroke="#1c1c1c" stroke-width="4.5" />
<line x1="1084.3" y1="851.53" x2="1090.3" y2="851.53" stroke="#1c1c1c" stroke-width="4.5" />
<line x1="1437.7" y1="851.53" x2="1431.7" y2="851.53" stroke="#1c1c1c" stroke-width="4.5" />
<line x1="1084.3" y1="838.85" x2="1090.3" y2="838.85" stroke="#1c1c1c" stroke-width="4.5" />
<line x1="1437.7" y1="838.85" x2="1431.7" y2="838.85" stroke="#1c1c1c" stroke-width="4.5" />
<line x1="1084.3" y1="829.85" x2="1090.3" y2="829.85" stroke="#1c1c1c" stroke-width="4.5" />
<line x1="1437.7" y1="829.85" x2="1431.7" y2="829.85" stroke="#1c1c1c" stroke-width="4.5" />
<line x1="1084.3" y1="822.87" x2="1090.3" y2="822.87" stroke="#1c1c1c" stroke-width="4.5" />
<line x1="1437.7" y1="822.87" x2="1431.7" y2="822.87" stroke="#1c1c1c" stroke-width="4.5" />
<line x1="1084.3" y1="817.17" x2="1090.3" y2="817.17" stroke="#1c1c1c" stroke-width="4.5" />
<line x1="1437.7" y1="817.17" x2="1431.7" y2="817.17" stroke="#1c1c1c" stroke-width="4.5" />
<line x1="1084.3" y1="812.35" x2="1090.3" y2="812.35" stroke="#1c1c1c" stroke-width="4.5" />
<line x1="1437.7" y1="812.35" x2="1431.7" y2="812.35" stroke="#1c1c1c" stroke-width="4.5" />
<line x1="1084.3" y1="808.18" x2="1090.3" y2="808.18" stroke="#1c1c1c" stroke-width="4.5" />
<line x1="1437.7" y1="808.18" x2="1431.7" y2="808.18" stroke="#1c1c1c" stroke-width="4.5" />
<line x1="1084.3" y1="804.49" x2="1090.3" y2="804.49" stroke="#1c1c1c" stroke-width="4.5" />
<line x1="1437.7" y1="804.49" x2="1431.7" y2="804.49" stroke="#1c1c1c" stroke-width="4.5" />
<line x1="1084.3" y1="801.2" x2="1094.3" y2="801.2" stroke="#1c1c1c" stroke-width="5" />
<line x1="1437.7" y1="801.2" x2="1427.7" y2="801.2" stroke="#1c1c1c" stroke-width="5" />
<line x1="1084.3" y1="779.53" x2="1090.3" y2="779.53" stroke="#1c1c1c" stroke-width="4.5" />
<line x1="1437.7" y1="779.53" x2="1431.7" y2="779.53" stroke="#1c1c1c" stroke-width="4.5" />
<line x1="1084.3" y1="766.85" x2="1090.3" y2="766.85" stroke="#1c1c1c" stroke-width="4.5" />
<line x1="1437.7" y1="766.85" x2="1431.7" y2="766.85" stroke="#1c1c1c" stroke-width="4.5" />
<line x1="1084.3" y1="757.85" x2="1090.3" y2="757.85" stroke="#1c1c1c" stroke-width="4.5" />
<line x1="1437.7" y1="757.85" x2="1431.7" y2="757.85" stroke="#1c1c1c" stroke-width="4.5" />
<line x1="1084.3" y1="750.87" x2="1090.3" y2="750.87" stroke="#1c1c1c" stroke-width="4.5" />
<line x1="1437.7" y1="750.87" x2="1431.7" y2="750.87" stroke="#1c1c1c" stroke-width="4.5" />
<line x1="1084.3" y1="745.17" x2="1090.3" y2="745.17" stroke="#1c1c1c" stroke-width="4.5" />
<line x1="1437.7" y1="745.17" x2="1431.7" y2="745.17" stroke="#1c1c1c" stroke-width="4.5" />
<line x1="1084.3" y1="740.35" x2="1090.3" y2="740.35" stroke="#1c1c1c" stroke-width="4.5" />
<line x1="1437.7" y1="740.35" x2="1431.7" y2="740.35" stroke="#1c1c1c" stroke-width="4.5" />
<line x1="1084.3" y1="736.18" x2="1090.3" y2="736.18" stroke="#1c1c1c" stroke-width="4.5" />
<line x1="1437.7" y1="736.18" x2="1431.7" y2="736.18" stroke="#1c1c1c" stroke-width="4.5" />
<line x1="1084.3" y1="732.49" x2="1090.3" y2="732.49" stroke="#1c1c1c" stroke-width="4.5" />
<line x1="1437.7" y1="732.49" x2="1431.7" y2="732.49" stroke="#1c1c1c" stroke-width="4.5" />
<line x1="1084.3" y1="729.2" x2="1090.3" y2="729.2" stroke="#1c1c1c" stroke-width="4.5" />
<line x1="1437.7" y1="729.2" x2="1431.7" y2="729.2" stroke="#1c1c1c" stroke-width="4.5" />
<line x1="1084.3" y1="707.53" x2="1090.3" y2="707.53" stroke="#1c1c1c" stroke-width="4.5" />
<line x1="1437.7" y1="707.53" x2="1431.7" y2="707.53" stroke="#1c1c1c" stroke-width="4.5" />
<line x1="1084.3" y1="694.85" x2="1090.3" y2="694.85" stroke="#1c1c1c" stroke-width="4.5" />
<line x1="1437.7" y1="694.85" x2="1431.7" y2="694.85" stroke="#1c1c1c" stroke-width="4.5" />
<line x1="1084.3" y1="685.85" x2="1090.3" y2="685.85" stroke="#1c1c1c" stroke-width="4.5" />
<line x1="1437.7" y1="685.85" x2="1431.7" y2="685.85" stroke="#1c1c1c" stroke-width="4.5" />
<line x1="1084.3" y1="678.87" x2="1090.3" y2="678.87" stroke="#1c1c1c" stroke-width="4.5" />
<line x1="1437.7" y1="678.87" x2="1431.7" y2="678.87" stroke="#1c1c1c" stroke-width="4.5" />
<rect x="1351.6" y="670.9" width="88.9" height="282.4" fill="rgba(185,185,185,0.34)" />
<rect x="1323.2" y="800.5" width="104.5" height="142.3" fill="#fff" stroke="#1c1c1c" stroke-width="5" />
<circle cx="1335.7" cy="813.5" r="2.3" fill="#0000ff"/>
<text x="1347.2" y="820" font-size="19.2" font-family='"Liberation Sans", sans-serif' fill="#000" >Data</text>
<line x1="1325.7" y1="836.6" x2="1345.2" y2="836.6" stroke="#ff0000" stroke-width="7.5" />
<text x="1346.7" y="843.5" font-size="19.2" font-family='"Liberation Sans", sans-serif' fill="#000" >1 Term(s)</text>
<line x1="1325.7" y1="860.1" x2="1345.2" y2="860.1" stroke="#0000ff" stroke-width="7.5" />
<text x="1346.7" y="867" font-size="19.2" font-family='"Liberation Sans", sans-serif' fill="#000" >2 Term(s)</text>
<line x1="1325.7" y1="883.6" x2="1345.2" y2="883.6" stroke="#00ff00" stroke-width="6" />
<text x="1346.7" y="890.5" font-size="19.2" font-family='"Liberation Sans", sans-serif' fill="#000" >3 Term(s)</text>
<line x1="1325.7" y1="907.1" x2="1345.2" y2="907.1" stroke="#ff00ff" stroke-width="5" />
<text x="1346.7" y="914" font-size="19.2" font-family='"Liberation Sans", sans-serif' fill="#000" >4 Term(s)</text>
<line x1="1325.7" y1="930.6" x2="1345.2" y2="930.6" stroke="#000000" stroke-width="5" />
<text x="1346.7" y="937.5" font-size="19.2" font-family='"Liberation Sans", sans-serif' fill="#000" >5 Term(s)</text>
<text x="1084.1" y="986" font-size="21.5" font-family='"Liberation Sans", sans-serif' text-anchor="middle">10<tspan dy="-10.3" font-size="17">-5</tspan></text>
<text x="1181.8" y="986" font-size="21.5" font-family='"Liberation Sans", sans-serif' text-anchor="middle">10<tspan dy="-10.3" font-size="17">-4</tspan></text>
<text x="1279.5" y="986" font-size="21.5" font-family='"Liberation Sans", sans-serif' text-anchor="middle">10<tspan dy="-10.3" font-size="17">-3</tspan></text>
<text x="1377.2" y="986" font-size="21.5" font-family='"Liberation Sans", sans-serif' text-anchor="middle">10<tspan dy="-10.3" font-size="17">-2</tspan></text>
<text x="1079.3" y="812.8" font-size="21.5" font-family='"Liberation Sans", sans-serif' text-anchor="end">10<tspan dy="-10.3" font-size="17">-8</tspan></text>
<text x="1079.3" y="956.8" font-size="21.5" font-family='"Liberation Sans", sans-serif' text-anchor="end">10<tspan dy="-10.3" font-size="17">-10</tspan></text>
<text x="1259.7" y="1010" font-size="23" font-family='"Liberation Serif", serif' text-anchor="middle">Time [<tspan font-style="italic">s</tspan>]</text>
<text transform="translate(1018.5,811.4) rotate(-90)" font-size="24" font-family='"Liberation Serif", serif' text-anchor="middle" textLength="306" lengthAdjust="spacing">∫<tspan font-size="14" dy="5">0</tspan><tspan font-size="14" font-style="italic" dy="-16" dx="-7">t</tspan><tspan dy="11" dx="3" font-style="italic">Q</tspan>(<tspan font-style="italic">t</tspan> − <tspan font-style="italic">ξ</tspan>)<tspan font-style="italic">h</tspan><tspan font-size="15" dy="-9">3/2</tspan><tspan dy="9">(</tspan><tspan font-style="italic">ξ</tspan>)<tspan font-style="italic">dξ</tspan> [<tspan font-style="italic">N</tspan>/√(<tspan font-style="italic">m</tspan>)]</text>
<text x="1392" y="651" font-size="45.5" font-family='"Liberation Sans", sans-serif' fill="#000" font-weight="bold" >(e)</text>
</svg>
</body></html>
